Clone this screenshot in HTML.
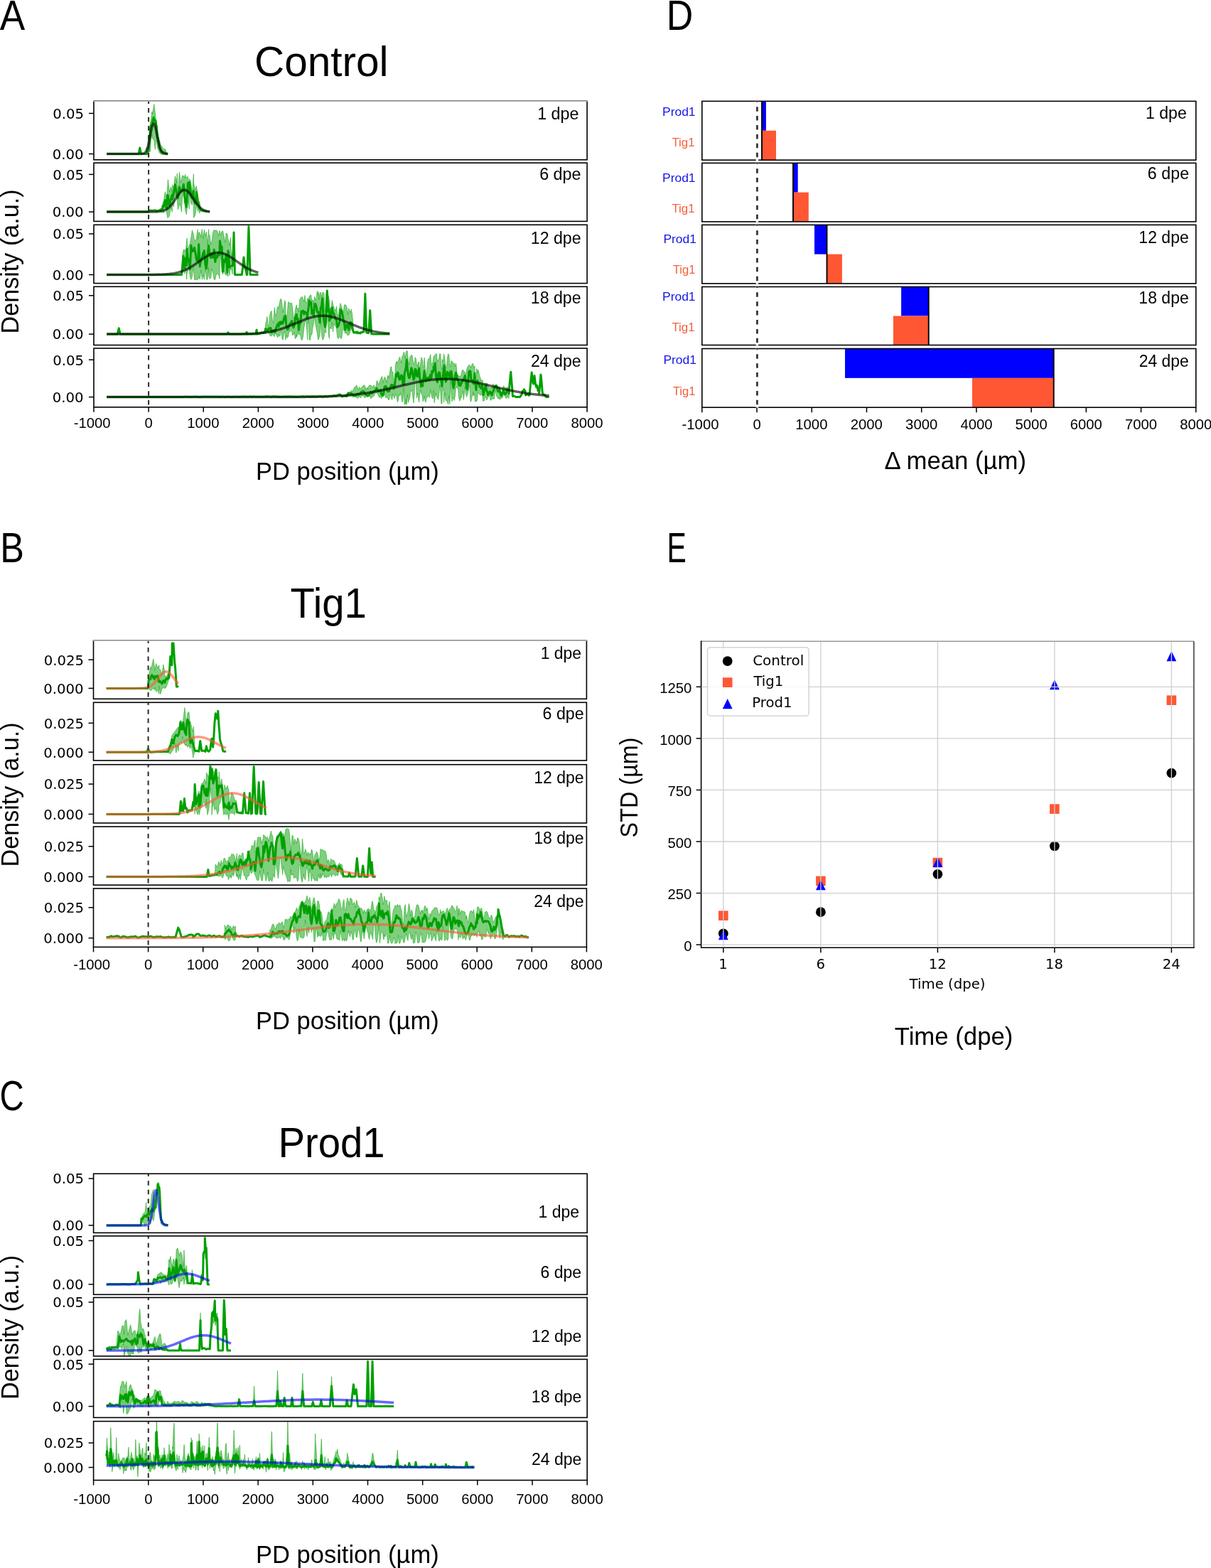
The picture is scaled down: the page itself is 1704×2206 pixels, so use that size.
<!DOCTYPE html><html><head><meta charset="utf-8"><title>Figure</title><style>html,body{margin:0;padding:0;background:#fff;}svg{display:block;}</style></head><body>
<svg width="1704" height="2206" viewBox="0 0 1704 2206">
<rect width="1704" height="2206" fill="#fff"/>
<clipPath id="clipA0"><rect x="132" y="142.2" width="694.1" height="82.6"/></clipPath>
<g clip-path="url(#clipA0)">
<path d="M204.26,216.5 L205.27,215.23 L206.27,207.15 L207.58,213.29 L208.27,199.21 L209.12,192.63 L210.28,193.48 L211.44,172.08 L212.28,170.4 L213.75,157.4 L214.29,160.27 L216.29,150.32 L216.83,146.59 L218.3,158.3 L219.15,166.01 L220.3,177.88 L221.46,176.6 L222.31,187.41 L224.32,199.01 L224.55,197.54 L226.32,205.05 L227.63,205.03 L228.33,207.61 L230.33,208.93 L232.26,211.92 L232.34,209.62 L234.34,215.09 L234.57,214.62 L236.19,216.5 L236.19,216.5 L234.57,216.78 L234.34,216.83 L232.34,216.87 L232.26,216.11 L230.33,216.04 L228.33,217.91 L227.63,214.06 L226.32,216.82 L224.55,215.22 L224.32,215.06 L222.31,209.8 L221.46,208.15 L220.3,198.03 L219.15,199.47 L218.3,210.52 L216.83,197.59 L216.29,196.94 L214.29,194.38 L213.75,189.29 L212.28,197.52 L211.44,213.02 L210.28,213.77 L209.12,211.39 L208.27,216.54 L207.58,216.95 L206.27,217.41 L205.27,216.98 L204.26,216.5Z" fill="#00a000" fill-opacity="0.5" stroke="#00a000" stroke-opacity="0.5" stroke-width="1" stroke-linejoin="round"/>
<path d="M150.12,216.5 L152.13,216.5 L154.13,216.5 L156.14,216.5 L158.14,216.5 L160.15,216.5 L162.15,216.5 L164.16,216.5 L166.17,216.5 L168.17,216.5 L170.18,216.5 L172.18,216.5 L174.19,216.5 L176.19,216.5 L178.2,216.5 L180.2,216.5 L182.21,216.5 L184.21,216.5 L186.22,216.5 L188.22,216.5 L190.23,216.5 L192.23,216.5 L194.24,216.5 L195.09,216.5 L196.24,210.75 L196.78,208.06 L198.25,215.35 L198.48,216.5 L200.25,216.5 L202.26,216.5 L204.26,216.5 L205.27,216.5 L206.27,216.5 L207.58,216.5 L208.27,213.18 L209.12,210.08 L210.28,200.04 L211.44,181.61 L212.28,176.77 L213.75,175.67 L214.29,171.81 L216.29,165.3 L216.83,170.01 L218.3,168.96 L219.15,170.38 L220.3,181.01 L221.46,192.94 L222.31,194.33 L224.32,205.08 L224.55,207.03 L226.32,211.23 L227.63,212.78 L228.33,213.61 L230.33,214.19 L232.26,215.51 L232.34,215.26 L234.34,215.96 L234.57,216.1 L236.19,216.5" fill="none" stroke="#00a000" stroke-width="3" stroke-linejoin="round"/>
<path d="M150.12,216.5 L152.13,216.5 L154.13,216.5 L156.14,216.5 L158.14,216.5 L160.15,216.5 L162.15,216.5 L164.16,216.5 L166.17,216.5 L168.17,216.5 L170.18,216.5 L172.18,216.5 L174.19,216.5 L176.19,216.5 L178.2,216.5 L180.2,216.5 L182.21,216.5 L184.21,216.5 L186.22,216.5 L188.22,216.5 L190.23,216.5 L192.23,216.5 L194.24,216.5 L195.09,216.5 L196.24,216.49 L196.78,216.49 L198.25,216.46 L198.48,216.46 L200.25,216.34 L202.26,215.9 L204.26,214.62 L205.27,213.39 L206.27,211.58 L207.58,208.12 L208.27,205.72 L209.12,202.25 L210.28,196.68 L211.44,190.5 L212.28,185.94 L213.75,178.98 L214.29,176.98 L216.29,173.64 L216.83,173.99 L218.3,177.51 L219.15,180.98 L220.3,186.76 L221.46,193.01 L222.31,197.47 L224.32,206.28 L224.55,207.1 L226.32,211.9 L227.63,214.02 L228.33,214.76 L230.33,215.95 L232.26,216.35 L232.34,216.35 L234.34,216.47 L234.57,216.47 L236.19,216.49" fill="none" stroke="#000000" stroke-opacity="0.62" stroke-width="3.5" stroke-linejoin="round"/>
</g>
<line x1="209.12" y1="142.2" x2="209.12" y2="224.8" stroke="#2e2828" stroke-width="2.0" stroke-dasharray="6.5,6.1" stroke-dashoffset="2.7"/>
<rect x="132" y="142.2" width="694.1" height="82.6" fill="none" stroke="#000" stroke-width="1.6"/>
<line x1="131.2" y1="142.2" x2="826.9" y2="142.2" stroke="#b0b0b0" stroke-width="1.6"/>
<line x1="125" y1="159.5" x2="132" y2="159.5" stroke="#000" stroke-width="1.5"/>
<text x="74.14" y="166.8" font-family='"DejaVu Sans", sans-serif' font-size="19.7">0.05</text>
<line x1="125" y1="216.5" x2="132" y2="216.5" stroke="#000" stroke-width="1.5"/>
<text x="73.75" y="223.8" font-family='"DejaVu Sans", sans-serif' font-size="19.7">0.00</text>
<clipPath id="clipA1"><rect x="132" y="229.2" width="694.1" height="82.2"/></clipPath>
<g clip-path="url(#clipA1)">
<path d="M226.86,296.56 L227.63,294.36 L228.33,292.17 L229.17,284.75 L230.33,283.17 L232.34,269.78 L234.34,279.46 L235.81,261.91 L236.35,252.76 L238.35,270.11 L240.36,262.98 L242.28,271.16 L242.36,259.86 L244.37,265.06 L246.37,247.67 L248.38,257.28 L249.23,244.21 L250.38,271.58 L252.39,242.29 L254.39,257.18 L255.4,252.45 L256.4,247.23 L258.4,247.39 L260.02,250.32 L260.41,245.59 L262.41,250.07 L264.42,248.32 L266.19,264.89 L266.42,251.56 L268.43,254.89 L270.43,272.83 L272.36,244.7 L272.44,255.89 L274.44,267.21 L276.22,261.92 L276.45,261.95 L278.46,274.53 L280.07,285.86 L280.46,283.18 L282.47,292.3 L283.16,295.05 L284.47,296.29 L284.47,296.29 L283.16,296.69 L282.47,296.4 L280.46,300.06 L280.07,292 L278.46,297.48 L276.45,283.6 L276.22,293.46 L274.44,303.59 L272.44,306.53 L272.36,277.13 L270.43,288.39 L268.43,285.76 L266.42,267.17 L266.19,293.93 L264.42,282.21 L262.41,301.87 L260.41,294.82 L260.02,282.52 L258.4,269.87 L256.4,280.25 L255.4,298.23 L254.39,291.04 L252.39,287.05 L250.38,294.81 L249.23,278.87 L248.38,277.31 L246.37,274.41 L244.37,290.92 L242.36,284.18 L242.28,298.19 L240.36,291.78 L238.35,303.87 L236.35,306.36 L235.81,306.53 L234.34,298.45 L232.34,290.35 L230.33,299.94 L229.17,291.11 L228.33,296.15 L227.63,297.59 L226.86,296.56Z" fill="#00a000" fill-opacity="0.5" stroke="#00a000" stroke-opacity="0.5" stroke-width="1" stroke-linejoin="round"/>
<path d="M150.12,298.1 L152.13,298.1 L154.13,298.1 L156.14,298.1 L158.14,298.1 L160.15,298.1 L162.15,298.1 L164.16,298.1 L166.17,298.1 L168.17,298.1 L170.18,298.1 L172.18,298.1 L174.19,298.1 L176.19,298.1 L178.2,298.1 L180.2,298.1 L182.21,298.1 L184.21,298.1 L186.22,298.1 L188.22,298.1 L190.23,298.1 L192.23,298.1 L194.24,298.1 L196.24,298.1 L198.25,298.1 L200.25,298.1 L202.26,298.1 L204.26,298.1 L206.27,298.1 L208.27,298.1 L209.12,298.1 L210.28,296.47 L210.66,296.12 L212.28,296.35 L214.29,296.23 L216.29,296.44 L218.3,295.71 L220.3,296.95 L222.31,296.43 L224.32,295.9 L226.32,294.69 L226.86,296.56 L227.63,295.91 L228.33,294.26 L229.17,289.63 L230.33,290.61 L232.34,281.49 L234.34,293.09 L235.81,274.58 L236.35,275.13 L238.35,289.61 L240.36,280.33 L242.28,274.06 L242.36,280.62 L244.37,271.92 L246.37,259.46 L248.38,271.51 L249.23,275.29 L250.38,278.76 L252.39,263.09 L254.39,269.61 L255.4,268.46 L256.4,267.64 L258.4,259.29 L260.02,278.28 L260.41,283.53 L262.41,291.2 L264.42,257.48 L266.19,269.99 L266.42,256.33 L268.43,271.54 L270.43,278.89 L272.36,268.57 L272.44,273.63 L274.44,286.14 L276.22,285.73 L276.45,270.13 L278.46,284.83 L280.07,289.65 L280.46,292.03 L282.47,295.6 L283.16,295.33 L284.47,296.29 L286.48,296.98 L288.48,296.99 L290.49,297.54 L292.49,297.61 L294.5,297.95 L295.11,298.1" fill="none" stroke="#00a000" stroke-width="3" stroke-linejoin="round"/>
<path d="M150.12,298.1 L152.13,298.1 L154.13,298.1 L156.14,298.1 L158.14,298.1 L160.15,298.1 L162.15,298.1 L164.16,298.1 L166.17,298.1 L168.17,298.1 L170.18,298.1 L172.18,298.1 L174.19,298.1 L176.19,298.1 L178.2,298.1 L180.2,298.1 L182.21,298.1 L184.21,298.1 L186.22,298.1 L188.22,298.1 L190.23,298.1 L192.23,298.1 L194.24,298.1 L196.24,298.1 L198.25,298.1 L200.25,298.1 L202.26,298.1 L204.26,298.1 L206.27,298.1 L208.27,298.1 L209.12,298.09 L210.28,298.09 L210.66,298.09 L212.28,298.08 L214.29,298.07 L216.29,298.04 L218.3,298 L220.3,297.93 L222.31,297.81 L224.32,297.63 L226.32,297.35 L226.86,297.26 L227.63,297.1 L228.33,296.94 L229.17,296.72 L230.33,296.36 L232.34,295.55 L234.34,294.47 L235.81,293.48 L236.35,293.07 L238.35,291.31 L240.36,289.18 L242.28,286.8 L242.36,286.69 L244.37,283.91 L246.37,280.91 L248.38,277.83 L249.23,276.55 L250.38,274.84 L252.39,272.13 L254.39,269.87 L255.4,268.97 L256.4,268.24 L258.4,267.36 L260.02,267.24 L260.41,267.29 L262.41,268.05 L264.42,269.58 L266.19,271.47 L266.42,271.75 L268.43,274.4 L270.43,277.36 L272.36,280.32 L272.44,280.43 L274.44,283.45 L276.22,285.97 L276.45,286.28 L278.46,288.82 L280.07,290.61 L280.46,291.01 L282.47,292.82 L283.16,293.37 L284.47,294.28 L286.48,295.41 L288.48,296.25 L290.49,296.87 L292.49,297.3 L294.5,297.59 L295.11,297.66" fill="none" stroke="#000000" stroke-opacity="0.62" stroke-width="3.5" stroke-linejoin="round"/>
</g>
<line x1="209.12" y1="229.2" x2="209.12" y2="311.4" stroke="#2e2828" stroke-width="2.0" stroke-dasharray="6.5,6.1" stroke-dashoffset="2.7"/>
<rect x="132" y="229.2" width="694.1" height="82.2" fill="none" stroke="#000" stroke-width="1.6"/>
<line x1="125" y1="245.4" x2="132" y2="245.4" stroke="#000" stroke-width="1.5"/>
<text x="74.14" y="252.7" font-family='"DejaVu Sans", sans-serif' font-size="19.7">0.05</text>
<line x1="125" y1="298.1" x2="132" y2="298.1" stroke="#000" stroke-width="1.5"/>
<text x="73.75" y="305.4" font-family='"DejaVu Sans", sans-serif' font-size="19.7">0.00</text>
<clipPath id="clipA2"><rect x="132" y="316.3" width="694.1" height="82.3"/></clipPath>
<g clip-path="url(#clipA2)">
<path d="M255.4,386.5 L256.55,359.94 L258.09,351.6 L259.64,351.11 L261.18,354.38 L262.72,338.23 L263.11,335.21 L264.26,351.03 L265.81,346.62 L267.35,342.26 L268.89,334.11 L270.43,323.82 L271.98,328.78 L273.52,337.14 L275.06,339.13 L276.6,334.46 L278.15,322.7 L278.53,336.35 L279.69,327.07 L281.23,327.51 L282.77,333.66 L284.32,322.24 L285.86,336.17 L287.4,323 L288.94,332.47 L290.49,325.95 L292.03,344.49 L293.57,322.65 L293.96,330.66 L295.11,330.9 L296.66,344.03 L298.2,338.64 L299.74,326.28 L301.28,323.22 L302.83,324.51 L304.37,323.65 L305.91,325.24 L307.45,331.66 L309,324.34 L309.38,325.45 L310.54,330.69 L312.08,325.51 L313.62,325.03 L315.17,332.51 L316.71,340.83 L318.25,328 L319.79,328.77 L320.95,337.21 L321.34,337.16 L322.88,345.21 L324.42,334.29 L325.96,367.91 L327.12,355.09 L327.5,373.66 L327.5,373.66 L327.12,385.78 L325.96,378.79 L324.42,378.12 L322.88,387.4 L321.34,361.81 L320.95,388.98 L319.79,386.35 L318.25,387.14 L316.71,386.07 L315.17,380.41 L313.62,386.02 L312.08,382.29 L310.54,362.45 L309.38,362.06 L309,392.31 L307.45,385.48 L305.91,385.75 L304.37,385.52 L302.83,393.23 L301.28,393.4 L299.74,384.32 L298.2,378.15 L296.66,391.05 L295.11,392.46 L293.96,388.5 L293.57,376.5 L292.03,393.4 L290.49,392.81 L288.94,375.8 L287.4,393.4 L285.86,386.72 L284.32,393.4 L282.77,379.89 L281.23,393.08 L279.69,389.08 L278.53,393.4 L278.15,393.06 L276.6,393.4 L275.06,393.4 L273.52,393.4 L271.98,374.58 L270.43,388.98 L268.89,393.4 L267.35,389.11 L265.81,375.76 L264.26,381.45 L263.11,384.73 L262.72,392.99 L261.18,376.43 L259.64,385.11 L258.09,377.26 L256.55,385.63 L255.4,386.5Z" fill="#00a000" fill-opacity="0.5" stroke="#00a000" stroke-opacity="0.5" stroke-width="1" stroke-linejoin="round"/>
<path d="M150.12,386.5 L151.67,386.5 L153.21,386.5 L154.75,386.5 L156.29,386.5 L157.84,386.5 L159.38,386.5 L160.92,386.5 L162.46,386.5 L164.01,386.5 L165.55,386.5 L167.09,386.5 L168.63,386.5 L170.18,386.5 L171.72,386.5 L173.26,386.5 L174.8,386.5 L176.35,386.5 L177.89,386.5 L179.43,386.5 L180.97,386.5 L182.52,386.5 L184.06,386.5 L185.6,386.5 L187.14,386.5 L188.68,386.5 L190.23,386.5 L191.77,386.5 L193.31,386.5 L194.85,386.5 L196.4,386.5 L197.94,386.5 L199.48,386.5 L201.02,386.5 L202.57,386.5 L204.11,386.5 L205.65,386.5 L207.19,386.5 L208.74,386.5 L210.28,386.5 L211.82,386.5 L213.36,386.5 L214.91,386.5 L216.45,386.5 L217.99,386.5 L219.53,386.5 L221.08,386.5 L222.62,386.5 L224.16,386.5 L225.7,386.5 L227.25,386.5 L228.79,386.5 L230.33,386.5 L231.87,386.5 L233.42,386.5 L234.96,386.5 L236.5,386.5 L238.04,386.5 L239.59,386.5 L241.13,386.5 L242.67,386.5 L244.21,386.5 L245.76,386.5 L247.3,386.5 L248.84,386.5 L250.38,386.5 L251.93,386.5 L253.47,386.5 L255.01,386.5 L255.4,386.5 L256.55,376.06 L258.09,360.38 L259.64,377.01 L261.18,363.33 L262.72,373.46 L263.11,350.57 L264.26,363.36 L265.81,366.24 L267.35,378.91 L268.89,345.14 L270.43,353.73 L271.98,353.12 L273.52,348.51 L275.06,356.22 L276.6,366.39 L278.15,367.81 L278.53,367.73 L279.69,343.77 L281.23,375.02 L282.77,365.48 L284.32,362.45 L285.86,356.42 L287.4,352.55 L288.94,372.69 L290.49,378 L292.03,358.95 L293.57,345.5 L293.96,350.54 L295.11,356.71 L296.66,362.75 L298.2,356.37 L299.74,362.36 L301.28,351.33 L302.83,368.57 L304.37,359.05 L305.91,361.83 L307.45,355.35 L309,358.86 L309.38,338.94 L310.54,346.4 L312.08,346.91 L313.62,382 L315.17,365.64 L316.71,368.46 L318.25,357.95 L319.79,383.71 L320.95,352.69 L321.34,354.19 L322.88,376.33 L324.42,374.44 L325.96,374 L327.12,374.02 L327.5,373.66 L327.66,369.39 L329.05,327.12 L329.43,344.97 L330.44,386.5 L330.59,386.5 L332.13,386.5 L333.67,386.5 L335.22,386.5 L336.76,386.5 L338.3,386.5 L339.84,386.5 L340.23,386.5 L341.39,377.85 L341.85,375.2 L342.93,362.02 L343.7,368.3 L344.47,375.53 L345.63,379.64 L346.01,378.39 L347.17,386.5 L347.56,386.5 L347.79,386.5 L349.1,345.31 L349.95,318.65 L350.64,340.46 L352.11,386.5 L352.18,386.5 L353.73,386.5 L355.27,386.5 L355.65,386.5 L356.81,386.5 L358.35,386.5 L359.9,386.5 L361.44,386.5 L362.98,386.5 L363.44,386.5" fill="none" stroke="#00a000" stroke-width="3" stroke-linejoin="round"/>
<path d="M150.12,386.5 L151.67,386.5 L153.21,386.5 L154.75,386.5 L156.29,386.5 L157.84,386.5 L159.38,386.5 L160.92,386.5 L162.46,386.5 L164.01,386.5 L165.55,386.5 L167.09,386.5 L168.63,386.5 L170.18,386.5 L171.72,386.5 L173.26,386.5 L174.8,386.5 L176.35,386.5 L177.89,386.5 L179.43,386.5 L180.97,386.5 L182.52,386.5 L184.06,386.5 L185.6,386.5 L187.14,386.5 L188.68,386.5 L190.23,386.5 L191.77,386.5 L193.31,386.5 L194.85,386.5 L196.4,386.5 L197.94,386.49 L199.48,386.49 L201.02,386.49 L202.57,386.49 L204.11,386.48 L205.65,386.48 L207.19,386.48 L208.74,386.47 L210.28,386.46 L211.82,386.45 L213.36,386.44 L214.91,386.43 L216.45,386.41 L217.99,386.39 L219.53,386.37 L221.08,386.34 L222.62,386.31 L224.16,386.27 L225.7,386.23 L227.25,386.17 L228.79,386.11 L230.33,386.04 L231.87,385.95 L233.42,385.86 L234.96,385.74 L236.5,385.61 L238.04,385.47 L239.59,385.3 L241.13,385.11 L242.67,384.89 L244.21,384.65 L245.76,384.37 L247.3,384.07 L248.84,383.73 L250.38,383.36 L251.93,382.94 L253.47,382.49 L255.01,382 L255.4,381.86 L256.55,381.46 L258.09,380.87 L259.64,380.24 L261.18,379.56 L262.72,378.83 L263.11,378.64 L264.26,378.06 L265.81,377.24 L267.35,376.38 L268.89,375.47 L270.43,374.52 L271.98,373.54 L273.52,372.52 L275.06,371.47 L276.6,370.4 L278.15,369.32 L278.53,369.04 L279.69,368.22 L281.23,367.12 L282.77,366.02 L284.32,364.93 L285.86,363.87 L287.4,362.83 L288.94,361.83 L290.49,360.88 L292.03,359.98 L293.57,359.14 L293.96,358.94 L295.11,358.37 L296.66,357.68 L298.2,357.07 L299.74,356.55 L301.28,356.13 L302.83,355.81 L304.37,355.59 L305.91,355.47 L307.45,355.46 L309,355.55 L309.38,355.59 L310.54,355.75 L312.08,356.06 L313.62,356.46 L315.17,356.96 L316.71,357.55 L318.25,358.23 L319.79,358.98 L320.95,359.59 L321.34,359.8 L322.88,360.69 L324.42,361.64 L325.96,362.63 L327.12,363.4 L327.5,363.66 L327.66,363.76 L329.05,364.72 L329.43,364.99 L330.44,365.69 L330.59,365.8 L332.13,366.9 L333.67,368 L335.22,369.1 L336.76,370.19 L338.3,371.26 L339.84,372.31 L340.23,372.57 L341.39,373.33 L341.85,373.64 L342.93,374.33 L343.7,374.81 L344.47,375.28 L345.63,375.97 L346.01,376.2 L347.17,376.86 L347.56,377.07 L347.79,377.2 L349.1,377.9 L349.95,378.34 L350.64,378.68 L352.11,379.38 L352.18,379.42 L353.73,380.11 L355.27,380.75 L355.65,380.9 L356.81,381.34 L358.35,381.89 L359.9,382.4 L361.44,382.86 L362.98,383.28 L363.44,383.4" fill="none" stroke="#000000" stroke-opacity="0.62" stroke-width="3.5" stroke-linejoin="round"/>
</g>
<line x1="209.12" y1="316.3" x2="209.12" y2="398.6" stroke="#2e2828" stroke-width="2.0" stroke-dasharray="6.5,6.1" stroke-dashoffset="2.7"/>
<rect x="132" y="316.3" width="694.1" height="82.3" fill="none" stroke="#000" stroke-width="1.6"/>
<line x1="125" y1="329" x2="132" y2="329" stroke="#000" stroke-width="1.5"/>
<text x="74.14" y="336.3" font-family='"DejaVu Sans", sans-serif' font-size="19.7">0.05</text>
<line x1="125" y1="386.5" x2="132" y2="386.5" stroke="#000" stroke-width="1.5"/>
<text x="73.75" y="393.8" font-family='"DejaVu Sans", sans-serif' font-size="19.7">0.00</text>
<clipPath id="clipA3"><rect x="132" y="403.3" width="694.1" height="82.2"/></clipPath>
<g clip-path="url(#clipA3)">
<path d="M373.47,463.85 L373.62,455.92 L374.7,452.09 L375.94,445.56 L377.17,458.06 L378.41,458.93 L379.64,443.42 L380.87,438.9 L382.11,437.29 L383.34,451.52 L384.58,454.43 L385.81,437.02 L386.5,432.63 L387.04,440.96 L388.28,444.83 L389.51,436.15 L390.75,431.29 L391.98,433.78 L393.21,427.08 L394.45,421.15 L395.68,420.35 L396.91,428.09 L398.15,439.82 L399.38,432.9 L400.62,422.58 L401.85,425.89 L401.93,440.51 L403.08,451.77 L404.32,438.92 L405.55,424.81 L406.79,425.37 L408.02,427.11 L409.25,426.49 L410.49,426.16 L411.72,433.26 L412.96,447.87 L414.19,445.83 L415.42,436.11 L416.66,430.99 L417.35,428.85 L417.89,434.49 L419.13,433.32 L420.36,438.91 L421.59,421.96 L422.83,419.14 L424.06,418.14 L425.3,417.41 L426.53,421.01 L427.76,424.56 L429,415.51 L430.23,425.89 L431.47,426.13 L432.7,419.86 L432.78,419.95 L433.93,420.82 L435.17,416.87 L436.4,415.45 L437.64,414.92 L438.87,424.18 L440.1,421.87 L441.34,426.92 L442.57,417.35 L443.81,421.97 L445.04,419.81 L446.27,409.57 L447.51,414.97 L448.2,410.38 L448.74,421.65 L449.97,413.13 L451.21,410.91 L452.44,418.16 L453.68,411.64 L454.91,410.92 L456.14,414.05 L457.38,438.1 L458.61,432.54 L459.85,413.63 L460.31,408.8 L461.08,417.51 L462.01,417.19 L462.31,416.58 L463.55,424.26 L463.63,433.79 L464.78,432.47 L466.02,433.97 L467.25,422.44 L468.48,427.74 L469.72,432.03 L470.95,435.57 L472.19,437.6 L473.42,430.88 L474.65,441.45 L475.89,445.34 L477.12,436.75 L478.36,429.37 L479.05,426.66 L479.59,428.22 L480.82,432.11 L482.06,439.33 L483.29,438.23 L484.53,428.59 L485.76,429.02 L486.99,429.46 L488.23,433.06 L489.46,442.29 L490.7,433.82 L491.93,436.93 L493.16,439.72 L494.4,434.79 L494.47,436.83 L495.63,442.27 L496.87,455.02 L497.56,463.64 L498.1,467.43 L498.1,467.43 L497.56,470.1 L496.87,467.88 L495.63,463.19 L494.47,457.63 L494.4,461.84 L493.16,464.94 L491.93,469.3 L490.7,471.19 L489.46,472.18 L488.23,470.65 L486.99,467.38 L485.76,469.24 L484.53,465.22 L483.29,463.58 L482.06,464.94 L480.82,475.99 L479.59,476.43 L479.05,475.63 L478.36,473.65 L477.12,473.27 L475.89,476.75 L474.65,474.4 L473.42,462.18 L472.19,458.79 L470.95,457.82 L469.72,455.7 L468.48,466.87 L467.25,453.41 L466.02,463.18 L464.78,460.22 L463.63,463.18 L463.55,476.45 L462.31,472.31 L462.01,463.01 L461.08,453.15 L460.31,427.63 L459.85,448.11 L458.61,468.35 L457.38,465.45 L456.14,473.36 L454.91,477.64 L453.68,477.69 L452.44,470.28 L451.21,450.73 L449.97,472.34 L448.74,475.91 L448.2,477.92 L447.51,477.95 L446.27,468.6 L445.04,462.23 L443.81,455.74 L442.57,444.09 L441.34,455.31 L440.1,460.73 L438.87,471.04 L437.64,470.53 L436.4,478.25 L435.17,478.25 L433.93,448.99 L432.78,457.02 L432.7,478.25 L431.47,459.51 L430.23,445.41 L429,455.14 L427.76,460.65 L426.53,473.47 L425.3,478.25 L424.06,478.25 L422.83,472.77 L421.59,469.77 L420.36,470.96 L419.13,466.83 L417.89,474.03 L417.35,470.68 L416.66,475.6 L415.42,476.63 L414.19,467.89 L412.96,470.4 L411.72,472.02 L410.49,466.12 L409.25,464.43 L408.02,466.69 L406.79,466.38 L405.55,473.53 L404.32,475.49 L403.08,471.55 L401.93,478.25 L401.85,478.25 L400.62,465.89 L399.38,469.64 L398.15,478.25 L396.91,476.54 L395.68,461.95 L394.45,471.87 L393.21,473.4 L391.98,470.7 L390.75,474.84 L389.51,472.92 L388.28,469.22 L387.04,469.74 L386.5,471.32 L385.81,473.72 L384.58,471.73 L383.34,469.65 L382.11,472.72 L380.87,472.97 L379.64,471.43 L378.41,468.46 L377.17,467.68 L375.94,467.55 L374.7,467.91 L373.62,470.1 L373.47,463.85Z" fill="#00a000" fill-opacity="0.5" stroke="#00a000" stroke-opacity="0.5" stroke-width="1" stroke-linejoin="round"/>
<path d="M150.12,470.1 L151.36,470.1 L152.59,470.1 L153.83,470.1 L155.06,470.1 L156.29,470.1 L157.53,470.1 L158.76,470.1 L160,470.1 L161.23,470.1 L162.46,470.1 L163.7,470.1 L164.93,470.1 L165.32,470.1 L166.17,466.42 L167.24,461.74 L167.4,462.41 L168.63,467.76 L169.17,470.1 L169.87,470.1 L171.1,470.1 L172.33,470.1 L173.57,470.1 L174.8,470.1 L176.04,470.1 L177.27,470.1 L178.5,470.1 L179.74,470.1 L180.97,470.1 L182.21,470.1 L183.44,470.1 L184.67,470.1 L185.91,470.1 L187.14,470.1 L188.38,470.1 L189.61,470.1 L190.84,470.1 L192.08,470.1 L193.31,470.1 L194.55,470.1 L195.78,470.1 L197.01,470.1 L198.25,470.1 L199.48,470.1 L200.72,470.1 L201.95,470.1 L203.18,470.1 L204.42,470.1 L205.65,470.1 L206.89,470.1 L208.12,470.1 L209.35,470.1 L210.59,470.1 L211.82,470.1 L213.06,470.1 L214.29,470.1 L215.52,470.1 L216.76,470.1 L217.99,470.1 L219.23,470.1 L220.46,470.1 L221.69,470.1 L222.93,470.1 L224.16,470.1 L225.4,470.1 L226.63,470.1 L227.86,470.1 L229.1,470.1 L230.33,470.1 L231.56,470.1 L232.8,470.1 L234.03,470.1 L235.27,470.1 L236.5,470.1 L237.73,470.1 L238.97,470.1 L240.2,470.1 L241.44,470.1 L242.67,470.1 L243.9,470.1 L245.14,470.1 L246.37,470.1 L247.61,470.1 L248.84,470.1 L250.07,470.1 L251.31,470.1 L252.54,470.1 L253.78,470.1 L255.01,470.1 L256.24,470.1 L257.48,470.1 L258.71,470.1 L259.95,470.1 L261.18,470.1 L262.41,470.1 L263.65,470.1 L264.88,470.1 L266.12,470.1 L267.35,470.1 L268.58,470.1 L269.82,470.1 L271.05,470.1 L272.29,470.1 L273.52,470.1 L274.75,470.1 L275.99,470.1 L277.22,470.1 L278.46,470.1 L279.69,470.1 L280.92,470.1 L282.16,470.1 L283.39,470.1 L284.62,470.1 L285.86,470.1 L287.09,470.1 L288.33,470.1 L289.56,470.1 L290.79,470.1 L292.03,470.1 L293.26,470.1 L294.5,470.1 L295.73,470.1 L296.96,470.1 L298.2,470.1 L299.43,470.1 L300.67,470.1 L301.9,470.1 L303.13,470.1 L304.37,470.1 L305.6,470.1 L306.84,470.1 L308.07,470.1 L309.3,470.1 L310.54,470.1 L311.77,470.1 L313.01,470.1 L314.24,470.1 L315.47,470.1 L316.71,470.1 L317.94,470.1 L319.18,470.1 L319.79,470.1 L320.41,468.94 L320.95,467.93 L321.64,469.23 L322.11,470.1 L322.88,470.1 L324.11,470.1 L325.35,470.1 L326.58,470.1 L327.81,470.1 L329.05,470.1 L330.28,470.1 L331.52,470.1 L332.75,470.1 L333.98,470.1 L335.22,470.1 L336.45,470.1 L337.68,470.1 L338.92,470.1 L340.15,470.1 L341.39,470.1 L342.62,470.1 L343.85,470.1 L345.09,470.1 L346.32,470.1 L346.4,470.1 L346.94,467.23 L347.56,468.42 L347.94,470.1 L348.79,470.1 L350.02,470.1 L351.26,470.1 L352.49,470.1 L353.73,470.1 L354.96,470.1 L356.19,470.1 L357.43,470.1 L358.66,470.1 L359.9,470.1 L360.28,470.1 L360.9,464.45 L361.13,464.16 L361.82,470.1 L362.36,469.87 L363.6,469.49 L364.83,469.4 L366.07,468.84 L367.3,468.72 L368.53,467.81 L369.77,468.32 L371,468.44 L372.24,466.76 L373.47,463.85 L373.62,462.43 L374.7,463.2 L375.94,465.54 L377.17,464.86 L378.41,461.9 L379.64,462.54 L380.87,461.25 L382.11,467.77 L383.34,465.11 L384.58,466.49 L385.81,464.55 L386.5,467.05 L387.04,467.45 L388.28,462 L389.51,459.11 L390.75,455.74 L391.98,459.63 L393.21,453.15 L394.45,456.07 L395.68,452.65 L396.91,455.55 L398.15,454.49 L399.38,448.88 L400.62,444.9 L401.85,444.21 L401.93,448.31 L403.08,459.37 L404.32,463.71 L405.55,462.81 L406.79,458.33 L408.02,455.04 L409.25,454.56 L410.49,451.48 L411.72,456.72 L412.96,461.05 L414.19,457.82 L415.42,446.82 L416.66,443.72 L417.35,442.44 L417.89,449.97 L419.13,448.14 L420.36,464.3 L421.59,455.99 L422.83,454.42 L424.06,438.03 L425.3,438.3 L426.53,437.17 L427.76,441.93 L429,438.57 L430.23,439.62 L431.47,441.05 L432.7,447.57 L432.78,441.51 L433.93,434.56 L435.17,422.63 L436.4,427.86 L437.64,425.32 L438.87,441.47 L440.1,436.77 L441.34,443.9 L442.57,427.98 L443.81,427.6 L445.04,431.08 L446.27,438.54 L447.51,440.07 L448.2,439.04 L448.74,445 L449.97,453.8 L451.21,433.42 L452.44,430.81 L453.68,419.77 L454.91,444.4 L456.14,452.49 L457.38,459.86 L458.61,453.43 L459.85,413.91 L460.31,409 L461.08,422.04 L462.01,438.45 L462.31,437.94 L463.55,435.87 L463.63,451.26 L464.78,443.98 L466.02,447.81 L467.25,432.64 L468.48,439.39 L469.72,441.21 L470.95,445.66 L472.19,448.81 L473.42,450.27 L474.65,460.36 L475.89,458.34 L477.12,455.4 L478.36,448.61 L479.05,435.52 L479.59,435.98 L480.82,437.01 L482.06,442.91 L483.29,450.58 L484.53,455.75 L485.76,464.22 L486.99,457.3 L488.23,460.62 L489.46,456.9 L490.7,464.29 L491.93,459.76 L493.16,453.39 L494.4,453.94 L494.47,455.24 L495.63,461.86 L496.87,465.79 L497.56,467.5 L498.1,467.43 L499.33,467.9 L500.57,467.11 L501.8,468.47 L503.04,466.97 L504.27,468.79 L505.5,468.15 L506.74,468.95 L507.97,467.47 L509.2,467.84 L509.9,467.41 L510.44,466.81 L511.67,466.67 L511.98,466.63 L512.91,440.33 L513.83,413.31 L514.14,422.12 L515.37,459.34 L515.68,467.77 L516.61,468.19 L517.84,468.58 L518.77,468.52 L519.08,463.43 L520.31,442.69 L520.7,436.87 L521.54,451.4 L522.62,469.75 L522.78,469.62 L524.01,469.76 L525.25,470.1 L526.48,470.1 L527.71,470.1 L528.95,470.1 L530.18,470.1 L531.42,470.1 L532.65,470.1 L533.88,470.1 L535.12,470.1 L536.35,470.1 L537.59,470.1 L538.82,470.1 L540.05,470.1 L541.29,470.1 L542.52,470.1 L543.76,470.1 L544.99,470.1 L546.22,470.1 L547.46,470.1 L548.31,470.1" fill="none" stroke="#00a000" stroke-width="3" stroke-linejoin="round"/>
<path d="M150.12,470.1 L151.36,470.1 L152.59,470.1 L153.83,470.1 L155.06,470.1 L156.29,470.1 L157.53,470.1 L158.76,470.1 L160,470.1 L161.23,470.1 L162.46,470.1 L163.7,470.1 L164.93,470.1 L165.32,470.1 L166.17,470.1 L167.24,470.1 L167.4,470.1 L168.63,470.1 L169.17,470.1 L169.87,470.1 L171.1,470.1 L172.33,470.1 L173.57,470.1 L174.8,470.1 L176.04,470.1 L177.27,470.1 L178.5,470.1 L179.74,470.1 L180.97,470.1 L182.21,470.1 L183.44,470.1 L184.67,470.1 L185.91,470.1 L187.14,470.1 L188.38,470.1 L189.61,470.1 L190.84,470.1 L192.08,470.1 L193.31,470.1 L194.55,470.1 L195.78,470.1 L197.01,470.1 L198.25,470.1 L199.48,470.1 L200.72,470.1 L201.95,470.1 L203.18,470.1 L204.42,470.1 L205.65,470.1 L206.89,470.1 L208.12,470.1 L209.35,470.1 L210.59,470.1 L211.82,470.1 L213.06,470.1 L214.29,470.1 L215.52,470.1 L216.76,470.1 L217.99,470.1 L219.23,470.1 L220.46,470.1 L221.69,470.1 L222.93,470.1 L224.16,470.1 L225.4,470.1 L226.63,470.1 L227.86,470.1 L229.1,470.1 L230.33,470.1 L231.56,470.1 L232.8,470.1 L234.03,470.1 L235.27,470.1 L236.5,470.1 L237.73,470.1 L238.97,470.1 L240.2,470.1 L241.44,470.1 L242.67,470.1 L243.9,470.1 L245.14,470.1 L246.37,470.1 L247.61,470.1 L248.84,470.1 L250.07,470.1 L251.31,470.1 L252.54,470.1 L253.78,470.1 L255.01,470.1 L256.24,470.1 L257.48,470.1 L258.71,470.1 L259.95,470.1 L261.18,470.1 L262.41,470.1 L263.65,470.1 L264.88,470.1 L266.12,470.1 L267.35,470.1 L268.58,470.1 L269.82,470.1 L271.05,470.1 L272.29,470.1 L273.52,470.1 L274.75,470.1 L275.99,470.1 L277.22,470.1 L278.46,470.1 L279.69,470.1 L280.92,470.1 L282.16,470.1 L283.39,470.1 L284.62,470.1 L285.86,470.1 L287.09,470.1 L288.33,470.1 L289.56,470.1 L290.79,470.1 L292.03,470.1 L293.26,470.1 L294.5,470.1 L295.73,470.1 L296.96,470.1 L298.2,470.1 L299.43,470.1 L300.67,470.1 L301.9,470.09 L303.13,470.09 L304.37,470.09 L305.6,470.09 L306.84,470.09 L308.07,470.09 L309.3,470.09 L310.54,470.09 L311.77,470.08 L313.01,470.08 L314.24,470.08 L315.47,470.08 L316.71,470.07 L317.94,470.07 L319.18,470.07 L319.79,470.07 L320.41,470.06 L320.95,470.06 L321.64,470.06 L322.11,470.06 L322.88,470.05 L324.11,470.05 L325.35,470.04 L326.58,470.03 L327.81,470.03 L329.05,470.02 L330.28,470.01 L331.52,470 L332.75,469.98 L333.98,469.97 L335.22,469.96 L336.45,469.94 L337.68,469.92 L338.92,469.9 L340.15,469.88 L341.39,469.86 L342.62,469.83 L343.85,469.8 L345.09,469.77 L346.32,469.74 L346.4,469.73 L346.94,469.72 L347.56,469.7 L347.94,469.69 L348.79,469.66 L350.02,469.62 L351.26,469.57 L352.49,469.52 L353.73,469.46 L354.96,469.4 L356.19,469.33 L357.43,469.26 L358.66,469.19 L359.9,469.1 L360.28,469.08 L360.9,469.03 L361.13,469.02 L361.82,468.96 L362.36,468.92 L363.6,468.82 L364.83,468.71 L366.07,468.6 L367.3,468.47 L368.53,468.34 L369.77,468.2 L371,468.05 L372.24,467.89 L373.47,467.72 L373.62,467.7 L374.7,467.54 L375.94,467.35 L377.17,467.15 L378.41,466.94 L379.64,466.72 L380.87,466.48 L382.11,466.24 L383.34,465.98 L384.58,465.71 L385.81,465.43 L386.5,465.26 L387.04,465.13 L388.28,464.82 L389.51,464.5 L390.75,464.17 L391.98,463.82 L393.21,463.46 L394.45,463.09 L395.68,462.7 L396.91,462.3 L398.15,461.89 L399.38,461.47 L400.62,461.04 L401.85,460.59 L401.93,460.56 L403.08,460.14 L404.32,459.67 L405.55,459.2 L406.79,458.71 L408.02,458.22 L409.25,457.72 L410.49,457.21 L411.72,456.7 L412.96,456.19 L414.19,455.67 L415.42,455.14 L416.66,454.62 L417.35,454.32 L417.89,454.1 L419.13,453.57 L420.36,453.05 L421.59,452.53 L422.83,452.02 L424.06,451.51 L425.3,451.01 L426.53,450.51 L427.76,450.03 L429,449.56 L430.23,449.1 L431.47,448.65 L432.7,448.22 L432.78,448.2 L433.93,447.81 L435.17,447.41 L436.4,447.03 L437.64,446.67 L438.87,446.34 L440.1,446.02 L441.34,445.73 L442.57,445.46 L443.81,445.22 L445.04,445 L446.27,444.81 L447.51,444.65 L448.2,444.57 L448.74,444.51 L449.97,444.41 L451.21,444.33 L452.44,444.28 L453.68,444.25 L454.91,444.26 L456.14,444.3 L457.38,444.36 L458.61,444.46 L459.85,444.58 L460.31,444.63 L461.08,444.73 L462.01,444.86 L462.31,444.9 L463.55,445.11 L463.63,445.12 L464.78,445.34 L466.02,445.59 L467.25,445.87 L468.48,446.18 L469.72,446.5 L470.95,446.85 L472.19,447.22 L473.42,447.61 L474.65,448.01 L475.89,448.44 L477.12,448.87 L478.36,449.33 L479.05,449.59 L479.59,449.79 L480.82,450.27 L482.06,450.76 L483.29,451.26 L484.53,451.76 L485.76,452.27 L486.99,452.79 L488.23,453.31 L489.46,453.83 L490.7,454.36 L491.93,454.88 L493.16,455.41 L494.4,455.93 L494.47,455.96 L495.63,456.45 L496.87,456.96 L497.56,457.25 L498.1,457.47 L499.33,457.97 L500.57,458.47 L501.8,458.96 L503.04,459.43 L504.27,459.9 L505.5,460.37 L506.74,460.82 L507.97,461.25 L509.2,461.68 L509.9,461.92 L510.44,462.1 L511.67,462.5 L511.98,462.6 L512.91,462.89 L513.83,463.18 L514.14,463.27 L515.37,463.64 L515.68,463.73 L516.61,463.99 L517.84,464.33 L518.77,464.58 L519.08,464.66 L520.31,464.98 L520.7,465.07 L521.54,465.28 L522.62,465.53 L522.78,465.57 L524.01,465.85 L525.25,466.11 L526.48,466.36 L527.71,466.6 L528.95,466.83 L530.18,467.05 L531.42,467.25 L532.65,467.45 L533.88,467.63 L535.12,467.81 L536.35,467.97 L537.59,468.12 L538.82,468.27 L540.05,468.41 L541.29,468.53 L542.52,468.65 L543.76,468.77 L544.99,468.87 L546.22,468.97 L547.46,469.06 L548.31,469.12" fill="none" stroke="#000000" stroke-opacity="0.62" stroke-width="3.5" stroke-linejoin="round"/>
</g>
<line x1="209.12" y1="403.3" x2="209.12" y2="485.5" stroke="#2e2828" stroke-width="2.0" stroke-dasharray="6.5,6.1" stroke-dashoffset="2.7"/>
<rect x="132" y="403.3" width="694.1" height="82.2" fill="none" stroke="#000" stroke-width="1.6"/>
<line x1="125" y1="415.8" x2="132" y2="415.8" stroke="#000" stroke-width="1.5"/>
<text x="74.14" y="423.1" font-family='"DejaVu Sans", sans-serif' font-size="19.7">0.05</text>
<line x1="125" y1="470.1" x2="132" y2="470.1" stroke="#000" stroke-width="1.5"/>
<text x="73.75" y="477.4" font-family='"DejaVu Sans", sans-serif' font-size="19.7">0.00</text>
<clipPath id="clipA4"><rect x="132" y="490" width="694.1" height="82.8"/></clipPath>
<g clip-path="url(#clipA4)">
<path d="M488.07,557.62 L488.23,553.36 L489.15,552.6 L490.23,551.7 L491.31,552.4 L492.39,551.36 L493.47,550.61 L494.55,549.47 L495.63,549.57 L496.71,550.25 L497.79,546.59 L498.87,544.57 L499.95,544.66 L501.03,542.87 L502.11,541.9 L503.19,546.25 L504.27,548.78 L505.35,544.36 L506.43,545.56 L507.51,546.69 L508.59,545.5 L509.67,543.93 L510.75,543.29 L511.83,541.83 L512.91,541.83 L513.99,544.58 L515.07,549.08 L516.15,545.61 L517.23,545.5 L517.61,547.54 L518.31,544.42 L519.38,542.11 L520.46,541.99 L521.54,541.83 L522.62,543.07 L523.7,544.7 L523.86,544.18 L524.78,544.27 L525.86,541.64 L526.94,543.41 L528.02,547.35 L529.1,542.89 L530.18,535.5 L531.26,536.75 L532.34,539.71 L533.42,540.57 L534.5,535.78 L535.58,533.58 L536.66,530.81 L537.74,529.57 L538.82,538.93 L539.9,534.51 L540.98,530.47 L542.06,530.87 L543.14,534.58 L544.22,538.2 L545.3,528.32 L546.38,528.8 L547.46,531.78 L548.46,523.24 L548.54,522.93 L549.62,516.53 L550.7,515.83 L551.78,524.2 L552.86,523.12 L553.94,535.24 L555.02,540.3 L556.1,521.73 L556.17,515.44 L557.17,509.98 L558.25,508.21 L559.33,511.81 L560.41,507.33 L561.49,505.04 L562.57,502.05 L563.65,506.49 L564.73,510.93 L565.81,501.3 L566.89,500.34 L567.97,496.02 L568.74,495.16 L569.05,497.92 L570.13,504.27 L571.06,497.87 L571.21,495.25 L571.6,495 L572.29,493.37 L573.37,494.23 L574.45,508.02 L575.53,512.97 L576.61,502.46 L577.69,501.66 L578.77,499.72 L579.85,499.52 L580.93,505.95 L582.01,511.98 L583.09,511.88 L584.17,502.72 L585.25,504.23 L586.33,512.61 L587.41,515.53 L588.49,509.31 L589.57,509.5 L590.65,521.94 L591.73,510.91 L592.81,502.72 L593.88,504.42 L594.73,507.92 L594.96,516.32 L596.04,517.02 L597.12,503.06 L598.2,515.73 L599.28,529.39 L600.36,521.4 L601.44,510.52 L602.52,504.7 L603.6,505.9 L604.68,502.42 L605.76,498.72 L606.84,511.77 L607.92,512.2 L609,509.11 L610.08,502.09 L610.16,501.22 L611.16,501.03 L612.24,498.96 L613.32,497.82 L614.4,497.82 L615.48,509.3 L616.56,506.48 L617.64,504.97 L618.72,497.82 L619.8,497.82 L620.88,516.58 L621.96,519.35 L622.34,505.48 L623.04,509.85 L624.12,505.02 L624.5,497.95 L625.2,500.64 L626.28,507.98 L626.66,514.42 L627.36,516.35 L628.44,515.18 L629.52,503.06 L630.6,497.82 L631.67,499.13 L632.75,510.11 L633.29,515.65 L633.83,516.31 L634.91,508.1 L635.99,507.58 L637.07,511.96 L638.15,510.41 L639.23,511.25 L640.31,515.93 L641.39,511.07 L642.47,517.2 L643.55,530.7 L644.63,527.35 L645.71,530.17 L646.79,528.82 L647.87,529.62 L648.72,527.91 L648.95,527.11 L650.03,521.44 L651.11,520.14 L652.19,521.26 L653.27,522.81 L654.35,524.21 L655.43,527.05 L656.51,520.46 L657.59,516.75 L658.67,515.04 L659.75,513.74 L660.83,513.34 L661.91,515.21 L662.99,517.41 L664.07,512.14 L665.15,511.74 L665.76,511.51 L666.23,515.16 L667.31,517.27 L667.92,514.84 L668.39,525.78 L669.46,532.89 L670.08,526.71 L670.54,518.62 L671.62,522.36 L671.86,525.02 L672.7,520.16 L673.78,523.52 L674.86,529.13 L675.94,531.04 L677.02,536.32 L678.1,534.54 L679.18,535.55 L679.57,539.17 L680.26,547.83 L681.34,541.05 L682.42,538.95 L683.5,539.56 L684.58,539.27 L685.66,539.45 L686.74,542.98 L687.82,544.87 L688.9,546.6 L689.98,546.06 L691.06,544.97 L692.14,546.39 L693.22,540.54 L694.3,540.7 L695.38,541.75 L696.46,542.49 L697.54,541.74 L698.62,541.33 L699.7,542.52 L700.78,544.89 L701.86,544.69 L702.7,544.73 L702.94,544.22 L704.02,549.2 L705.1,551.92 L706.17,551.28 L707.25,545.81 L708.33,542.76 L709.41,543.87 L710.49,545.92 L711.57,545.81 L712.65,545.61 L713.73,544.52 L714.81,545.16 L715.89,546.24 L716.12,549.48 L716.28,548.72 L716.97,541.34 L716.97,541.34 L716.28,557.68 L716.12,558.14 L715.89,560.73 L714.81,559.02 L713.73,556.64 L712.65,560.79 L711.57,559.83 L710.49,557.48 L709.41,553.23 L708.33,555.31 L707.25,559.62 L706.17,559.64 L705.1,560.1 L704.02,561.65 L702.94,561.96 L702.7,559.41 L701.86,560.49 L700.78,561.08 L699.7,558.68 L698.62,557.36 L697.54,549.07 L696.46,553 L695.38,561.51 L694.3,560.91 L693.22,561.16 L692.14,561.19 L691.06,563.08 L689.98,563.18 L688.9,555.85 L687.82,556.09 L686.74,559.85 L685.66,561.33 L684.58,563.1 L683.5,558.01 L682.42,558.77 L681.34,563.99 L680.26,564.09 L679.57,564.16 L679.18,559.17 L678.1,553.75 L677.02,555.69 L675.94,555.95 L674.86,554.99 L673.78,553.62 L672.7,552.25 L671.86,557.63 L671.62,562 L670.54,564.88 L670.08,563.53 L669.46,564.89 L668.39,564.89 L667.92,557.38 L667.31,553.89 L666.23,556.69 L665.76,551.53 L665.15,555.49 L664.07,558.57 L662.99,564.55 L661.91,564.89 L660.83,542.82 L659.75,543.99 L658.67,552.61 L657.59,555.2 L656.51,558.45 L655.43,554.2 L654.35,544.04 L653.27,555.87 L652.19,562.35 L651.11,550.19 L650.03,554.68 L648.95,559.76 L648.72,557.59 L647.87,561.87 L646.79,564.31 L645.71,560.2 L644.63,548 L643.55,546.2 L642.47,543.96 L641.39,546.43 L640.31,557.94 L639.23,563.55 L638.15,560.99 L637.07,559.18 L635.99,564.98 L634.91,552.59 L633.83,533.72 L633.29,564.06 L632.75,568.36 L631.67,556.84 L630.6,568.83 L629.52,565.71 L628.44,562.88 L627.36,563.64 L626.66,561.15 L626.28,552.5 L625.2,557.37 L624.5,566.29 L624.12,548.66 L623.04,546.75 L622.34,551.63 L621.96,567.91 L620.88,568.05 L619.8,550.63 L618.72,541.57 L617.64,556.57 L616.56,562.21 L615.48,559.38 L614.4,558.14 L613.32,552.92 L612.24,559.66 L611.16,566.87 L610.16,551.01 L610.08,549.27 L609,561.11 L607.92,559.81 L606.84,554.26 L605.76,548.38 L604.68,559.49 L603.6,557.12 L602.52,557.08 L601.44,558.96 L600.36,558.43 L599.28,565.44 L598.2,565.31 L597.12,557.08 L596.04,562.41 L594.96,564.92 L594.73,560.64 L593.88,555.44 L592.81,553.71 L591.73,548.57 L590.65,555.08 L589.57,565.8 L588.49,559.42 L587.41,552.91 L586.33,559.94 L585.25,537.23 L584.17,528.68 L583.09,556.06 L582.01,567.14 L580.93,559.85 L579.85,548.67 L578.77,550.51 L577.69,550.44 L576.61,560.65 L575.53,562.57 L574.45,566.41 L573.37,555.19 L572.29,568.86 L571.6,568.98 L571.21,561.26 L571.06,566.7 L570.13,568.82 L569.05,568.52 L568.74,559.82 L567.97,545.62 L566.89,562.71 L565.81,565.92 L564.73,556.9 L563.65,552.84 L562.57,556.71 L561.49,555.34 L560.41,562.93 L559.33,565.82 L558.25,559.45 L557.17,554.35 L556.17,554.09 L556.1,556.92 L555.02,560.77 L553.94,557.11 L552.86,553.98 L551.78,562.41 L550.7,560.76 L549.62,555.09 L548.54,555.55 L548.46,558.06 L547.46,562.62 L546.38,562.44 L545.3,559.38 L544.22,557.79 L543.14,560.3 L542.06,555.51 L540.98,555.49 L539.9,557.19 L538.82,557.01 L537.74,559.31 L536.66,560.78 L535.58,558.09 L534.5,558.85 L533.42,559.2 L532.34,555.22 L531.26,554.62 L530.18,553.22 L529.1,552.11 L528.02,553.44 L526.94,555.73 L525.86,557.47 L524.78,557.65 L523.86,557.22 L523.7,559.14 L522.62,560.1 L521.54,560.45 L520.46,557.21 L519.38,556.44 L518.31,557.6 L517.61,559.03 L517.23,558.59 L516.15,557.78 L515.07,558.47 L513.99,559.35 L512.91,559.92 L511.83,556.32 L510.75,557.15 L509.67,557.22 L508.59,556.83 L507.51,559.69 L506.43,559.23 L505.35,557.64 L504.27,559.33 L503.19,560.7 L502.11,559.14 L501.03,559.07 L499.95,558.76 L498.87,557.97 L497.79,558.78 L496.71,558.74 L495.63,557.52 L494.55,556.97 L493.47,557.95 L492.39,557.28 L491.31,556.83 L490.23,557.76 L489.15,557.22 L488.23,557.64 L488.07,557.62Z" fill="#00a000" fill-opacity="0.5" stroke="#00a000" stroke-opacity="0.5" stroke-width="1" stroke-linejoin="round"/>
<path d="M150.12,558.6 L151.2,558.6 L152.28,558.6 L153.36,558.6 L154.44,558.59 L155.52,558.59 L156.6,558.58 L157.68,558.58 L158.76,558.59 L159.84,558.58 L160.92,558.58 L162,558.58 L163.08,558.58 L164.16,558.59 L165.24,558.58 L166.32,558.58 L167.4,558.58 L168.48,558.57 L169.56,558.57 L170.64,558.56 L171.72,558.56 L172.8,558.55 L173.88,558.56 L174.96,558.56 L176.04,558.58 L177.12,558.56 L178.2,558.57 L179.28,558.56 L180.36,558.56 L181.44,558.55 L182.52,558.56 L183.59,558.56 L184.67,558.57 L185.75,558.57 L186.83,558.56 L187.91,558.56 L188.99,558.53 L190.07,558.52 L191.15,558.53 L192.23,558.54 L193.31,558.57 L194.39,558.53 L195.47,558.53 L196.55,558.55 L197.63,558.55 L198.71,558.56 L199.79,558.5 L200.87,558.52 L201.95,558.5 L203.03,558.53 L204.11,558.52 L205.19,558.55 L206.27,558.49 L207.35,558.47 L208.43,558.41 L209.51,558.41 L210.59,558.4 L211.67,558.43 L212.75,558.46 L213.83,558.48 L214.91,558.47 L215.99,558.46 L217.07,558.45 L218.15,558.48 L219.23,558.45 L220.3,558.47 L221.38,558.47 L222.46,558.48 L223.54,558.46 L224.62,558.48 L225.7,558.46 L226.78,558.5 L227.86,558.5 L228.94,558.57 L230.02,558.5 L231.1,558.47 L232.18,558.46 L233.26,558.52 L234.34,558.5 L235.42,558.5 L236.5,558.5 L237.58,558.5 L238.66,558.5 L239.74,558.47 L240.82,558.49 L241.9,558.46 L242.98,558.45 L244.06,558.4 L245.14,558.4 L246.22,558.44 L247.3,558.55 L248.38,558.54 L249.46,558.51 L250.54,558.43 L251.62,558.44 L252.7,558.44 L253.78,558.47 L254.86,558.48 L255.94,558.45 L257.02,558.43 L258.09,558.41 L259.17,558.34 L260.25,558.3 L261.33,558.36 L262.41,558.37 L263.49,558.37 L264.57,558.34 L265.65,558.38 L266.73,558.39 L267.81,558.37 L268.89,558.44 L269.97,558.48 L271.05,558.45 L272.13,558.37 L273.21,558.34 L274.29,558.32 L275.37,558.28 L276.45,558.32 L277.53,558.32 L278.61,558.43 L279.69,558.42 L280.77,558.48 L281.85,558.46 L282.93,558.39 L284.01,558.36 L285.09,558.36 L286.17,558.34 L287.25,558.3 L288.33,558.25 L289.41,558.26 L290.49,558.25 L291.57,558.2 L292.65,558.19 L293.73,558.2 L294.81,558.26 L295.88,558.34 L296.96,558.36 L298.04,558.36 L299.12,558.27 L300.2,558.16 L301.28,558.2 L302.36,558.32 L303.44,558.29 L304.52,558.23 L305.6,558.2 L306.68,558.23 L307.76,558.29 L308.84,558.33 L309.92,558.44 L311,558.47 L312.08,558.27 L313.16,558.29 L314.24,558.27 L315.32,558.38 L316.4,558.35 L317.48,558.39 L318.56,558.36 L319.64,558.27 L320.72,558.17 L321.8,558.24 L322.88,558.38 L323.96,558.41 L325.04,558.39 L326.12,558.36 L327.2,558.47 L328.28,558.3 L329.36,558.19 L330.44,558.15 L331.52,558.21 L332.59,558.18 L333.67,558.27 L334.75,558.37 L335.83,558.49 L336.91,558.28 L337.99,558.25 L339.07,558.23 L340.15,558.28 L341.23,558.14 L342.31,557.98 L343.39,558 L344.47,558.19 L345.55,558.15 L346.63,558.18 L347.71,558.16 L348.79,558.35 L349.87,558.24 L350.95,558.12 L352.03,558.09 L353.11,558.19 L354.19,558.23 L355.27,558.23 L356.35,558.02 L357.43,558.06 L358.51,558.18 L359.59,558.4 L360.67,558.29 L361.75,558.22 L362.83,558.31 L363.91,558.46 L364.99,558.42 L366.07,558.16 L367.15,558.19 L368.23,558.13 L369.31,558.16 L370.38,558.14 L371.46,558.2 L372.54,558.12 L373.62,557.92 L374.7,557.87 L375.78,557.95 L376.86,557.99 L377.94,558.07 L379.02,558.11 L380.1,558.27 L381.18,558.26 L382.26,558.26 L383.34,557.94 L384.42,557.96 L385.5,557.84 L386.58,557.96 L387.66,557.96 L388.74,557.96 L389.82,558.27 L390.9,558.24 L391.98,558.27 L393.06,558.29 L394.14,558.4 L395.22,558.38 L396.3,558.18 L397.38,558.18 L398.46,558.31 L399.54,558.33 L400.62,558.16 L401.7,558.08 L402.78,558.06 L403.86,558.18 L404.94,558.23 L406.02,558.08 L407.09,557.98 L408.17,557.91 L409.25,558.05 L410.33,558.2 L411.41,558.33 L412.49,558.25 L413.57,558.12 L414.65,558.13 L415.73,558.35 L416.81,558.35 L417.89,558.29 L418.97,558.17 L420.05,558.21 L421.13,558.15 L422.21,558.08 L423.29,557.95 L424.37,557.88 L425.45,557.77 L426.53,557.78 L427.61,557.91 L428.69,558.05 L429.77,558.08 L430.85,558.07 L431.93,558.01 L433.01,557.94 L434.09,557.99 L435.17,558.23 L436.25,558.22 L437.33,558.14 L437.4,557.87 L438.41,558.13 L439.49,557.92 L440.57,557.9 L441.65,557.74 L442.73,557.97 L443.81,558.03 L444.88,558.02 L445.96,557.99 L447.04,558.15 L448.12,557.94 L449.2,557.89 L450.28,557.7 L451.36,557.85 L452.44,558.19 L453.52,558.11 L454.6,558.16 L455.68,557.82 L456.76,557.88 L457.84,557.98 L458.92,557.77 L459,557.9 L460,557.82 L461.08,558.1 L462.16,557.87 L463.24,557.42 L464.32,557.26 L465.4,557.63 L466.48,557.47 L467.56,557.55 L468.64,556.62 L469.72,556.89 L470.8,556.67 L471.88,557.27 L472.96,557 L474.04,556.28 L475.12,556 L476.2,555.68 L477.28,555.01 L478.36,554.88 L479.44,555.79 L480.52,557.3 L481.6,557.88 L482.67,557.58 L483.75,557.36 L484.83,557.29 L485.91,556.55 L486.99,557.65 L488.07,557.62 L488.23,556.67 L489.15,554.27 L490.23,552.94 L491.31,553.86 L492.39,553.25 L493.47,553.12 L494.55,553.27 L495.63,555.39 L496.71,555.78 L497.79,556.35 L498.87,555.89 L499.95,556.35 L501.03,555.74 L502.11,555.38 L503.19,553.97 L504.27,554.99 L505.35,554.79 L506.43,553.83 L507.51,552.5 L508.59,551.13 L509.67,551.68 L510.75,550.34 L511.83,550.66 L512.91,553.03 L513.99,554.53 L515.07,555.61 L516.15,555.74 L517.23,555.91 L517.61,556.81 L518.31,556.79 L519.38,555.68 L520.46,553.61 L521.54,551.55 L522.62,552.92 L523.7,553.38 L523.86,552.76 L524.78,551.7 L525.86,550.73 L526.94,550.77 L528.02,549.19 L529.1,548.02 L530.18,546.41 L531.26,548.42 L532.34,550.63 L533.42,550.44 L534.5,549.47 L535.58,548.28 L536.66,554.13 L537.74,556.29 L538.82,556.28 L539.9,552.64 L540.98,544.21 L542.06,543.35 L543.14,543.51 L544.22,546.3 L545.3,550.74 L546.38,549.32 L547.46,550.58 L548.46,546.46 L548.54,547.8 L549.62,544.17 L550.7,541.35 L551.78,541.57 L552.86,542.09 L553.94,546.95 L555.02,545.56 L556.1,535.92 L556.17,533.72 L557.17,526.49 L558.25,529.53 L559.33,524.03 L560.41,525.1 L561.49,533.05 L562.57,534.26 L563.65,529.99 L564.73,527.89 L565.81,529.46 L566.89,540.6 L567.97,535.01 L568.74,540.16 L569.05,525.8 L570.13,521.69 L571.06,517.54 L571.21,517.54 L571.6,512.59 L572.29,506.01 L573.37,520.33 L574.45,527.68 L575.53,531.8 L576.61,530.8 L577.69,523.9 L578.77,517.67 L579.85,520.52 L580.93,528.1 L582.01,534.24 L583.09,529.44 L584.17,519.21 L585.25,520.09 L586.33,528.68 L587.41,529.77 L588.49,524.12 L589.57,517.91 L590.65,531.64 L591.73,537.53 L592.81,544 L593.88,535.97 L594.73,542.95 L594.96,533.47 L596.04,532.91 L597.12,521.55 L598.2,534.56 L599.28,536.25 L600.36,531.35 L601.44,533.35 L602.52,531.49 L603.6,534.86 L604.68,530.03 L605.76,527.18 L606.84,532.71 L607.92,522.12 L609,523.59 L610.08,520.45 L610.16,516.15 L611.16,514.77 L612.24,511.04 L613.32,526.8 L614.4,534.94 L615.48,537.63 L616.56,526.74 L617.64,523.88 L618.72,524.44 L619.8,534.82 L620.88,533.63 L621.96,543.6 L622.34,536.56 L623.04,533.46 L624.12,520.59 L624.5,518.32 L625.2,513.75 L626.28,526.29 L626.66,533.34 L627.36,537.13 L628.44,534.46 L629.52,523.28 L630.6,527.59 L631.67,525.43 L632.75,532.31 L633.29,525.35 L633.83,522.83 L634.91,522.32 L635.99,529.38 L637.07,539.67 L638.15,546.14 L639.23,540.69 L640.31,530.16 L641.39,524.17 L642.47,528.13 L643.55,534.31 L644.63,535.21 L645.71,542.01 L646.79,538.11 L647.87,542.74 L648.72,539.91 L648.95,539.65 L650.03,538.01 L651.11,534.36 L652.19,534.35 L653.27,531.44 L654.35,528.58 L655.43,536.75 L656.51,545.03 L657.59,548.03 L658.67,537.81 L659.75,522.53 L660.83,521.93 L661.91,522.4 L662.99,534.66 L664.07,534.68 L665.15,535.34 L665.76,536.07 L666.23,539.69 L667.31,535.15 L667.92,524.97 L668.39,537.01 L669.46,544.1 L670.08,548.84 L670.54,537.11 L671.62,536.28 L671.86,535.33 L672.7,539.73 L673.78,540.27 L674.86,543.94 L675.94,544.69 L677.02,546.32 L678.1,542.28 L679.18,544.98 L679.57,550.16 L680.26,555.74 L681.34,549.64 L682.42,546.36 L683.5,542.74 L684.58,549.52 L685.66,551.27 L686.74,555.88 L687.82,553.78 L688.9,551.23 L689.98,551.25 L691.06,553.96 L692.14,556.13 L693.22,552.2 L694.3,549.75 L695.38,546.25 L696.46,543.83 L697.54,542.58 L698.62,542.52 L699.7,547.43 L700.78,550.54 L701.86,551.06 L702.7,548.73 L702.94,547.8 L704.02,553.18 L705.1,556.76 L706.17,555.68 L707.25,552.14 L708.33,549.91 L709.41,551.8 L710.49,554.95 L711.57,554.09 L712.65,552.2 L713.73,547.8 L714.81,548.5 L715.89,550.34 L716.12,553.88 L716.28,550.73 L716.97,541.34 L718.05,530 L718.82,523.21 L719.13,528.28 L720.21,540.62 L721.29,554.81 L721.52,557.66 L722.37,557.21 L723.45,557.17 L724.53,557.79 L725.61,558.47 L726.54,558.6 L726.69,558.6 L727.77,558.6 L728.85,558.6 L729.93,558.6 L731.01,558.6 L731.63,558.6 L732.09,557.91 L733.17,556.27 L734.25,554.24 L735.33,550.14 L736.41,550.02 L737.49,547.8 L738.57,551.05 L738.95,549.84 L739.65,555.99 L740.73,554.68 L741.81,555.23 L742.89,554.21 L743.96,555.78 L744.35,556.34 L745.04,555.35 L745.12,555.71 L746.12,544.47 L747.2,532.83 L748.21,523.88 L748.28,524.33 L749.36,534.42 L750.13,539.03 L750.44,539.96 L751.29,536.01 L751.52,535.72 L752.06,528.56 L752.6,533.2 L753.68,541.99 L753.99,541.09 L754.76,544.6 L755.84,542.27 L756.92,549.52 L758,550.14 L758.62,553.27 L759.08,548.39 L760.16,535.81 L760.93,527.12 L761.24,528.79 L762.32,540.2 L763.25,552.66 L763.4,552.89 L764.48,555.19 L765.56,555.18 L766.64,556.01 L767.72,557.63 L768.26,558.6 L768.8,558.6 L769.88,558.6 L770.96,558.6 L772.04,558.6 L772.58,558.6" fill="none" stroke="#00a000" stroke-width="3" stroke-linejoin="round"/>
<path d="M150.12,558.6 L151.2,558.6 L152.28,558.6 L153.36,558.6 L154.44,558.6 L155.52,558.6 L156.6,558.6 L157.68,558.6 L158.76,558.6 L159.84,558.6 L160.92,558.6 L162,558.6 L163.08,558.6 L164.16,558.6 L165.24,558.6 L166.32,558.6 L167.4,558.6 L168.48,558.6 L169.56,558.6 L170.64,558.6 L171.72,558.6 L172.8,558.6 L173.88,558.6 L174.96,558.6 L176.04,558.6 L177.12,558.6 L178.2,558.6 L179.28,558.6 L180.36,558.6 L181.44,558.6 L182.52,558.6 L183.59,558.6 L184.67,558.6 L185.75,558.6 L186.83,558.6 L187.91,558.6 L188.99,558.6 L190.07,558.6 L191.15,558.6 L192.23,558.6 L193.31,558.6 L194.39,558.6 L195.47,558.6 L196.55,558.6 L197.63,558.6 L198.71,558.6 L199.79,558.6 L200.87,558.6 L201.95,558.6 L203.03,558.6 L204.11,558.6 L205.19,558.6 L206.27,558.6 L207.35,558.6 L208.43,558.6 L209.51,558.6 L210.59,558.6 L211.67,558.6 L212.75,558.6 L213.83,558.6 L214.91,558.6 L215.99,558.6 L217.07,558.6 L218.15,558.6 L219.23,558.6 L220.3,558.6 L221.38,558.6 L222.46,558.6 L223.54,558.6 L224.62,558.6 L225.7,558.6 L226.78,558.6 L227.86,558.6 L228.94,558.6 L230.02,558.6 L231.1,558.6 L232.18,558.6 L233.26,558.6 L234.34,558.6 L235.42,558.6 L236.5,558.6 L237.58,558.6 L238.66,558.6 L239.74,558.6 L240.82,558.6 L241.9,558.6 L242.98,558.6 L244.06,558.6 L245.14,558.6 L246.22,558.6 L247.3,558.6 L248.38,558.6 L249.46,558.6 L250.54,558.6 L251.62,558.6 L252.7,558.6 L253.78,558.6 L254.86,558.6 L255.94,558.6 L257.02,558.6 L258.09,558.6 L259.17,558.6 L260.25,558.6 L261.33,558.6 L262.41,558.6 L263.49,558.6 L264.57,558.6 L265.65,558.6 L266.73,558.6 L267.81,558.6 L268.89,558.6 L269.97,558.6 L271.05,558.6 L272.13,558.6 L273.21,558.6 L274.29,558.6 L275.37,558.6 L276.45,558.6 L277.53,558.6 L278.61,558.6 L279.69,558.6 L280.77,558.6 L281.85,558.6 L282.93,558.6 L284.01,558.6 L285.09,558.6 L286.17,558.6 L287.25,558.6 L288.33,558.6 L289.41,558.6 L290.49,558.6 L291.57,558.6 L292.65,558.6 L293.73,558.6 L294.81,558.6 L295.88,558.6 L296.96,558.6 L298.04,558.6 L299.12,558.6 L300.2,558.6 L301.28,558.6 L302.36,558.6 L303.44,558.6 L304.52,558.6 L305.6,558.6 L306.68,558.6 L307.76,558.6 L308.84,558.6 L309.92,558.6 L311,558.6 L312.08,558.6 L313.16,558.6 L314.24,558.6 L315.32,558.6 L316.4,558.6 L317.48,558.6 L318.56,558.6 L319.64,558.6 L320.72,558.6 L321.8,558.6 L322.88,558.6 L323.96,558.6 L325.04,558.6 L326.12,558.6 L327.2,558.6 L328.28,558.6 L329.36,558.6 L330.44,558.6 L331.52,558.6 L332.59,558.6 L333.67,558.6 L334.75,558.6 L335.83,558.6 L336.91,558.6 L337.99,558.6 L339.07,558.6 L340.15,558.6 L341.23,558.6 L342.31,558.6 L343.39,558.6 L344.47,558.6 L345.55,558.6 L346.63,558.6 L347.71,558.6 L348.79,558.6 L349.87,558.6 L350.95,558.6 L352.03,558.6 L353.11,558.6 L354.19,558.6 L355.27,558.6 L356.35,558.6 L357.43,558.6 L358.51,558.6 L359.59,558.6 L360.67,558.6 L361.75,558.6 L362.83,558.59 L363.91,558.59 L364.99,558.59 L366.07,558.59 L367.15,558.59 L368.23,558.59 L369.31,558.59 L370.38,558.59 L371.46,558.59 L372.54,558.59 L373.62,558.59 L374.7,558.59 L375.78,558.59 L376.86,558.59 L377.94,558.59 L379.02,558.59 L380.1,558.58 L381.18,558.58 L382.26,558.58 L383.34,558.58 L384.42,558.58 L385.5,558.58 L386.58,558.58 L387.66,558.58 L388.74,558.57 L389.82,558.57 L390.9,558.57 L391.98,558.57 L393.06,558.57 L394.14,558.57 L395.22,558.56 L396.3,558.56 L397.38,558.56 L398.46,558.56 L399.54,558.55 L400.62,558.55 L401.7,558.55 L402.78,558.54 L403.86,558.54 L404.94,558.54 L406.02,558.53 L407.09,558.53 L408.17,558.52 L409.25,558.52 L410.33,558.52 L411.41,558.51 L412.49,558.51 L413.57,558.5 L414.65,558.49 L415.73,558.49 L416.81,558.48 L417.89,558.48 L418.97,558.47 L420.05,558.46 L421.13,558.45 L422.21,558.45 L423.29,558.44 L424.37,558.43 L425.45,558.42 L426.53,558.41 L427.61,558.4 L428.69,558.39 L429.77,558.38 L430.85,558.36 L431.93,558.35 L433.01,558.34 L434.09,558.33 L435.17,558.31 L436.25,558.3 L437.33,558.28 L437.4,558.28 L438.41,558.26 L439.49,558.25 L440.57,558.23 L441.65,558.21 L442.73,558.19 L443.81,558.17 L444.88,558.15 L445.96,558.13 L447.04,558.11 L448.12,558.08 L449.2,558.06 L450.28,558.03 L451.36,558 L452.44,557.98 L453.52,557.95 L454.6,557.92 L455.68,557.88 L456.76,557.85 L457.84,557.82 L458.92,557.78 L459,557.78 L460,557.75 L461.08,557.71 L462.16,557.67 L463.24,557.63 L464.32,557.58 L465.4,557.54 L466.48,557.49 L467.56,557.45 L468.64,557.4 L469.72,557.35 L470.8,557.29 L471.88,557.24 L472.96,557.18 L474.04,557.13 L475.12,557.07 L476.2,557 L477.28,556.94 L478.36,556.87 L479.44,556.8 L480.52,556.73 L481.6,556.66 L482.67,556.58 L483.75,556.51 L484.83,556.43 L485.91,556.35 L486.99,556.26 L488.07,556.17 L488.23,556.16 L489.15,556.08 L490.23,555.99 L491.31,555.9 L492.39,555.8 L493.47,555.7 L494.55,555.59 L495.63,555.49 L496.71,555.38 L497.79,555.27 L498.87,555.15 L499.95,555.04 L501.03,554.92 L502.11,554.79 L503.19,554.67 L504.27,554.54 L505.35,554.4 L506.43,554.27 L507.51,554.13 L508.59,553.99 L509.67,553.84 L510.75,553.69 L511.83,553.54 L512.91,553.39 L513.99,553.23 L515.07,553.07 L516.15,552.91 L517.23,552.74 L517.61,552.68 L518.31,552.57 L519.38,552.39 L520.46,552.22 L521.54,552.04 L522.62,551.85 L523.7,551.67 L523.86,551.64 L524.78,551.48 L525.86,551.28 L526.94,551.09 L528.02,550.89 L529.1,550.69 L530.18,550.48 L531.26,550.27 L532.34,550.06 L533.42,549.85 L534.5,549.63 L535.58,549.41 L536.66,549.19 L537.74,548.96 L538.82,548.74 L539.9,548.51 L540.98,548.28 L542.06,548.04 L543.14,547.8 L544.22,547.56 L545.3,547.32 L546.38,547.08 L547.46,546.84 L548.46,546.61 L548.54,546.59 L549.62,546.34 L550.7,546.09 L551.78,545.84 L552.86,545.58 L553.94,545.33 L555.02,545.07 L556.1,544.82 L556.17,544.8 L557.17,544.56 L558.25,544.3 L559.33,544.04 L560.41,543.78 L561.49,543.53 L562.57,543.27 L563.65,543.01 L564.73,542.75 L565.81,542.49 L566.89,542.23 L567.97,541.97 L568.74,541.78 L569.05,541.71 L570.13,541.45 L571.06,541.23 L571.21,541.2 L571.6,541.11 L572.29,540.94 L573.37,540.69 L574.45,540.44 L575.53,540.19 L576.61,539.94 L577.69,539.69 L578.77,539.45 L579.85,539.2 L580.93,538.96 L582.01,538.73 L583.09,538.49 L584.17,538.26 L585.25,538.03 L586.33,537.81 L587.41,537.59 L588.49,537.37 L589.57,537.16 L590.65,536.95 L591.73,536.74 L592.81,536.54 L593.88,536.35 L594.73,536.19 L594.96,536.15 L596.04,535.97 L597.12,535.78 L598.2,535.61 L599.28,535.43 L600.36,535.27 L601.44,535.11 L602.52,534.95 L603.6,534.8 L604.68,534.65 L605.76,534.52 L606.84,534.38 L607.92,534.26 L609,534.14 L610.08,534.02 L610.16,534.02 L611.16,533.92 L612.24,533.82 L613.32,533.72 L614.4,533.64 L615.48,533.56 L616.56,533.48 L617.64,533.41 L618.72,533.36 L619.8,533.3 L620.88,533.26 L621.96,533.22 L622.34,533.21 L623.04,533.19 L624.12,533.16 L624.5,533.16 L625.2,533.15 L626.28,533.14 L626.66,533.13 L627.36,533.13 L628.44,533.14 L629.52,533.15 L630.6,533.17 L631.67,533.2 L632.75,533.23 L633.29,533.25 L633.83,533.27 L634.91,533.32 L635.99,533.37 L637.07,533.43 L638.15,533.5 L639.23,533.58 L640.31,533.66 L641.39,533.75 L642.47,533.84 L643.55,533.95 L644.63,534.06 L645.71,534.17 L646.79,534.29 L647.87,534.42 L648.72,534.53 L648.95,534.56 L650.03,534.7 L651.11,534.84 L652.19,534.99 L653.27,535.15 L654.35,535.31 L655.43,535.48 L656.51,535.66 L657.59,535.83 L658.67,536.02 L659.75,536.21 L660.83,536.4 L661.91,536.6 L662.99,536.8 L664.07,537.01 L665.15,537.22 L665.76,537.34 L666.23,537.43 L667.31,537.65 L667.92,537.78 L668.39,537.87 L669.46,538.1 L670.08,538.23 L670.54,538.33 L671.62,538.56 L671.86,538.61 L672.7,538.8 L673.78,539.03 L674.86,539.27 L675.94,539.52 L677.02,539.76 L678.1,540.01 L679.18,540.26 L679.57,540.35 L680.26,540.51 L681.34,540.76 L682.42,541.01 L683.5,541.27 L684.58,541.53 L685.66,541.78 L686.74,542.04 L687.82,542.3 L688.9,542.56 L689.98,542.82 L691.06,543.08 L692.14,543.34 L693.22,543.6 L694.3,543.86 L695.38,544.12 L696.46,544.38 L697.54,544.63 L698.62,544.89 L699.7,545.15 L700.78,545.4 L701.86,545.66 L702.7,545.86 L702.94,545.91 L704.02,546.16 L705.1,546.41 L706.17,546.66 L707.25,546.91 L708.33,547.15 L709.41,547.39 L710.49,547.63 L711.57,547.87 L712.65,548.11 L713.73,548.34 L714.81,548.57 L715.89,548.8 L716.12,548.85 L716.28,548.88 L716.97,549.03 L718.05,549.25 L718.82,549.41 L719.13,549.47 L720.21,549.69 L721.29,549.91 L721.52,549.96 L722.37,550.12 L723.45,550.33 L724.53,550.54 L725.61,550.74 L726.54,550.92 L726.69,550.94 L727.77,551.14 L728.85,551.34 L729.93,551.53 L731.01,551.72 L731.63,551.83 L732.09,551.9 L733.17,552.09 L734.25,552.27 L735.33,552.44 L736.41,552.62 L737.49,552.79 L738.57,552.95 L738.95,553.01 L739.65,553.12 L740.73,553.28 L741.81,553.43 L742.89,553.59 L743.96,553.74 L744.35,553.79 L745.04,553.88 L745.12,553.89 L746.12,554.03 L747.2,554.17 L748.21,554.3 L748.28,554.31 L749.36,554.44 L750.13,554.54 L750.44,554.57 L751.29,554.67 L751.52,554.7 L752.06,554.77 L752.6,554.83 L753.68,554.95 L753.99,554.98 L754.76,555.07 L755.84,555.19 L756.92,555.3 L758,555.41 L758.62,555.47 L759.08,555.52 L760.16,555.62 L760.93,555.7 L761.24,555.73 L762.32,555.83 L763.25,555.91 L763.4,555.92 L764.48,556.02 L765.56,556.11 L766.64,556.2 L767.72,556.28 L768.26,556.33 L768.8,556.37 L769.88,556.45 L770.96,556.53 L772.04,556.61 L772.58,556.64" fill="none" stroke="#000000" stroke-opacity="0.62" stroke-width="3.5" stroke-linejoin="round"/>
</g>
<line x1="209.12" y1="490" x2="209.12" y2="572.8" stroke="#2e2828" stroke-width="2.0" stroke-dasharray="6.5,6.1" stroke-dashoffset="2.7"/>
<rect x="132" y="490" width="694.1" height="82.8" fill="none" stroke="#000" stroke-width="1.6"/>
<line x1="125" y1="506.2" x2="132" y2="506.2" stroke="#000" stroke-width="1.5"/>
<text x="74.14" y="513.5" font-family='"DejaVu Sans", sans-serif' font-size="19.7">0.05</text>
<line x1="125" y1="558.6" x2="132" y2="558.6" stroke="#000" stroke-width="1.5"/>
<text x="73.75" y="565.9" font-family='"DejaVu Sans", sans-serif' font-size="19.7">0.00</text>
<line x1="132" y1="572.8" x2="132" y2="579.8" stroke="#000" stroke-width="1.5"/>
<text x="103.77" y="602" font-family='"Liberation Sans", Arial, sans-serif' font-size="20.3">-1000</text>
<line x1="209.12" y1="572.8" x2="209.12" y2="579.8" stroke="#000" stroke-width="1.5"/>
<text x="203.49" y="602" font-family='"Liberation Sans", Arial, sans-serif' font-size="20.3">0</text>
<line x1="286.24" y1="572.8" x2="286.24" y2="579.8" stroke="#000" stroke-width="1.5"/>
<text x="263.31" y="602" font-family='"Liberation Sans", Arial, sans-serif' font-size="20.3">1000</text>
<line x1="363.37" y1="572.8" x2="363.37" y2="579.8" stroke="#000" stroke-width="1.5"/>
<text x="340.68" y="602" font-family='"Liberation Sans", Arial, sans-serif' font-size="20.3">2000</text>
<line x1="440.49" y1="572.8" x2="440.49" y2="579.8" stroke="#000" stroke-width="1.5"/>
<text x="417.91" y="602" font-family='"Liberation Sans", Arial, sans-serif' font-size="20.3">3000</text>
<line x1="517.61" y1="572.8" x2="517.61" y2="579.8" stroke="#000" stroke-width="1.5"/>
<text x="495.18" y="602" font-family='"Liberation Sans", Arial, sans-serif' font-size="20.3">4000</text>
<line x1="594.73" y1="572.8" x2="594.73" y2="579.8" stroke="#000" stroke-width="1.5"/>
<text x="572.15" y="602" font-family='"Liberation Sans", Arial, sans-serif' font-size="20.3">5000</text>
<line x1="671.86" y1="572.8" x2="671.86" y2="579.8" stroke="#000" stroke-width="1.5"/>
<text x="649.17" y="602" font-family='"Liberation Sans", Arial, sans-serif' font-size="20.3">6000</text>
<line x1="748.98" y1="572.8" x2="748.98" y2="579.8" stroke="#000" stroke-width="1.5"/>
<text x="726.29" y="602" font-family='"Liberation Sans", Arial, sans-serif' font-size="20.3">7000</text>
<line x1="826.1" y1="572.8" x2="826.1" y2="579.8" stroke="#000" stroke-width="1.5"/>
<text x="803.47" y="602" font-family='"Liberation Sans", Arial, sans-serif' font-size="20.3">8000</text>
<clipPath id="clipB0"><rect x="131.5" y="901.1" width="693.9" height="82.2"/></clipPath>
<g clip-path="url(#clipB0)">
<path d="M207.91,968.4 L208.83,954.22 L208.99,952.58 L209.76,948.36 L211.76,938.29 L212.22,941.74 L213.77,935.89 L215.77,927.19 L217.39,937.72 L217.77,943.62 L219.78,933.49 L221.78,940.05 L223.79,935.84 L224.02,941.59 L225.79,942.15 L227.8,949.61 L229.8,935 L231.73,944.28 L231.81,952.54 L233.81,950.77 L235.82,951.47 L236.36,953.57 L236.74,952.55 L237.13,948.48 L237.13,948.48 L236.74,959.14 L236.36,959.94 L235.82,961.68 L233.81,967.1 L231.81,968.44 L231.73,968.77 L229.8,967.07 L227.8,969.67 L225.79,976.66 L224.02,965.58 L223.79,976.13 L221.78,970.56 L219.78,973.44 L217.77,966.93 L217.39,970.7 L215.77,968.18 L213.77,970.25 L212.22,971.8 L211.76,971.62 L209.76,969.42 L208.99,967.21 L208.83,965.59 L207.91,968.4Z" fill="#00a000" fill-opacity="0.5" stroke="#00a000" stroke-opacity="0.5" stroke-width="1" stroke-linejoin="round"/>
<path d="M149.62,968.4 L151.62,968.4 L153.63,968.4 L155.63,968.4 L157.64,968.4 L159.64,968.4 L161.65,968.4 L163.65,968.4 L165.66,968.4 L167.66,968.4 L169.66,968.4 L171.67,968.4 L173.67,968.4 L175.68,968.4 L177.68,968.4 L179.69,968.4 L181.69,968.4 L183.7,968.4 L185.7,968.4 L187.71,968.4 L189.71,968.4 L191.72,968.4 L193.72,968.4 L195.72,968.4 L197.73,968.4 L199.73,968.4 L201.74,968.4 L203.74,968.4 L205.75,968.4 L207.75,968.4 L207.91,968.4 L208.83,961.67 L208.99,957.82 L209.76,955.67 L211.76,955.65 L212.22,951.96 L213.77,949.55 L215.77,953.63 L217.39,955.59 L217.77,951.13 L219.78,952.56 L221.78,950.62 L223.79,959.59 L224.02,957.66 L225.79,958.82 L227.8,962.01 L229.8,957.62 L231.73,957.48 L231.81,960.51 L233.81,954.44 L235.82,955.06 L236.36,955.38 L236.74,953.36 L237.13,948.48 L237.82,953.81 L239.44,927.59 L239.83,923.44 L241.83,935.88 L242.29,904.88 L243.83,909.61 L243.99,904.88 L245.84,933.63 L246.38,936.39 L247.84,957.37 L248.31,965.89 L249.85,965.82 L250.85,966.83" fill="none" stroke="#00a000" stroke-width="3" stroke-linejoin="round"/>
<path d="M149.62,968.4 L151.62,968.4 L153.63,968.4 L155.63,968.4 L157.64,968.4 L159.64,968.4 L161.65,968.4 L163.65,968.4 L165.66,968.4 L167.66,968.4 L169.66,968.4 L171.67,968.4 L173.67,968.4 L175.68,968.4 L177.68,968.4 L179.69,968.4 L181.69,968.4 L183.7,968.4 L185.7,968.4 L187.71,968.4 L189.71,968.39 L191.72,968.39 L193.72,968.37 L195.72,968.35 L197.73,968.3 L199.73,968.22 L201.74,968.08 L203.74,967.86 L205.75,967.52 L207.75,967.02 L207.91,966.97 L208.83,966.66 L208.99,966.6 L209.76,966.29 L211.76,965.29 L212.22,965.02 L213.77,963.97 L215.77,962.29 L217.39,960.69 L217.77,960.27 L219.78,957.94 L221.78,955.38 L223.79,952.75 L224.02,952.44 L225.79,950.2 L227.8,947.96 L229.8,946.2 L231.73,945.13 L231.81,945.1 L233.81,944.76 L235.82,945.22 L236.36,945.48 L236.74,945.69 L237.13,945.94 L237.82,946.43 L239.44,947.88 L239.83,948.28 L241.83,950.58 L242.29,951.16 L243.83,953.15 L243.99,953.35 L245.84,955.78 L246.38,956.48 L247.84,958.31 L248.31,958.87 L249.85,960.6 L250.85,961.63" fill="none" stroke="#ff5733" stroke-opacity="0.6" stroke-width="3.5" stroke-linejoin="round"/>
</g>
<line x1="208.6" y1="901.1" x2="208.6" y2="983.3" stroke="#2e2828" stroke-width="2.0" stroke-dasharray="6.5,6.1" stroke-dashoffset="2.7"/>
<rect x="131.5" y="901.1" width="693.9" height="82.2" fill="none" stroke="#000" stroke-width="1.6"/>
<line x1="130.7" y1="901.1" x2="826.2" y2="901.1" stroke="#b0b0b0" stroke-width="1.6"/>
<line x1="124.5" y1="928.2" x2="131.5" y2="928.2" stroke="#000" stroke-width="1.5"/>
<text x="61.63" y="935.5" font-family='"DejaVu Sans", sans-serif' font-size="19.7">0.025</text>
<line x1="124.5" y1="968.4" x2="131.5" y2="968.4" stroke="#000" stroke-width="1.5"/>
<text x="61.24" y="975.7" font-family='"DejaVu Sans", sans-serif' font-size="19.7">0.000</text>
<clipPath id="clipB1"><rect x="131.5" y="988.3" width="693.9" height="81.6"/></clipPath>
<g clip-path="url(#clipB1)">
<path d="M203.74,1058.2 L205.52,1057.71 L205.75,1057.05 L207.75,1051.65 L208.37,1052.03 L209.76,1052.89 L211.68,1056.94 L211.76,1058.2 L211.76,1058.2 L211.68,1059.37 L209.76,1057.82 L208.37,1060.3 L207.75,1060.76 L205.75,1058.86 L205.52,1059.49 L203.74,1058.2Z" fill="#00a000" fill-opacity="0.5" stroke="#00a000" stroke-opacity="0.5" stroke-width="1" stroke-linejoin="round"/>
<path d="M235.82,1057.86 L236.28,1055.49 L237.82,1049.55 L239.83,1046.5 L241.37,1037.38 L241.83,1035.02 L243.83,1031.99 L245.84,1029.63 L247.84,1026.72 L249.85,1023.78 L250.85,1023.35 L251.85,1025.13 L253.86,1013.18 L255.86,1015.21 L256.86,1021.88 L257.87,1011.85 L259.87,995.59 L261.88,1016.18 L262.11,1019.5 L263.88,1003.28 L265.89,1001.45 L267.2,1016.09 L267.89,1014.87 L269.89,1023.57 L271.9,1029.48 L272.36,1022.21 L273.9,1048.3 L274.06,1051.93 L275.91,1056.45 L275.91,1056.45 L274.06,1057.46 L273.9,1058.72 L272.36,1062.76 L271.9,1066.23 L269.89,1053.38 L267.89,1048.58 L267.2,1053.18 L265.89,1047.88 L263.88,1051.42 L262.11,1046.36 L261.88,1049.32 L259.87,1047.61 L257.87,1042.25 L256.86,1036.16 L255.86,1045.5 L253.86,1043.86 L251.85,1047.76 L250.85,1056.86 L249.85,1049.18 L247.84,1059.18 L245.84,1045.14 L243.83,1054.81 L241.83,1057.55 L241.37,1057.77 L239.83,1060.7 L237.82,1059.43 L236.28,1058.78 L235.82,1057.86Z" fill="#00a000" fill-opacity="0.5" stroke="#00a000" stroke-opacity="0.5" stroke-width="1" stroke-linejoin="round"/>
<path d="M149.62,1058.2 L151.62,1058.2 L153.63,1058.2 L155.63,1058.2 L157.64,1058.2 L159.64,1058.2 L161.65,1058.2 L163.65,1058.2 L165.66,1058.2 L167.66,1058.2 L169.66,1058.2 L171.67,1058.2 L173.67,1058.2 L175.68,1058.2 L177.68,1058.2 L179.69,1058.2 L181.69,1058.2 L183.7,1058.2 L185.7,1058.2 L187.71,1058.2 L189.71,1058.2 L191.72,1058.2 L193.72,1058.2 L195.72,1058.2 L197.73,1058.2 L199.73,1058.2 L201.74,1058.2 L203.74,1058.2 L205.52,1058.2 L205.75,1057.87 L207.75,1056.12 L208.37,1055.46 L209.76,1057.07 L211.68,1058.2 L211.76,1058.2 L213.77,1058.13 L215.77,1058.09 L217.77,1057.99 L219.78,1057.78 L221.78,1057.82 L223.79,1057.87 L225.79,1057.6 L227.8,1057.68 L229.8,1057.49 L231.81,1057.41 L233.81,1057.55 L235.82,1057.86 L236.28,1057.47 L237.82,1052.74 L239.83,1049.6 L241.37,1042.83 L241.83,1040.37 L243.83,1045.95 L245.84,1036.96 L247.84,1033.86 L249.85,1035.38 L250.85,1034.35 L251.85,1031.38 L253.86,1016.38 L255.86,1026.3 L256.86,1025.46 L257.87,1016.61 L259.87,1028.93 L261.88,1034.04 L262.11,1024.51 L263.88,1012.34 L265.89,1016.99 L267.2,1040.56 L267.89,1045.38 L269.89,1040.03 L271.9,1048.13 L272.36,1049.82 L273.9,1055.48 L274.06,1055.96 L275.91,1056.45 L277.91,1056.26 L279.84,1057.1 L279.92,1056.59 L281.77,1042.54 L281.92,1043.44 L283.7,1056.21 L283.93,1056.27 L285.93,1056.18 L287.94,1056.17 L288.86,1057.42 L289.94,1052.34 L290.4,1049.8 L291.95,1056.27 L293.95,1057.31 L294.72,1055.99 L295.72,1054.85 L295.95,1052.96 L297.65,1039.58 L297.96,1039.16 L299.58,1051.13 L299.89,1041.23 L299.96,1044.75 L300.19,1047.97 L301.97,1016.64 L303.28,1003.8 L303.97,1007.33 L304.44,1010.39 L305.98,1011.16 L306.36,1008.25 L306.75,1000.22 L307.98,1020.12 L309.06,1032.77 L309.29,1038.71 L309.99,1042.77 L311.99,1048.46 L313.69,1056.08 L314,1057.06 L316,1057 L317.93,1057.77" fill="none" stroke="#00a000" stroke-width="3" stroke-linejoin="round"/>
<path d="M149.62,1058.2 L151.62,1058.2 L153.63,1058.2 L155.63,1058.2 L157.64,1058.2 L159.64,1058.2 L161.65,1058.2 L163.65,1058.2 L165.66,1058.2 L167.66,1058.2 L169.66,1058.2 L171.67,1058.2 L173.67,1058.2 L175.68,1058.2 L177.68,1058.2 L179.69,1058.2 L181.69,1058.2 L183.7,1058.19 L185.7,1058.19 L187.71,1058.19 L189.71,1058.18 L191.72,1058.18 L193.72,1058.17 L195.72,1058.15 L197.73,1058.14 L199.73,1058.12 L201.74,1058.09 L203.74,1058.06 L205.52,1058.02 L205.75,1058.02 L207.75,1057.96 L208.37,1057.95 L209.76,1057.9 L211.68,1057.82 L211.76,1057.81 L213.77,1057.71 L215.77,1057.59 L217.77,1057.44 L219.78,1057.25 L221.78,1057.04 L223.79,1056.78 L225.79,1056.48 L227.8,1056.13 L229.8,1055.72 L231.81,1055.26 L233.81,1054.74 L235.82,1054.15 L236.28,1054 L237.82,1053.49 L239.83,1052.77 L241.37,1052.17 L241.83,1051.98 L243.83,1051.12 L245.84,1050.21 L247.84,1049.24 L249.85,1048.22 L250.85,1047.7 L251.85,1047.16 L253.86,1046.08 L255.86,1044.99 L256.86,1044.44 L257.87,1043.9 L259.87,1042.83 L261.88,1041.8 L262.11,1041.68 L263.88,1040.82 L265.89,1039.91 L267.2,1039.36 L267.89,1039.09 L269.89,1038.38 L271.9,1037.78 L272.36,1037.66 L273.9,1037.31 L274.06,1037.28 L275.91,1036.98 L277.91,1036.8 L279.84,1036.77 L279.92,1036.78 L281.77,1036.88 L281.92,1036.9 L283.7,1037.13 L283.93,1037.17 L285.93,1037.58 L287.94,1038.13 L288.86,1038.43 L289.94,1038.8 L290.4,1038.97 L291.95,1039.58 L293.95,1040.46 L294.72,1040.82 L295.72,1041.3 L295.95,1041.41 L297.65,1042.27 L297.96,1042.43 L299.58,1043.28 L299.89,1043.45 L299.96,1043.49 L300.19,1043.61 L301.97,1044.57 L303.28,1045.29 L303.97,1045.66 L304.44,1045.92 L305.98,1046.75 L306.36,1046.96 L306.75,1047.16 L307.98,1047.82 L309.06,1048.38 L309.29,1048.5 L309.99,1048.85 L311.99,1049.84 L313.69,1050.64 L314,1050.78 L316,1051.66 L317.93,1052.44" fill="none" stroke="#ff5733" stroke-opacity="0.6" stroke-width="3.5" stroke-linejoin="round"/>
</g>
<line x1="208.6" y1="988.3" x2="208.6" y2="1069.9" stroke="#2e2828" stroke-width="2.0" stroke-dasharray="6.5,6.1" stroke-dashoffset="2.7"/>
<rect x="131.5" y="988.3" width="693.9" height="81.6" fill="none" stroke="#000" stroke-width="1.6"/>
<line x1="124.5" y1="1017.3" x2="131.5" y2="1017.3" stroke="#000" stroke-width="1.5"/>
<text x="61.63" y="1024.6" font-family='"DejaVu Sans", sans-serif' font-size="19.7">0.025</text>
<line x1="124.5" y1="1058.2" x2="131.5" y2="1058.2" stroke="#000" stroke-width="1.5"/>
<text x="61.24" y="1065.5" font-family='"DejaVu Sans", sans-serif' font-size="19.7">0.000</text>
<clipPath id="clipB2"><rect x="131.5" y="1075.7" width="693.9" height="82.2"/></clipPath>
<g clip-path="url(#clipB2)">
<path d="M273.9,1113.92 L274.13,1102.6 L274.21,1103.51 L275.75,1124.15 L275.91,1127.75 L277.91,1118.99 L279.92,1112.85 L280.07,1118.2 L281.92,1114.4 L283.93,1101.88 L285.93,1101.61 L287.94,1095.9 L289.94,1102.57 L290.33,1087.22 L291.95,1089.15 L293.95,1095.27 L295.95,1076.95 L297.88,1085.61 L297.96,1080.57 L299.96,1084.13 L301.97,1086.71 L303.97,1081.78 L305.98,1094.07 L307.98,1092.39 L308.06,1085.79 L309.99,1104.33 L311.99,1095.84 L314,1115.32 L315,1112.41 L316,1104.17 L318,1110.24 L320.01,1105.37 L322.01,1112.22 L322.71,1134.48 L324.02,1125.01 L326.02,1114.78 L328.03,1118.41 L330.03,1124.56 L331.96,1129.12 L332.04,1125.68 L333.58,1138.86 L334.04,1143.05 L334.04,1143.05 L333.58,1143.34 L332.04,1144.3 L331.96,1133.08 L330.03,1146.64 L328.03,1143.54 L326.02,1144.79 L324.02,1142.44 L322.71,1146.98 L322.01,1153.15 L320.01,1143.46 L318,1146.66 L316,1143.29 L315,1146.77 L314,1140.88 L311.99,1115.92 L309.99,1129.5 L308.06,1131.85 L307.98,1140.91 L305.98,1145.69 L303.97,1136.59 L301.97,1139.92 L299.96,1127.85 L297.96,1146.42 L297.88,1123.72 L295.95,1108.56 L293.95,1138.74 L291.95,1146.42 L290.33,1124.38 L289.94,1137.22 L287.94,1128.85 L285.93,1129.3 L283.93,1134.51 L281.92,1138.18 L280.07,1146.42 L279.92,1140.99 L277.91,1145.88 L275.91,1139.88 L275.75,1138.95 L274.21,1117.62 L274.13,1145.4 L273.9,1113.92Z" fill="#00a000" fill-opacity="0.5" stroke="#00a000" stroke-opacity="0.5" stroke-width="1" stroke-linejoin="round"/>
<path d="M149.62,1145.4 L151.62,1145.4 L153.63,1145.4 L155.63,1145.4 L157.64,1145.4 L159.64,1145.4 L161.65,1145.4 L163.65,1145.4 L165.66,1145.4 L167.66,1145.4 L169.66,1145.4 L171.67,1145.4 L173.67,1145.4 L175.68,1145.4 L177.68,1145.4 L179.69,1145.4 L181.69,1145.4 L183.7,1145.4 L185.7,1145.4 L187.71,1145.4 L189.71,1145.4 L191.72,1145.4 L193.72,1145.4 L195.72,1145.4 L197.73,1145.4 L199.73,1145.4 L201.74,1145.4 L203.74,1145.4 L205.75,1145.4 L207.75,1145.4 L209.76,1145.4 L211.76,1145.4 L213.77,1145.4 L215.77,1145.4 L217.77,1145.4 L219.78,1145.4 L221.78,1145.4 L223.79,1145.4 L225.79,1145.4 L227.8,1145.4 L229.8,1145.4 L231.81,1145.4 L233.81,1145.4 L235.82,1145.4 L237.82,1145.4 L239.83,1145.4 L241.83,1145.4 L243.83,1145.4 L245.84,1145.4 L247.84,1145.4 L249.85,1145.4 L251.85,1145.4 L252.08,1145.4 L252.86,1143.71 L253.86,1132.51 L254.4,1127.19 L254.86,1128.35 L255.86,1140 L255.94,1140.62 L257.87,1140.68 L257.94,1138.59 L259.49,1123.53 L259.87,1127.73 L261.03,1137.57 L261.88,1136.48 L262.57,1137.47 L263.88,1143 L265.89,1140.05 L267.89,1140.02 L269.89,1140.06 L270.28,1137.97 L271.9,1128.26 L272.67,1134.2 L273.9,1113.92 L274.13,1103.48 L274.21,1104.86 L275.75,1127.42 L275.91,1131.42 L277.91,1124.55 L279.92,1118.14 L280.07,1135.01 L281.92,1131.53 L283.93,1106.28 L285.93,1105.06 L287.94,1115.83 L289.94,1119.34 L290.33,1109.45 L291.95,1119.68 L293.95,1107.21 L295.95,1078.11 L297.88,1096.15 L297.96,1081.5 L299.96,1102.16 L301.97,1095.04 L303.97,1082.63 L305.98,1119.43 L307.98,1107.48 L308.06,1105.09 L309.99,1107.22 L311.99,1104.61 L314,1120.75 L315,1136.18 L316,1130.9 L318,1135.27 L320.01,1136.77 L322.01,1129.36 L322.71,1139.06 L324.02,1134.69 L326.02,1136.71 L328.03,1130.14 L330.03,1130.81 L331.96,1130.64 L332.04,1132.02 L333.58,1140.86 L334.04,1143.05 L336.05,1143.29 L338.05,1143.98 L339.67,1143.03 L340.06,1143.87 L341.44,1144.29 L342.06,1136.8 L343.76,1115.85 L344.06,1120.51 L346.07,1143.67 L348.07,1143.94 L349.54,1144.19 L350.08,1136.41 L351.47,1115.63 L352.08,1124.87 L353.39,1145.05 L354.09,1143.76 L354.47,1144.16 L356.09,1104.88 L357.17,1078.62 L358.1,1101.43 L359.87,1144.49 L360.1,1144.74 L361.87,1144.7 L362.11,1140.65 L364.11,1102.32 L364.19,1100.61 L366.12,1137.7 L366.5,1144.92 L367.81,1145.08 L368.12,1139.77 L370.12,1105.97 L370.51,1099.52 L372.13,1127.04 L373.21,1145.34 L374.13,1145.39 L374.37,1145.4 L374.9,1145.4" fill="none" stroke="#00a000" stroke-width="3" stroke-linejoin="round"/>
<path d="M149.62,1145.4 L151.62,1145.4 L153.63,1145.4 L155.63,1145.4 L157.64,1145.4 L159.64,1145.4 L161.65,1145.4 L163.65,1145.4 L165.66,1145.4 L167.66,1145.4 L169.66,1145.4 L171.67,1145.4 L173.67,1145.4 L175.68,1145.4 L177.68,1145.4 L179.69,1145.4 L181.69,1145.4 L183.7,1145.4 L185.7,1145.4 L187.71,1145.4 L189.71,1145.4 L191.72,1145.4 L193.72,1145.4 L195.72,1145.4 L197.73,1145.4 L199.73,1145.39 L201.74,1145.39 L203.74,1145.39 L205.75,1145.39 L207.75,1145.39 L209.76,1145.38 L211.76,1145.38 L213.77,1145.37 L215.77,1145.36 L217.77,1145.35 L219.78,1145.34 L221.78,1145.32 L223.79,1145.3 L225.79,1145.28 L227.8,1145.25 L229.8,1145.21 L231.81,1145.17 L233.81,1145.12 L235.82,1145.06 L237.82,1144.98 L239.83,1144.9 L241.83,1144.79 L243.83,1144.67 L245.84,1144.53 L247.84,1144.37 L249.85,1144.19 L251.85,1143.97 L252.08,1143.94 L252.86,1143.85 L253.86,1143.73 L254.4,1143.65 L254.86,1143.59 L255.86,1143.45 L255.94,1143.43 L257.87,1143.13 L257.94,1143.12 L259.49,1142.85 L259.87,1142.77 L261.03,1142.55 L261.88,1142.37 L262.57,1142.23 L263.88,1141.93 L265.89,1141.44 L267.89,1140.89 L269.89,1140.29 L270.28,1140.17 L271.9,1139.64 L272.67,1139.38 L273.9,1138.93 L274.13,1138.85 L274.21,1138.82 L275.75,1138.23 L275.91,1138.17 L277.91,1137.35 L279.92,1136.48 L280.07,1136.41 L281.92,1135.55 L283.93,1134.57 L285.93,1133.55 L287.94,1132.49 L289.94,1131.39 L290.33,1131.17 L291.95,1130.26 L293.95,1129.11 L295.95,1127.95 L297.88,1126.83 L297.96,1126.78 L299.96,1125.62 L301.97,1124.48 L303.97,1123.37 L305.98,1122.29 L307.98,1121.27 L308.06,1121.23 L309.99,1120.31 L311.99,1119.42 L314,1118.61 L315,1118.24 L316,1117.9 L318,1117.29 L320.01,1116.79 L322.01,1116.4 L322.71,1116.29 L324.02,1116.13 L326.02,1115.99 L328.03,1115.97 L330.03,1116.07 L331.96,1116.29 L332.04,1116.3 L333.58,1116.56 L334.04,1116.65 L336.05,1117.12 L338.05,1117.7 L339.67,1118.24 L340.06,1118.38 L341.44,1118.91 L342.06,1119.16 L343.76,1119.89 L344.06,1120.03 L346.07,1120.97 L348.07,1121.97 L349.54,1122.74 L350.08,1123.03 L351.47,1123.79 L352.08,1124.13 L353.39,1124.87 L354.09,1125.27 L354.47,1125.49 L356.09,1126.42 L357.17,1127.05 L358.1,1127.59 L359.87,1128.62 L360.1,1128.75 L361.87,1129.78 L362.11,1129.91 L364.11,1131.04 L364.19,1131.09 L366.12,1132.15 L366.5,1132.36 L367.81,1133.07 L368.12,1133.23 L370.12,1134.26 L370.51,1134.46 L372.13,1135.26 L373.21,1135.77 L374.13,1136.2 L374.37,1136.3 L374.9,1136.55" fill="none" stroke="#ff5733" stroke-opacity="0.6" stroke-width="3.5" stroke-linejoin="round"/>
</g>
<line x1="208.6" y1="1075.7" x2="208.6" y2="1157.9" stroke="#2e2828" stroke-width="2.0" stroke-dasharray="6.5,6.1" stroke-dashoffset="2.7"/>
<rect x="131.5" y="1075.7" width="693.9" height="82.2" fill="none" stroke="#000" stroke-width="1.6"/>
<line x1="124.5" y1="1103.1" x2="131.5" y2="1103.1" stroke="#000" stroke-width="1.5"/>
<text x="61.63" y="1110.4" font-family='"DejaVu Sans", sans-serif' font-size="19.7">0.025</text>
<line x1="124.5" y1="1145.4" x2="131.5" y2="1145.4" stroke="#000" stroke-width="1.5"/>
<text x="61.24" y="1152.7" font-family='"DejaVu Sans", sans-serif' font-size="19.7">0.000</text>
<clipPath id="clipB3"><rect x="131.5" y="1163" width="693.9" height="82.2"/></clipPath>
<g clip-path="url(#clipB3)">
<path d="M302.58,1230.16 L302.97,1216.42 L303.82,1216.16 L305.05,1219.78 L306.29,1217.96 L307.52,1212.6 L308.75,1213.31 L309.99,1218.29 L311.22,1210.66 L312.45,1214.42 L313.69,1215.16 L314.92,1207.74 L316.15,1207.35 L317.39,1210.35 L318.62,1212.06 L319.86,1212.73 L320.86,1210.21 L321.09,1212.38 L322.32,1205.13 L323.56,1206.55 L324.79,1205.27 L326.02,1201.21 L327.26,1202.41 L328.49,1201.52 L329.72,1203.49 L330.96,1209.38 L332.19,1209.41 L333.42,1200.88 L333.58,1205.98 L334.66,1212.72 L335.89,1204.82 L337.13,1202.55 L338.36,1204.17 L339.59,1204.84 L340.83,1200.07 L342.06,1199.93 L343.29,1214.11 L344.53,1209.49 L345.76,1208.19 L346.99,1207.35 L348.23,1205.52 L349.46,1197.04 L350.7,1197.8 L351.93,1196.23 L353.16,1196.24 L354.4,1189.11 L355.63,1191.1 L356.86,1190.31 L358.1,1183.72 L359.1,1182.26 L359.33,1199.7 L360.56,1195.96 L361.8,1182.45 L363.03,1177.56 L364.26,1178.14 L365.5,1178.2 L366.73,1177.76 L367.97,1186.44 L369.2,1183.02 L370.43,1178.97 L370.51,1174.25 L371.67,1175.68 L372.9,1176.01 L374.13,1178.18 L375.37,1178.3 L376.6,1177.62 L377.83,1184.3 L379.07,1178.93 L380.3,1173.42 L381.54,1169.04 L382.07,1173.84 L382.77,1174 L384,1177.64 L385.24,1208.96 L386.47,1197.36 L387.7,1184.59 L388.4,1180.21 L388.94,1176.84 L390.17,1175.73 L391.4,1175.31 L392.64,1172.87 L393.87,1170.3 L395.1,1168.81 L396.34,1171.3 L397.5,1177.49 L397.57,1172.74 L398.81,1172.75 L400.04,1180.13 L401.27,1170.6 L402.51,1166.06 L403.74,1165.71 L404.97,1165.83 L406.21,1166.52 L407.44,1172.66 L408.67,1189.6 L409.06,1198.6 L409.91,1188.53 L411.14,1174.81 L412.38,1176.45 L413.61,1187.72 L414.84,1180.34 L416.08,1183.42 L417.31,1186.69 L418.54,1178.57 L419.78,1179.61 L421.01,1184.11 L422.24,1194.22 L423.48,1204.63 L424.71,1197.05 L425.41,1180.07 L425.94,1183.98 L427.18,1200.25 L428.41,1200.37 L429.65,1194.48 L430.88,1197.72 L432.11,1203.94 L433.35,1199.11 L434.58,1201.67 L435.81,1200.84 L437.05,1203.03 L438.28,1194.75 L439.51,1197.22 L440.67,1204.95 L440.75,1213.58 L441.98,1208.97 L443.22,1201.86 L444.45,1200.72 L445.68,1198.04 L446.92,1201.21 L448.15,1207.57 L449.38,1209.6 L450.62,1200.48 L450.85,1194.22 L451.85,1195.41 L453.08,1195.3 L454.32,1195.9 L455.55,1196.5 L456.78,1197.14 L458.02,1197.7 L459.25,1203.07 L460.49,1213.83 L461.72,1209.45 L462.95,1210.43 L463.49,1217.97 L464.19,1217.47 L465.42,1208.07 L466.65,1209.71 L467.89,1210.71 L469.12,1209.73 L470.35,1211.57 L471.59,1213.96 L472.82,1217.32 L474.06,1218.18 L475.29,1217.39 L476.29,1216.22 L476.52,1215.84 L477.76,1214.31 L478.99,1217.08 L480.22,1215.65 L481.46,1217.06 L482.69,1230.48 L482.69,1230.48 L481.46,1230.74 L480.22,1230.93 L478.99,1228.21 L477.76,1224.49 L476.52,1226.85 L476.29,1228.24 L475.29,1232.25 L474.06,1230.69 L472.82,1231.61 L471.59,1232.56 L470.35,1230.14 L469.12,1229.73 L467.89,1230.02 L466.65,1233.84 L465.42,1229.94 L464.19,1230.3 L463.49,1232.3 L462.95,1233.47 L461.72,1233.2 L460.49,1233.63 L459.25,1235.01 L458.02,1232.02 L456.78,1234.9 L455.55,1232.12 L454.32,1228.63 L453.08,1232.94 L451.85,1235.1 L450.85,1228.9 L450.62,1235.96 L449.38,1235.31 L448.15,1230.34 L446.92,1239.48 L445.68,1239.55 L444.45,1236.57 L443.22,1239.68 L441.98,1235.97 L440.75,1236.72 L440.67,1230.37 L439.51,1231.84 L438.28,1239.79 L437.05,1229.07 L435.81,1222.55 L434.58,1240.14 L433.35,1229.62 L432.11,1218.85 L430.88,1223.31 L429.65,1237.86 L428.41,1235.94 L427.18,1230 L425.94,1237.38 L425.41,1240.62 L424.71,1240.66 L423.48,1235.01 L422.24,1217.01 L421.01,1216.61 L419.78,1237.9 L418.54,1240.27 L417.31,1234.33 L416.08,1234.3 L414.84,1234.43 L413.61,1235.9 L412.38,1229.42 L411.14,1231.14 L409.91,1231 L409.06,1223.2 L408.67,1238.55 L407.44,1240.67 L406.21,1238.81 L404.97,1240.67 L403.74,1235.85 L402.51,1232.01 L401.27,1229.51 L400.04,1224.09 L398.81,1218.6 L397.57,1230.58 L397.5,1226.17 L396.34,1220.73 L395.1,1206.29 L393.87,1206.97 L392.64,1225.12 L391.4,1235.9 L390.17,1227.14 L388.94,1220.45 L388.4,1196.34 L387.7,1212.48 L386.47,1234.79 L385.24,1230.61 L384,1234.44 L382.77,1240.39 L382.07,1238.55 L381.54,1238.91 L380.3,1235.62 L379.07,1240.07 L377.83,1238.76 L376.6,1226.95 L375.37,1235.73 L374.13,1239.63 L372.9,1232.22 L371.67,1228.3 L370.51,1222.83 L370.43,1230.74 L369.2,1239.19 L367.97,1239.08 L366.73,1233.52 L365.5,1225.02 L364.26,1237.5 L363.03,1238.64 L361.8,1238.54 L360.56,1235.61 L359.33,1231.33 L359.1,1231.58 L358.1,1228.85 L356.86,1225.01 L355.63,1225.51 L354.4,1228.24 L353.16,1228.57 L351.93,1221.82 L350.7,1231.34 L349.46,1232.91 L348.23,1232.14 L346.99,1238.28 L345.76,1236.36 L344.53,1231.24 L343.29,1231.97 L342.06,1222.99 L340.83,1222.92 L339.59,1230.07 L338.36,1237.59 L337.13,1230.46 L335.89,1237.53 L334.66,1234.61 L333.58,1229.75 L333.42,1233.91 L332.19,1231.25 L330.96,1219.79 L329.72,1227.66 L328.49,1232.78 L327.26,1228 L326.02,1233.77 L324.79,1235.54 L323.56,1231.64 L322.32,1235.61 L321.09,1237.41 L320.86,1234.25 L319.86,1231.9 L318.62,1232.57 L317.39,1229.95 L316.15,1223.83 L314.92,1230.51 L313.69,1234.61 L312.45,1234.53 L311.22,1231.62 L309.99,1231.68 L308.75,1233.25 L307.52,1232.52 L306.29,1232.45 L305.05,1232.12 L303.82,1231.5 L302.97,1232.41 L302.58,1230.16Z" fill="#00a000" fill-opacity="0.5" stroke="#00a000" stroke-opacity="0.5" stroke-width="1" stroke-linejoin="round"/>
<path d="M149.62,1233.5 L150.85,1233.5 L152.09,1233.5 L153.32,1233.5 L154.55,1233.5 L155.79,1233.5 L157.02,1233.5 L158.25,1233.5 L159.49,1233.5 L160.72,1233.5 L161.95,1233.5 L163.19,1233.5 L164.42,1233.5 L165.66,1233.5 L166.89,1233.5 L168.12,1233.5 L169.36,1233.5 L170.59,1233.5 L171.82,1233.5 L173.06,1233.5 L174.29,1233.5 L175.52,1233.5 L176.76,1233.5 L177.99,1233.5 L179.22,1233.5 L180.46,1233.5 L181.69,1233.5 L182.93,1233.5 L184.16,1233.5 L185.39,1233.5 L186.63,1233.5 L187.86,1233.5 L189.09,1233.5 L190.33,1233.5 L191.56,1233.5 L192.79,1233.5 L194.03,1233.5 L195.26,1233.5 L196.5,1233.5 L197.73,1233.5 L198.96,1233.5 L200.2,1233.5 L201.43,1233.5 L202.66,1233.5 L203.9,1233.5 L205.13,1233.5 L206.36,1233.5 L207.6,1233.5 L208.83,1233.5 L210.06,1233.5 L211.3,1233.5 L212.53,1233.5 L213.77,1233.5 L215,1233.5 L216.23,1233.5 L217.47,1233.5 L218.7,1233.5 L219.93,1233.5 L221.17,1233.5 L222.4,1233.5 L223.63,1233.5 L224.87,1233.5 L226.1,1233.5 L227.34,1233.5 L228.57,1233.5 L229.8,1233.5 L231.04,1233.5 L232.27,1233.5 L233.5,1233.5 L234.74,1233.5 L235.97,1233.5 L237.2,1233.5 L238.44,1233.5 L239.67,1233.5 L240.9,1233.5 L242.14,1233.5 L243.37,1233.5 L244.61,1233.5 L245.84,1233.5 L247.07,1233.5 L248.31,1233.5 L249.54,1233.5 L250.77,1233.5 L252.01,1233.5 L253.24,1233.5 L254.47,1233.5 L255.71,1233.5 L256.94,1233.5 L258.18,1233.5 L259.41,1233.5 L260.64,1233.5 L261.88,1233.5 L263.11,1233.5 L264.34,1233.5 L265.58,1233.5 L266.81,1233.5 L268.04,1233.5 L269.28,1233.5 L270.51,1233.5 L271.74,1233.5 L272.98,1233.5 L274.21,1233.5 L275.45,1233.5 L276.68,1233.5 L277.91,1233.5 L279.15,1233.5 L280.38,1233.5 L281.61,1233.5 L282.85,1233.5 L284.08,1233.5 L285.31,1233.5 L286.55,1233.5 L287.78,1233.5 L289.02,1233.5 L290.25,1233.5 L291.25,1233.26 L291.48,1231.77 L292.72,1224.04 L292.79,1223.51 L293.95,1229.92 L294.34,1232.33 L295.18,1232.14 L296.42,1232.22 L297.65,1231.56 L298.88,1231.26 L300.12,1231.14 L301.35,1231.17 L302.58,1230.16 L302.97,1230.05 L303.82,1230.27 L305.05,1230.52 L306.29,1228.99 L307.52,1227.48 L308.75,1226.32 L309.99,1228.79 L311.22,1227.43 L312.45,1226.86 L313.69,1221.78 L314.92,1220.25 L316.15,1217.84 L317.39,1220.35 L318.62,1218.64 L319.86,1223.87 L320.86,1222.36 L321.09,1221.16 L322.32,1214.46 L323.56,1217.78 L324.79,1219.13 L326.02,1222.54 L327.26,1219.63 L328.49,1220.63 L329.72,1219.09 L330.96,1213.18 L332.19,1217.6 L333.42,1219.09 L333.58,1223.26 L334.66,1224.13 L335.89,1219.3 L337.13,1213.36 L338.36,1209.19 L339.59,1211.03 L340.83,1216.88 L342.06,1213.6 L343.29,1216.64 L344.53,1212.53 L345.76,1217.04 L346.99,1209.48 L348.23,1210.69 L349.46,1198.24 L350.7,1207.59 L351.93,1208.81 L353.16,1222.8 L354.4,1216.59 L355.63,1214.12 L356.86,1212.26 L358.1,1217.31 L359.1,1225.14 L359.33,1221.35 L360.56,1208.52 L361.8,1193.63 L363.03,1192.78 L364.26,1202.55 L365.5,1209.5 L366.73,1217.13 L367.97,1220.06 L369.2,1211.01 L370.43,1202.6 L370.51,1190.78 L371.67,1199.6 L372.9,1190.46 L374.13,1184.47 L375.37,1188.18 L376.6,1198.63 L377.83,1211.15 L379.07,1199.89 L380.3,1191.65 L381.54,1190.31 L382.07,1185.42 L382.77,1189.23 L384,1190.27 L385.24,1215.92 L386.47,1215.63 L387.7,1201.7 L388.4,1188.11 L388.94,1184.5 L390.17,1179 L391.4,1176.67 L392.64,1174.97 L393.87,1173.6 L395.1,1171.86 L396.34,1183.8 L397.5,1193.65 L397.57,1193.48 L398.81,1177.79 L400.04,1185 L401.27,1198.94 L402.51,1210.57 L403.74,1207.37 L404.97,1202.58 L406.21,1202.58 L407.44,1204 L408.67,1198.04 L409.06,1204.8 L409.91,1209.58 L411.14,1215.28 L412.38,1214.17 L413.61,1206.2 L414.84,1204.16 L416.08,1202.66 L417.31,1202.15 L418.54,1202.98 L419.78,1199.56 L421.01,1202.89 L422.24,1205.85 L423.48,1210.51 L424.71,1213.79 L425.41,1217.35 L425.94,1218.27 L427.18,1215.84 L428.41,1211.75 L429.65,1214.34 L430.88,1210.29 L432.11,1215.07 L433.35,1211.18 L434.58,1216.53 L435.81,1210.97 L437.05,1215.66 L438.28,1218.1 L439.51,1222.23 L440.67,1218.11 L440.75,1217.26 L441.98,1215.48 L443.22,1216.54 L444.45,1212.37 L445.68,1211.31 L446.92,1210.01 L448.15,1216.95 L449.38,1216.57 L450.62,1221.89 L450.85,1216.83 L451.85,1218.65 L453.08,1218.2 L454.32,1223.77 L455.55,1224.65 L456.78,1222.7 L458.02,1221.83 L459.25,1222.77 L460.49,1224.06 L461.72,1224.4 L462.95,1224.55 L463.49,1223.7 L464.19,1220.39 L465.42,1218.78 L466.65,1220.16 L467.89,1219.45 L469.12,1218.32 L470.35,1217.6 L471.59,1218.58 L472.82,1221.68 L474.06,1222.52 L475.29,1225.74 L476.29,1221.55 L476.52,1219.9 L477.76,1218.42 L478.99,1221.69 L480.22,1223.03 L481.46,1223.13 L482.69,1230.48 L483.08,1232.95 L483.92,1233.03 L485.16,1232.98 L486.39,1233.06 L487.62,1233.11 L488.86,1233.14 L490.09,1233.08 L491.33,1228.83 L491.63,1227.84 L492.56,1231 L493.18,1233.23 L493.79,1233.22 L495.03,1233.22 L496.26,1233.16 L497.49,1233.17 L498.73,1233.22 L499.19,1233.03 L499.96,1233.12 L500.04,1233.14 L501.19,1220.41 L502.35,1207.4 L502.43,1208.21 L503.66,1221.96 L504.66,1233.23 L504.9,1233.2 L506.13,1233.21 L507.36,1233.14 L508.6,1233.2 L508.75,1233.29 L509.83,1224.74 L510.68,1218.02 L511.06,1221 L512.3,1230.87 L512.61,1233.31 L513.53,1233.35 L514.76,1233.38 L516,1233.4 L517.23,1233.39 L517.31,1233.37 L518.46,1213.39 L519.62,1193.44 L519.7,1194.77 L520.93,1216.1 L521.63,1228.1 L521.93,1229.33 L522.17,1226.25 L523.17,1212.95 L523.4,1216.03 L524.63,1232.45 L524.71,1233.46 L525.87,1233.46 L527.1,1233.47 L528.33,1233.5 L528.57,1233.5" fill="none" stroke="#00a000" stroke-width="3" stroke-linejoin="round"/>
<path d="M149.62,1233.5 L150.85,1233.5 L152.09,1233.5 L153.32,1233.5 L154.55,1233.5 L155.79,1233.5 L157.02,1233.5 L158.25,1233.5 L159.49,1233.5 L160.72,1233.5 L161.95,1233.5 L163.19,1233.5 L164.42,1233.5 L165.66,1233.5 L166.89,1233.5 L168.12,1233.5 L169.36,1233.5 L170.59,1233.5 L171.82,1233.5 L173.06,1233.5 L174.29,1233.5 L175.52,1233.5 L176.76,1233.5 L177.99,1233.5 L179.22,1233.5 L180.46,1233.5 L181.69,1233.5 L182.93,1233.5 L184.16,1233.5 L185.39,1233.5 L186.63,1233.5 L187.86,1233.5 L189.09,1233.5 L190.33,1233.49 L191.56,1233.49 L192.79,1233.49 L194.03,1233.49 L195.26,1233.49 L196.5,1233.49 L197.73,1233.49 L198.96,1233.49 L200.2,1233.49 L201.43,1233.49 L202.66,1233.49 L203.9,1233.48 L205.13,1233.48 L206.36,1233.48 L207.6,1233.48 L208.83,1233.48 L210.06,1233.48 L211.3,1233.47 L212.53,1233.47 L213.77,1233.47 L215,1233.47 L216.23,1233.46 L217.47,1233.46 L218.7,1233.45 L219.93,1233.45 L221.17,1233.45 L222.4,1233.44 L223.63,1233.44 L224.87,1233.43 L226.1,1233.42 L227.34,1233.42 L228.57,1233.41 L229.8,1233.4 L231.04,1233.4 L232.27,1233.39 L233.5,1233.38 L234.74,1233.37 L235.97,1233.36 L237.2,1233.34 L238.44,1233.33 L239.67,1233.32 L240.9,1233.3 L242.14,1233.29 L243.37,1233.27 L244.61,1233.25 L245.84,1233.24 L247.07,1233.22 L248.31,1233.19 L249.54,1233.17 L250.77,1233.15 L252.01,1233.12 L253.24,1233.09 L254.47,1233.06 L255.71,1233.03 L256.94,1233 L258.18,1232.96 L259.41,1232.93 L260.64,1232.89 L261.88,1232.85 L263.11,1232.8 L264.34,1232.75 L265.58,1232.7 L266.81,1232.65 L268.04,1232.6 L269.28,1232.54 L270.51,1232.48 L271.74,1232.41 L272.98,1232.34 L274.21,1232.27 L275.45,1232.19 L276.68,1232.11 L277.91,1232.03 L279.15,1231.94 L280.38,1231.85 L281.61,1231.75 L282.85,1231.65 L284.08,1231.55 L285.31,1231.44 L286.55,1231.32 L287.78,1231.2 L289.02,1231.07 L290.25,1230.94 L291.25,1230.83 L291.48,1230.81 L292.72,1230.66 L292.79,1230.65 L293.95,1230.51 L294.34,1230.47 L295.18,1230.36 L296.42,1230.2 L297.65,1230.03 L298.88,1229.86 L300.12,1229.68 L301.35,1229.49 L302.58,1229.3 L302.97,1229.24 L303.82,1229.1 L305.05,1228.89 L306.29,1228.68 L307.52,1228.46 L308.75,1228.23 L309.99,1228 L311.22,1227.76 L312.45,1227.51 L313.69,1227.25 L314.92,1226.99 L316.15,1226.72 L317.39,1226.45 L318.62,1226.16 L319.86,1225.87 L320.86,1225.63 L321.09,1225.58 L322.32,1225.27 L323.56,1224.96 L324.79,1224.64 L326.02,1224.32 L327.26,1223.99 L328.49,1223.65 L329.72,1223.31 L330.96,1222.96 L332.19,1222.61 L333.42,1222.25 L333.58,1222.21 L334.66,1221.89 L335.89,1221.52 L337.13,1221.15 L338.36,1220.77 L339.59,1220.39 L340.83,1220.01 L342.06,1219.62 L343.29,1219.23 L344.53,1218.84 L345.76,1218.44 L346.99,1218.05 L348.23,1217.65 L349.46,1217.25 L350.7,1216.85 L351.93,1216.46 L353.16,1216.06 L354.4,1215.66 L355.63,1215.27 L356.86,1214.88 L358.1,1214.49 L359.1,1214.17 L359.33,1214.1 L360.56,1213.72 L361.8,1213.34 L363.03,1212.97 L364.26,1212.6 L365.5,1212.23 L366.73,1211.88 L367.97,1211.53 L369.2,1211.19 L370.43,1210.85 L370.51,1210.83 L371.67,1210.53 L372.9,1210.21 L374.13,1209.9 L375.37,1209.61 L376.6,1209.32 L377.83,1209.04 L379.07,1208.78 L380.3,1208.53 L381.54,1208.28 L382.07,1208.18 L382.77,1208.06 L384,1207.84 L385.24,1207.64 L386.47,1207.45 L387.7,1207.28 L388.4,1207.18 L388.94,1207.11 L390.17,1206.97 L391.4,1206.84 L392.64,1206.72 L393.87,1206.62 L395.1,1206.54 L396.34,1206.47 L397.5,1206.41 L397.57,1206.41 L398.81,1206.37 L400.04,1206.35 L401.27,1206.34 L402.51,1206.35 L403.74,1206.38 L404.97,1206.42 L406.21,1206.47 L407.44,1206.55 L408.67,1206.63 L409.06,1206.66 L409.91,1206.74 L411.14,1206.85 L412.38,1206.99 L413.61,1207.13 L414.84,1207.3 L416.08,1207.47 L417.31,1207.66 L418.54,1207.87 L419.78,1208.08 L421.01,1208.31 L422.24,1208.56 L423.48,1208.81 L424.71,1209.08 L425.41,1209.23 L425.94,1209.35 L427.18,1209.64 L428.41,1209.94 L429.65,1210.25 L430.88,1210.57 L432.11,1210.89 L433.35,1211.23 L434.58,1211.57 L435.81,1211.92 L437.05,1212.28 L438.28,1212.64 L439.51,1213.01 L440.67,1213.36 L440.75,1213.39 L441.98,1213.77 L443.22,1214.15 L444.45,1214.54 L445.68,1214.93 L446.92,1215.32 L448.15,1215.71 L449.38,1216.11 L450.62,1216.51 L450.85,1216.58 L451.85,1216.9 L453.08,1217.3 L454.32,1217.7 L455.55,1218.1 L456.78,1218.49 L458.02,1218.89 L459.25,1219.28 L460.49,1219.67 L461.72,1220.06 L462.95,1220.44 L463.49,1220.61 L464.19,1220.82 L465.42,1221.2 L466.65,1221.57 L467.89,1221.94 L469.12,1222.3 L470.35,1222.66 L471.59,1223.01 L472.82,1223.35 L474.06,1223.7 L475.29,1224.03 L476.29,1224.3 L476.52,1224.36 L477.76,1224.68 L478.99,1225 L480.22,1225.31 L481.46,1225.61 L482.69,1225.91 L483.08,1226 L483.92,1226.2 L485.16,1226.48 L486.39,1226.76 L487.62,1227.03 L488.86,1227.29 L490.09,1227.54 L491.33,1227.79 L491.63,1227.85 L492.56,1228.03 L493.18,1228.15 L493.79,1228.26 L495.03,1228.49 L496.26,1228.71 L497.49,1228.92 L498.73,1229.12 L499.19,1229.2 L499.96,1229.32 L500.04,1229.34 L501.19,1229.52 L502.35,1229.69 L502.43,1229.7 L503.66,1229.88 L504.66,1230.02 L504.9,1230.05 L506.13,1230.22 L507.36,1230.38 L508.6,1230.53 L508.75,1230.55 L509.83,1230.68 L510.68,1230.78 L511.06,1230.82 L512.3,1230.96 L512.61,1230.99 L513.53,1231.09 L514.76,1231.22 L516,1231.34 L517.23,1231.45 L517.31,1231.46 L518.46,1231.56 L519.62,1231.66 L519.7,1231.67 L520.93,1231.77 L521.63,1231.82 L521.93,1231.85 L522.17,1231.86 L523.17,1231.94 L523.4,1231.95 L524.63,1232.04 L524.71,1232.05 L525.87,1232.12 L527.1,1232.2 L528.33,1232.28 L528.57,1232.29" fill="none" stroke="#ff5733" stroke-opacity="0.6" stroke-width="3.5" stroke-linejoin="round"/>
</g>
<line x1="208.6" y1="1163" x2="208.6" y2="1245.2" stroke="#2e2828" stroke-width="2.0" stroke-dasharray="6.5,6.1" stroke-dashoffset="2.7"/>
<rect x="131.5" y="1163" width="693.9" height="82.2" fill="none" stroke="#000" stroke-width="1.6"/>
<line x1="124.5" y1="1190.8" x2="131.5" y2="1190.8" stroke="#000" stroke-width="1.5"/>
<text x="61.63" y="1198.1" font-family='"DejaVu Sans", sans-serif' font-size="19.7">0.025</text>
<line x1="124.5" y1="1233.5" x2="131.5" y2="1233.5" stroke="#000" stroke-width="1.5"/>
<text x="61.24" y="1240.8" font-family='"DejaVu Sans", sans-serif' font-size="19.7">0.000</text>
<clipPath id="clipB4"><rect x="131.5" y="1250" width="693.9" height="82.4"/></clipPath>
<g clip-path="url(#clipB4)">
<path d="M316.15,1315.85 L316.39,1301.25 L317.39,1306.98 L318.62,1303.66 L319.86,1301.82 L321.09,1300.94 L322.32,1302.49 L323.56,1303.35 L324.79,1303.52 L326.02,1307.57 L327.26,1304.91 L328.49,1302.43 L329.72,1305.22 L330.96,1303.4 L331.27,1303.04 L331.96,1317.17 L331.96,1317.17 L331.27,1320.08 L330.96,1322.55 L329.72,1323.07 L328.49,1322.56 L327.26,1319.12 L326.02,1315.9 L324.79,1316.69 L323.56,1322.22 L322.32,1324.16 L321.09,1323.28 L319.86,1318.7 L318.62,1319.69 L317.39,1320.91 L316.39,1321.8 L316.15,1315.85Z" fill="#00a000" fill-opacity="0.5" stroke="#00a000" stroke-opacity="0.5" stroke-width="1" stroke-linejoin="round"/>
<path d="M379.07,1317.9 L379.84,1308.41 L380.3,1309.1 L381.54,1306.26 L382.77,1302.03 L383.54,1300.51 L384,1299.66 L385.24,1301.21 L386.47,1305.26 L387.7,1307.28 L388.94,1302.64 L390.17,1300.22 L391.4,1301.01 L392.64,1297.79 L393.87,1300.6 L395.1,1299.67 L396.34,1297.15 L397.57,1297.31 L398.81,1305.56 L400.04,1301.65 L401.27,1292.99 L402.51,1294.79 L403.74,1292.66 L404.97,1296.7 L405.98,1295.79 L406.21,1292.44 L407.44,1294.41 L408.67,1289.03 L409.91,1290.71 L411.14,1290.09 L412.38,1287.54 L413.61,1284.32 L414.84,1282.74 L416.08,1282.03 L417.31,1277.1 L418.54,1279.53 L419.78,1280.93 L421.01,1275.35 L422.24,1272.94 L423.48,1270.46 L424.71,1267.9 L425.94,1267.38 L427.18,1270.33 L428.33,1274.14 L428.41,1269.08 L429.65,1269.34 L430.88,1264.66 L432.11,1260.05 L433.35,1266.01 L434.58,1267.5 L435.81,1262.39 L437.05,1270.94 L438.28,1282.68 L439.51,1272.5 L440.75,1265.31 L441.98,1262.66 L443.22,1268.23 L444.45,1277 L445.68,1278.28 L446.92,1267.3 L447.61,1269.15 L448.15,1267.81 L449.38,1272.76 L450.62,1285.2 L451.85,1282.5 L453.08,1287.78 L454.32,1298.36 L454.55,1302.99 L455.55,1302.5 L456.78,1297.95 L458.02,1295.37 L459.25,1295.06 L460.49,1289.5 L461.72,1283.5 L462.95,1282.88 L464.19,1284.54 L465.42,1292.2 L466.65,1278.78 L466.88,1278.21 L467.89,1281.72 L469.12,1276.27 L470.35,1270.91 L471.59,1276.87 L472.82,1272.41 L474.06,1270.61 L475.29,1269.69 L476.52,1264.82 L477.76,1265.35 L478.99,1271.52 L480.22,1279.48 L481.46,1278.5 L482.69,1269.92 L483.92,1265.58 L484.62,1272.8 L485.16,1279.39 L486.39,1280.94 L487.62,1270.14 L488.86,1263.18 L490.09,1267.55 L491.33,1273.15 L492.56,1263.75 L493.79,1263.94 L495.03,1264.94 L496.26,1272.69 L497.49,1270.78 L498.73,1269.03 L499.96,1277.61 L501.19,1270.21 L501.58,1266.23 L502.43,1268.5 L503.66,1274.52 L504.9,1275.11 L506.13,1277.91 L507.36,1277.55 L508.6,1277.81 L509.83,1279.86 L511.06,1285.68 L512.3,1280.06 L513.53,1281.81 L514.76,1285.27 L516,1280.8 L517.23,1278.85 L517.93,1280.91 L518.46,1278.19 L519.7,1279.71 L520.93,1281.2 L522.17,1278.11 L523.4,1268.05 L524.63,1269.08 L525.87,1279.88 L527.1,1281.05 L528.33,1285.79 L529.57,1276.28 L530.8,1273.65 L532.03,1272.72 L532.96,1269.28 L533.27,1261.72 L534.5,1265.83 L535.74,1256.4 L536.97,1256.94 L538.2,1264.44 L539.44,1272.61 L540.13,1269.09 L540.67,1260.78 L541.9,1265.6 L543.14,1267.85 L544.37,1266.33 L545.6,1275.82 L546.84,1275.08 L548.07,1268.25 L549.3,1285.93 L550.54,1305.27 L551.77,1295.27 L553.01,1281.95 L554.24,1278.05 L555.47,1277.76 L555.55,1273.99 L556.71,1274.01 L557.94,1275.67 L559.17,1272.32 L560.41,1274.83 L561.64,1274.54 L562.87,1272.99 L564.11,1277.96 L565.34,1281.44 L566.58,1297.24 L567.81,1301.03 L569.04,1277.16 L570.28,1272.51 L571.51,1289.89 L572.74,1286.58 L573.98,1282.37 L575.21,1271.38 L576.44,1275.09 L577.68,1289.5 L578.91,1280.21 L580.14,1282.11 L581.38,1292.45 L582.61,1290.06 L583.85,1289.23 L585.08,1278.82 L586.31,1272.99 L587.55,1273.17 L588.78,1273.36 L590.01,1279.26 L591.25,1286.36 L592.48,1280.74 L593.71,1283.24 L594.1,1279.73 L594.95,1284.4 L596.18,1280.83 L597.42,1274.67 L598.65,1274.86 L599.88,1281.46 L601.12,1277.22 L602.35,1285.79 L603.58,1294.05 L604.82,1284.94 L606.05,1289.21 L607.28,1282.52 L608.52,1280.51 L609.75,1280.15 L610.98,1277.6 L612.22,1276.76 L613.45,1276.93 L614.69,1277.1 L615.92,1280.93 L617.15,1286.26 L617.23,1286.66 L618.39,1287.72 L619.62,1279.66 L620.85,1284.62 L622.09,1282.37 L623.32,1281.58 L624.55,1281.98 L625.79,1284.48 L627.02,1285.62 L628.26,1279.4 L629.49,1277.56 L630.72,1284.29 L631.96,1279.93 L633.19,1278.72 L634.42,1277.81 L635.66,1273.89 L636.89,1274.38 L638.12,1276.67 L639.36,1278.41 L640.59,1282.62 L641.82,1281.42 L643.06,1273.96 L644.29,1280.43 L644.83,1288.63 L645.53,1277.76 L646.76,1280.29 L647.99,1286.3 L649.23,1280.98 L650.46,1281.36 L651.69,1282.5 L652.93,1282.53 L654.16,1283.1 L655.39,1288.49 L655.78,1292.52 L656.63,1288.24 L657.86,1295.53 L659.1,1298.08 L660.33,1286.61 L661.56,1282.34 L662.8,1281.11 L664.03,1282 L665.26,1284.3 L666.5,1279.67 L667.73,1288.5 L668.96,1300.31 L670.2,1287.6 L671.2,1280.57 L671.43,1276.45 L672.66,1276.03 L673.9,1276.78 L675.13,1281.64 L676.37,1278.18 L677.6,1277.44 L678.83,1283.46 L680.07,1292.3 L681.3,1290.14 L682.53,1282.9 L683.77,1282.74 L685,1282.34 L686.23,1284.3 L687.47,1289.64 L688.7,1291.99 L689.94,1291.85 L690.48,1289.55 L691.17,1287.18 L692.4,1288.89 L693.64,1297.14 L694.87,1296.87 L696.1,1293.66 L697.34,1289.9 L698.57,1289.23 L699.8,1286.12 L700.88,1286.12 L701.04,1278.62 L702.27,1284.82 L703.5,1289.07 L704.74,1295.16 L705.97,1302.35 L707.21,1307.59 L708.36,1313.38 L708.44,1315.81 L708.44,1315.81 L708.36,1321.3 L707.21,1321.44 L705.97,1314.79 L704.74,1309.63 L703.5,1320.37 L702.27,1315.35 L701.04,1303.26 L700.88,1297.4 L699.8,1303.27 L698.57,1315.78 L697.34,1320.31 L696.1,1320.96 L694.87,1313.32 L693.64,1313.38 L692.4,1316.74 L691.17,1318.21 L690.48,1320.95 L689.94,1319.65 L688.7,1311.53 L687.47,1313.51 L686.23,1310.27 L685,1307.32 L683.77,1316.66 L682.53,1318.7 L681.3,1316.23 L680.07,1316.73 L678.83,1321.85 L677.6,1321.8 L676.37,1314.84 L675.13,1317.25 L673.9,1309.41 L672.66,1311.9 L671.43,1312.27 L671.2,1318.38 L670.2,1315.66 L668.96,1313.79 L667.73,1316.72 L666.5,1315.95 L665.26,1313.85 L664.03,1316.84 L662.8,1316.26 L661.56,1322.48 L660.33,1322.5 L659.1,1314.37 L657.86,1315.35 L656.63,1317.28 L655.78,1320.69 L655.39,1322.62 L654.16,1320.02 L652.93,1317.41 L651.69,1321.17 L650.46,1318.28 L649.23,1311.71 L647.99,1319.57 L646.76,1317.85 L645.53,1317.42 L644.83,1322.45 L644.29,1314.27 L643.06,1307.49 L641.82,1307.32 L640.59,1307.2 L639.36,1306.23 L638.12,1312.58 L636.89,1321 L635.66,1320.48 L634.42,1318.47 L633.19,1300.26 L631.96,1290.64 L630.72,1320.96 L629.49,1323.36 L628.26,1320.26 L627.02,1321.5 L625.79,1323.63 L624.55,1312.47 L623.32,1303.45 L622.09,1322.21 L620.85,1322.78 L619.62,1319.46 L618.39,1324.18 L617.23,1322.71 L617.15,1319.9 L615.92,1313.48 L614.69,1307.77 L613.45,1323.96 L612.22,1320.79 L610.98,1313.96 L609.75,1318.79 L608.52,1320.96 L607.28,1324.24 L606.05,1312.01 L604.82,1314.58 L603.58,1321.29 L602.35,1312.34 L601.12,1312.49 L599.88,1319.73 L598.65,1324.71 L597.42,1325.71 L596.18,1325.8 L594.95,1325.83 L594.1,1325.95 L593.71,1321.35 L592.48,1312.53 L591.25,1315.76 L590.01,1325.97 L588.78,1326.34 L587.55,1326.43 L586.31,1314.43 L585.08,1311.34 L583.85,1325.97 L582.61,1326.79 L581.38,1326.88 L580.14,1315.11 L578.91,1321.71 L577.68,1317.93 L576.44,1311.61 L575.21,1312.81 L573.98,1323.27 L572.74,1319.81 L571.51,1312.76 L570.28,1318.82 L569.04,1325.69 L567.81,1326.4 L566.58,1321.33 L565.34,1317.44 L564.11,1322.33 L562.87,1327.08 L561.64,1327.08 L560.41,1315.72 L559.17,1325.76 L557.94,1327.08 L556.71,1327.08 L555.55,1327.08 L555.47,1322.21 L554.24,1318.98 L553.01,1324.69 L551.77,1327.08 L550.54,1327.08 L549.3,1323.86 L548.07,1315.54 L546.84,1327.08 L545.6,1327.08 L544.37,1314.71 L543.14,1314.1 L541.9,1318.27 L540.67,1314.78 L540.13,1322.08 L539.44,1320.65 L538.2,1310.79 L536.97,1311.14 L535.74,1315.11 L534.5,1326.76 L533.27,1302.77 L532.96,1301.64 L532.03,1314.24 L530.8,1323.71 L529.57,1326.48 L528.33,1318.59 L527.1,1296.35 L525.87,1300.66 L524.63,1321.63 L523.4,1317.28 L522.17,1313.7 L520.93,1312.87 L519.7,1321.6 L518.46,1317.94 L517.93,1312.67 L517.23,1311.3 L516,1306.09 L514.76,1302.55 L513.53,1311.56 L512.3,1320.95 L511.06,1313.38 L509.83,1306.42 L508.6,1323.76 L507.36,1325.22 L506.13,1314.13 L504.9,1307.56 L503.66,1308.01 L502.43,1318.47 L501.58,1319.23 L501.19,1318.06 L499.96,1309.82 L498.73,1308.06 L497.49,1321.46 L496.26,1322.55 L495.03,1313.69 L493.79,1310.18 L492.56,1318.2 L491.33,1314.19 L490.09,1308.85 L488.86,1318.68 L487.62,1324.09 L486.39,1320.27 L485.16,1323.95 L484.62,1323.92 L483.92,1320.84 L482.69,1322.71 L481.46,1323.74 L480.22,1315.03 L478.99,1309.29 L477.76,1323.53 L476.52,1320.69 L475.29,1321.65 L474.06,1321.33 L472.82,1314.82 L471.59,1312.43 L470.35,1315.37 L469.12,1321.36 L467.89,1312.88 L466.88,1316.1 L466.65,1322.56 L465.42,1320.39 L464.19,1323.11 L462.95,1318.89 L461.72,1310.98 L460.49,1310.87 L459.25,1315.5 L458.02,1323.45 L456.78,1322.57 L455.55,1321.44 L454.55,1324.02 L454.32,1318.32 L453.08,1311.98 L451.85,1317.12 L450.62,1317.41 L449.38,1315.31 L448.15,1317.3 L447.61,1311.18 L446.92,1318.58 L445.68,1307.45 L444.45,1308.33 L443.22,1324.64 L441.98,1324.71 L440.75,1305.94 L439.51,1306.82 L438.28,1311.71 L437.05,1303.06 L435.81,1305.02 L434.58,1312.82 L433.35,1304.13 L432.11,1317.49 L430.88,1312.31 L429.65,1294.03 L428.41,1309.72 L428.33,1316.78 L427.18,1319.52 L425.94,1319.64 L424.71,1319.83 L423.48,1319.03 L422.24,1318.3 L421.01,1307.22 L419.78,1321.32 L418.54,1323.91 L417.31,1320.23 L416.08,1307.46 L414.84,1304.47 L413.61,1313.09 L412.38,1304.53 L411.14,1300.69 L409.91,1304.17 L408.67,1312.4 L407.44,1321.33 L406.21,1322.04 L405.98,1319.95 L404.97,1319.51 L403.74,1319.51 L402.51,1318.17 L401.27,1320.32 L400.04,1322.92 L398.81,1321.74 L397.57,1316.8 L396.34,1316.71 L395.1,1319.78 L393.87,1320.14 L392.64,1317.54 L391.4,1319.79 L390.17,1319.79 L388.94,1319.89 L387.7,1318.85 L386.47,1316.48 L385.24,1317.89 L384,1318.24 L383.54,1317.96 L382.77,1319.87 L381.54,1319.97 L380.3,1319.77 L379.84,1319.5 L379.07,1317.9Z" fill="#00a000" fill-opacity="0.5" stroke="#00a000" stroke-opacity="0.5" stroke-width="1" stroke-linejoin="round"/>
<path d="M149.62,1318.78 L150.85,1318.48 L152.09,1318.45 L153.32,1318.12 L154.55,1318.31 L155.71,1316.99 L155.79,1317.08 L157.02,1317.08 L158.25,1317.7 L159.49,1317.87 L160.72,1317.6 L161.95,1317.23 L163.19,1317.13 L164.42,1316.72 L165.66,1316.97 L166.89,1317.21 L168.12,1318.22 L169.36,1318.91 L170.59,1318.8 L171.82,1318.11 L173.06,1317.18 L174.29,1317.45 L175.52,1317.64 L176.76,1318.34 L177.99,1318.29 L179.22,1319.01 L180.46,1318.55 L181.69,1318.64 L182.93,1317.98 L184.16,1318.08 L185.39,1317.77 L186.63,1318.14 L187.86,1317.83 L189.09,1317.72 L190.33,1317.19 L191.56,1317.84 L192.79,1318.53 L194.03,1319.13 L195.26,1319.03 L196.5,1318.52 L197.73,1318.26 L198.96,1317.69 L200.2,1317.66 L201.43,1317.19 L202.66,1317.46 L203.9,1317.85 L205.13,1317.86 L206.36,1317.99 L207.6,1318.06 L208.83,1318.14 L210.06,1317.97 L211.3,1317.37 L212.53,1317.29 L213.77,1317.97 L215,1318.31 L216.23,1318.74 L217.47,1318.36 L218.7,1318.27 L219.93,1317.83 L221.17,1317.66 L222.4,1317.91 L223.63,1317.98 L224.87,1317.76 L226.1,1317.48 L227.34,1318.11 L228.57,1318.69 L229.8,1318.82 L231.04,1318.86 L232.27,1318.73 L233.5,1319.01 L234.74,1318.41 L235.97,1318.21 L237.2,1317.92 L238.44,1318.44 L239.67,1318.54 L240.9,1318.68 L242.14,1318.55 L243.37,1318.36 L244.61,1318.39 L245.84,1318.56 L247.07,1318.65 L247.15,1318.04 L248.31,1313.48 L249.54,1309.28 L250.77,1305.08 L251.08,1306.15 L252.01,1307.17 L253.24,1311.36 L254.47,1315.54 L254.86,1317.34 L255.71,1318.28 L256.94,1318.41 L258.18,1318.27 L259.41,1318.13 L260.64,1317.54 L261.88,1317.47 L263.11,1316.78 L264.34,1316.28 L265.58,1315.39 L266.81,1315.16 L268.04,1314.94 L269.28,1314.99 L270.51,1315.17 L271.59,1316.01 L271.74,1318.35 L272.98,1317.82 L274.21,1316.79 L275.45,1315.09 L276.68,1314.09 L277.91,1314 L279.15,1314 L280.38,1314.84 L281.61,1316.28 L282.85,1316.7 L284.08,1316.37 L285.31,1315.89 L286.47,1316.14 L286.55,1316.67 L287.78,1316.29 L289.02,1317.16 L290.25,1317.18 L291.48,1317.58 L292.72,1316.35 L293.95,1315.9 L295.18,1316.14 L296.42,1316.86 L297.65,1317.83 L298.88,1317.23 L300.12,1316.76 L301.35,1316.23 L302.58,1317.14 L303.82,1317.94 L305.05,1317.6 L306.29,1317.38 L307.52,1316.84 L308.75,1316.7 L309.99,1317.35 L311.22,1317.86 L312.45,1318.4 L313.69,1317.76 L314.92,1317.92 L315.77,1318.1 L316.15,1315.85 L316.39,1313.68 L317.39,1313.07 L318.62,1312.02 L319.86,1309.72 L321.09,1309.43 L322.32,1307.73 L323.56,1310.35 L324.79,1310.61 L326.02,1314.44 L327.26,1315.56 L328.49,1317.13 L329.72,1315.16 L330.96,1312.73 L331.27,1313.05 L331.96,1317.17 L332.19,1316.83 L333.42,1316.18 L334.66,1316.88 L335.89,1317.32 L337.13,1317.78 L338.36,1316.63 L339.59,1316.83 L340.83,1316.38 L342.06,1317.57 L343.29,1317.66 L344.53,1317.98 L345.76,1317.69 L346.99,1317.94 L348.23,1318 L349.46,1318.51 L350.7,1317.6 L351.93,1317.58 L353.16,1317.67 L354.4,1317.88 L355.63,1317.94 L356.86,1317.64 L358.1,1317.39 L359.33,1316.7 L360.56,1316.54 L361.8,1316.26 L363.03,1316.63 L364.26,1316.92 L365.5,1318.38 L366.73,1318.18 L367.97,1317.63 L369.2,1317.14 L370.43,1316.32 L371.67,1316.15 L372.9,1315.43 L374.13,1316.81 L375.37,1317.14 L376.6,1317.39 L377.83,1317.76 L379.07,1317.9 L379.84,1318.18 L380.3,1317.79 L381.54,1316.77 L382.77,1314.01 L383.54,1310.84 L384,1312.05 L385.24,1314.15 L386.47,1313.55 L387.7,1313.31 L388.94,1312.39 L390.17,1313.44 L391.4,1312 L392.64,1310.12 L393.87,1311.85 L395.1,1310.3 L396.34,1311.94 L397.57,1309.7 L398.81,1313.55 L400.04,1313.32 L401.27,1313.65 L402.51,1315.49 L403.74,1316.57 L404.97,1316.49 L405.98,1316.12 L406.21,1314.71 L407.44,1313.21 L408.67,1306.55 L409.91,1300.75 L411.14,1296.65 L412.38,1294.95 L413.61,1289.24 L414.84,1285.45 L416.08,1292.58 L417.31,1297.94 L418.54,1292.41 L419.78,1289.24 L421.01,1289.38 L422.24,1290.29 L423.48,1276.86 L424.71,1269.85 L425.94,1270.89 L427.18,1276.99 L428.33,1284.52 L428.41,1280.45 L429.65,1274.18 L430.88,1274.3 L432.11,1285.5 L433.35,1283.97 L434.58,1275.55 L435.81,1276.68 L437.05,1294.37 L438.28,1299.86 L439.51,1291.26 L440.75,1276.8 L441.98,1273.25 L443.22,1286.65 L444.45,1291.95 L445.68,1298.71 L446.92,1294.53 L447.61,1280.78 L448.15,1281.03 L449.38,1281.96 L450.62,1298.72 L451.85,1300.59 L453.08,1302.88 L454.32,1307.87 L454.55,1309.88 L455.55,1310.83 L456.78,1310.64 L458.02,1309.51 L459.25,1305.78 L460.49,1300.7 L461.72,1298.81 L462.95,1305.45 L464.19,1302.8 L465.42,1299.49 L466.65,1280.92 L466.88,1285.38 L467.89,1293.48 L469.12,1309.97 L470.35,1310.07 L471.59,1304.87 L472.82,1294.54 L474.06,1299.29 L475.29,1301.85 L476.52,1298.52 L477.76,1291.17 L478.99,1290.47 L480.22,1297.02 L481.46,1304.59 L482.69,1309.45 L483.92,1310.26 L484.62,1298.22 L485.16,1287.22 L486.39,1285.71 L487.62,1288.37 L488.86,1291.57 L490.09,1286.03 L491.33,1291.75 L492.56,1292.48 L493.79,1293.42 L495.03,1295.83 L496.26,1297.3 L497.49,1300.28 L498.73,1293.28 L499.96,1290.86 L501.19,1289.5 L501.58,1287.07 L502.43,1283.36 L503.66,1284.14 L504.9,1279.53 L506.13,1286.72 L507.36,1289.02 L508.6,1296.83 L509.83,1298.05 L511.06,1303.43 L512.3,1310.37 L513.53,1302.04 L514.76,1298.48 L516,1298.52 L517.23,1295.34 L517.93,1290.87 L518.46,1283.62 L519.7,1295.17 L520.93,1294.71 L522.17,1297.26 L523.4,1290.32 L524.63,1290.89 L525.87,1288.42 L527.1,1287.6 L528.33,1291.72 L529.57,1292.04 L530.8,1297.45 L532.03,1288.63 L532.96,1280.66 L533.27,1270.79 L534.5,1286.97 L535.74,1282.24 L536.97,1289.6 L538.2,1281.08 L539.44,1292.05 L540.13,1291.99 L540.67,1285.4 L541.9,1285.35 L543.14,1284.47 L544.37,1286.76 L545.6,1282.23 L546.84,1288.99 L548.07,1299.1 L549.3,1311.52 L550.54,1311.75 L551.77,1311.01 L553.01,1303.59 L554.24,1297.16 L555.47,1297.76 L555.55,1297.04 L556.71,1292.66 L557.94,1287.77 L559.17,1291.69 L560.41,1290.59 L561.64,1292.84 L562.87,1292.8 L564.11,1297.45 L565.34,1302.75 L566.58,1305.93 L567.81,1306.41 L569.04,1310.66 L570.28,1304.46 L571.51,1308.31 L572.74,1303.69 L573.98,1300.98 L575.21,1296.86 L576.44,1298.53 L577.68,1300.58 L578.91,1298.55 L580.14,1292.25 L581.38,1296.02 L582.61,1294.45 L583.85,1298.51 L585.08,1297.5 L586.31,1297.33 L587.55,1294.49 L588.78,1290.11 L590.01,1293.82 L591.25,1302.43 L592.48,1303.19 L593.71,1301.66 L594.1,1295.67 L594.95,1291.37 L596.18,1293.01 L597.42,1286.73 L598.65,1288.63 L599.88,1291.53 L601.12,1300.4 L602.35,1305.65 L603.58,1303.55 L604.82,1298.41 L606.05,1299.46 L607.28,1302.94 L608.52,1298.1 L609.75,1296.05 L610.98,1291.66 L612.22,1293.08 L613.45,1292.91 L614.69,1301.6 L615.92,1305.83 L617.15,1308.29 L617.23,1297.47 L618.39,1304.69 L619.62,1301.76 L620.85,1302.15 L622.09,1290.81 L623.32,1287.67 L624.55,1286.76 L625.79,1291.41 L627.02,1294.64 L628.26,1301.45 L629.49,1297.61 L630.72,1291.4 L631.96,1284.9 L633.19,1291.55 L634.42,1302.75 L635.66,1307 L636.89,1297.09 L638.12,1290.46 L639.36,1291.97 L640.59,1299.62 L641.82,1296.66 L643.06,1295.07 L644.29,1295.31 L644.83,1301.03 L645.53,1302.9 L646.76,1295.42 L647.99,1298.69 L649.23,1297.51 L650.46,1302.22 L651.69,1303.11 L652.93,1307.09 L654.16,1311.57 L655.39,1313.41 L655.78,1313.83 L656.63,1313.17 L657.86,1312.33 L659.1,1310.48 L660.33,1304.7 L661.56,1302.8 L662.8,1299.12 L664.03,1302.39 L665.26,1302.43 L666.5,1307.37 L667.73,1304.58 L668.96,1304.76 L670.2,1297.27 L671.2,1298.95 L671.43,1286.26 L672.66,1293.1 L673.9,1287.76 L675.13,1289.62 L676.37,1282.93 L677.6,1289.96 L678.83,1294.51 L680.07,1297.59 L681.3,1296.71 L682.53,1295.31 L683.77,1296.63 L685,1295.9 L686.23,1295.91 L687.47,1296.61 L688.7,1299.1 L689.94,1302.31 L690.48,1303.7 L691.17,1309.05 L692.4,1310.66 L693.64,1308.93 L694.87,1304.07 L696.1,1308.52 L697.34,1305.36 L698.57,1302.42 L699.8,1290.18 L700.88,1288.97 L701.04,1279.38 L702.27,1285.54 L703.5,1289.94 L704.74,1296.53 L705.97,1304.38 L707.21,1309.6 L708.36,1314.95 L708.44,1315.81 L709.67,1317.14 L710.91,1317.79 L712.14,1315.86 L713.37,1315.53 L714.61,1316.38 L715.84,1318.19 L717.07,1317.89 L718.31,1317.17 L719.54,1316.76 L720.78,1316.83 L722.01,1317.18 L723.24,1316.4 L724.48,1317.25 L725.71,1317.35 L726.94,1317.42 L728.18,1317.15 L729.41,1317.37 L730.64,1318 L731.88,1317.07 L733.11,1316.7 L734.34,1316.14 L735.58,1317.25 L736.81,1317.49 L738.05,1317.8 L739.28,1317.47 L740.51,1317.64 L741.75,1318.63 L742.98,1318.58 L743.98,1318.23" fill="none" stroke="#00a000" stroke-width="3" stroke-linejoin="round"/>
<path d="M149.62,1319.69 L150.85,1319.69 L152.09,1319.69 L153.32,1319.69 L154.55,1319.69 L155.71,1319.69 L155.79,1319.69 L157.02,1319.69 L158.25,1319.69 L159.49,1319.69 L160.72,1319.69 L161.95,1319.69 L163.19,1319.69 L164.42,1319.69 L165.66,1319.69 L166.89,1319.69 L168.12,1319.69 L169.36,1319.69 L170.59,1319.69 L171.82,1319.68 L173.06,1319.68 L174.29,1319.68 L175.52,1319.68 L176.76,1319.68 L177.99,1319.68 L179.22,1319.68 L180.46,1319.68 L181.69,1319.68 L182.93,1319.68 L184.16,1319.67 L185.39,1319.67 L186.63,1319.67 L187.86,1319.67 L189.09,1319.67 L190.33,1319.67 L191.56,1319.67 L192.79,1319.66 L194.03,1319.66 L195.26,1319.66 L196.5,1319.66 L197.73,1319.66 L198.96,1319.65 L200.2,1319.65 L201.43,1319.65 L202.66,1319.65 L203.9,1319.64 L205.13,1319.64 L206.36,1319.64 L207.6,1319.64 L208.83,1319.63 L210.06,1319.63 L211.3,1319.63 L212.53,1319.62 L213.77,1319.62 L215,1319.62 L216.23,1319.61 L217.47,1319.61 L218.7,1319.61 L219.93,1319.6 L221.17,1319.6 L222.4,1319.59 L223.63,1319.59 L224.87,1319.58 L226.1,1319.58 L227.34,1319.57 L228.57,1319.57 L229.8,1319.56 L231.04,1319.55 L232.27,1319.55 L233.5,1319.54 L234.74,1319.53 L235.97,1319.53 L237.2,1319.52 L238.44,1319.51 L239.67,1319.51 L240.9,1319.5 L242.14,1319.49 L243.37,1319.48 L244.61,1319.47 L245.84,1319.46 L247.07,1319.45 L247.15,1319.45 L248.31,1319.44 L249.54,1319.43 L250.77,1319.42 L251.08,1319.42 L252.01,1319.41 L253.24,1319.4 L254.47,1319.39 L254.86,1319.38 L255.71,1319.37 L256.94,1319.36 L258.18,1319.35 L259.41,1319.33 L260.64,1319.32 L261.88,1319.31 L263.11,1319.29 L264.34,1319.28 L265.58,1319.26 L266.81,1319.24 L268.04,1319.23 L269.28,1319.21 L270.51,1319.19 L271.59,1319.17 L271.74,1319.17 L272.98,1319.15 L274.21,1319.13 L275.45,1319.11 L276.68,1319.09 L277.91,1319.07 L279.15,1319.05 L280.38,1319.02 L281.61,1319 L282.85,1318.97 L284.08,1318.95 L285.31,1318.92 L286.47,1318.9 L286.55,1318.9 L287.78,1318.87 L289.02,1318.84 L290.25,1318.81 L291.48,1318.78 L292.72,1318.75 L293.95,1318.72 L295.18,1318.68 L296.42,1318.65 L297.65,1318.62 L298.88,1318.58 L300.12,1318.54 L301.35,1318.51 L302.58,1318.47 L303.82,1318.43 L305.05,1318.39 L306.29,1318.35 L307.52,1318.3 L308.75,1318.26 L309.99,1318.22 L311.22,1318.17 L312.45,1318.12 L313.69,1318.08 L314.92,1318.03 L315.77,1317.99 L316.15,1317.98 L316.39,1317.97 L317.39,1317.92 L318.62,1317.87 L319.86,1317.82 L321.09,1317.76 L322.32,1317.71 L323.56,1317.65 L324.79,1317.59 L326.02,1317.53 L327.26,1317.47 L328.49,1317.4 L329.72,1317.34 L330.96,1317.27 L331.27,1317.26 L331.96,1317.22 L332.19,1317.21 L333.42,1317.14 L334.66,1317.07 L335.89,1317 L337.13,1316.92 L338.36,1316.85 L339.59,1316.77 L340.83,1316.7 L342.06,1316.62 L343.29,1316.54 L344.53,1316.45 L345.76,1316.37 L346.99,1316.29 L348.23,1316.2 L349.46,1316.11 L350.7,1316.02 L351.93,1315.93 L353.16,1315.84 L354.4,1315.75 L355.63,1315.65 L356.86,1315.55 L358.1,1315.45 L359.33,1315.35 L360.56,1315.25 L361.8,1315.15 L363.03,1315.04 L364.26,1314.94 L365.5,1314.83 L366.73,1314.72 L367.97,1314.61 L369.2,1314.5 L370.43,1314.38 L371.67,1314.27 L372.9,1314.15 L374.13,1314.03 L375.37,1313.91 L376.6,1313.79 L377.83,1313.66 L379.07,1313.54 L379.84,1313.46 L380.3,1313.41 L381.54,1313.29 L382.77,1313.16 L383.54,1313.07 L384,1313.03 L385.24,1312.89 L386.47,1312.76 L387.7,1312.63 L388.94,1312.49 L390.17,1312.35 L391.4,1312.22 L392.64,1312.08 L393.87,1311.94 L395.1,1311.79 L396.34,1311.65 L397.57,1311.51 L398.81,1311.36 L400.04,1311.22 L401.27,1311.07 L402.51,1310.92 L403.74,1310.77 L404.97,1310.62 L405.98,1310.5 L406.21,1310.47 L407.44,1310.32 L408.67,1310.17 L409.91,1310.01 L411.14,1309.86 L412.38,1309.7 L413.61,1309.55 L414.84,1309.39 L416.08,1309.24 L417.31,1309.08 L418.54,1308.92 L419.78,1308.77 L421.01,1308.61 L422.24,1308.45 L423.48,1308.29 L424.71,1308.14 L425.94,1307.98 L427.18,1307.82 L428.33,1307.67 L428.41,1307.66 L429.65,1307.5 L430.88,1307.35 L432.11,1307.19 L433.35,1307.03 L434.58,1306.87 L435.81,1306.72 L437.05,1306.56 L438.28,1306.41 L439.51,1306.25 L440.75,1306.1 L441.98,1305.94 L443.22,1305.79 L444.45,1305.64 L445.68,1305.49 L446.92,1305.34 L447.61,1305.25 L448.15,1305.19 L449.38,1305.04 L450.62,1304.89 L451.85,1304.75 L453.08,1304.6 L454.32,1304.46 L454.55,1304.43 L455.55,1304.32 L456.78,1304.18 L458.02,1304.04 L459.25,1303.9 L460.49,1303.77 L461.72,1303.64 L462.95,1303.5 L464.19,1303.37 L465.42,1303.25 L466.65,1303.12 L466.88,1303.1 L467.89,1303 L469.12,1302.87 L470.35,1302.76 L471.59,1302.64 L472.82,1302.52 L474.06,1302.41 L475.29,1302.3 L476.52,1302.19 L477.76,1302.09 L478.99,1301.99 L480.22,1301.89 L481.46,1301.79 L482.69,1301.69 L483.92,1301.6 L484.62,1301.55 L485.16,1301.51 L486.39,1301.43 L487.62,1301.34 L488.86,1301.26 L490.09,1301.19 L491.33,1301.11 L492.56,1301.04 L493.79,1300.97 L495.03,1300.91 L496.26,1300.85 L497.49,1300.79 L498.73,1300.73 L499.96,1300.68 L501.19,1300.63 L501.58,1300.62 L502.43,1300.59 L503.66,1300.54 L504.9,1300.51 L506.13,1300.47 L507.36,1300.44 L508.6,1300.41 L509.83,1300.39 L511.06,1300.36 L512.3,1300.35 L513.53,1300.33 L514.76,1300.32 L516,1300.31 L517.23,1300.31 L517.93,1300.31 L518.46,1300.31 L519.7,1300.31 L520.93,1300.32 L522.17,1300.33 L523.4,1300.34 L524.63,1300.36 L525.87,1300.38 L527.1,1300.4 L528.33,1300.43 L529.57,1300.46 L530.8,1300.5 L532.03,1300.53 L532.96,1300.57 L533.27,1300.58 L534.5,1300.62 L535.74,1300.67 L536.97,1300.72 L538.2,1300.77 L539.44,1300.83 L540.13,1300.87 L540.67,1300.89 L541.9,1300.96 L543.14,1301.02 L544.37,1301.09 L545.6,1301.17 L546.84,1301.24 L548.07,1301.32 L549.3,1301.41 L550.54,1301.49 L551.77,1301.58 L553.01,1301.67 L554.24,1301.76 L555.47,1301.86 L555.55,1301.87 L556.71,1301.96 L557.94,1302.06 L559.17,1302.17 L560.41,1302.27 L561.64,1302.38 L562.87,1302.49 L564.11,1302.61 L565.34,1302.73 L566.58,1302.84 L567.81,1302.97 L569.04,1303.09 L570.28,1303.21 L571.51,1303.34 L572.74,1303.47 L573.98,1303.6 L575.21,1303.73 L576.44,1303.87 L577.68,1304.01 L578.91,1304.14 L580.14,1304.28 L581.38,1304.42 L582.61,1304.57 L583.85,1304.71 L585.08,1304.86 L586.31,1305 L587.55,1305.15 L588.78,1305.3 L590.01,1305.45 L591.25,1305.6 L592.48,1305.75 L593.71,1305.9 L594.1,1305.95 L594.95,1306.06 L596.18,1306.21 L597.42,1306.37 L598.65,1306.52 L599.88,1306.68 L601.12,1306.84 L602.35,1306.99 L603.58,1307.15 L604.82,1307.31 L606.05,1307.46 L607.28,1307.62 L608.52,1307.78 L609.75,1307.94 L610.98,1308.1 L612.22,1308.26 L613.45,1308.41 L614.69,1308.57 L615.92,1308.73 L617.15,1308.89 L617.23,1308.9 L618.39,1309.04 L619.62,1309.2 L620.85,1309.36 L622.09,1309.51 L623.32,1309.67 L624.55,1309.82 L625.79,1309.97 L627.02,1310.13 L628.26,1310.28 L629.49,1310.43 L630.72,1310.58 L631.96,1310.73 L633.19,1310.88 L634.42,1311.03 L635.66,1311.18 L636.89,1311.32 L638.12,1311.47 L639.36,1311.61 L640.59,1311.76 L641.82,1311.9 L643.06,1312.04 L644.29,1312.18 L644.83,1312.24 L645.53,1312.32 L646.76,1312.46 L647.99,1312.59 L649.23,1312.73 L650.46,1312.86 L651.69,1312.99 L652.93,1313.12 L654.16,1313.25 L655.39,1313.38 L655.78,1313.42 L656.63,1313.51 L657.86,1313.63 L659.1,1313.76 L660.33,1313.88 L661.56,1314 L662.8,1314.12 L664.03,1314.24 L665.26,1314.35 L666.5,1314.47 L667.73,1314.58 L668.96,1314.69 L670.2,1314.8 L671.2,1314.89 L671.43,1314.91 L672.66,1315.02 L673.9,1315.12 L675.13,1315.23 L676.37,1315.33 L677.6,1315.43 L678.83,1315.53 L680.07,1315.63 L681.3,1315.72 L682.53,1315.82 L683.77,1315.91 L685,1316 L686.23,1316.09 L687.47,1316.18 L688.7,1316.26 L689.94,1316.35 L690.48,1316.39 L691.17,1316.43 L692.4,1316.52 L693.64,1316.6 L694.87,1316.68 L696.1,1316.75 L697.34,1316.83 L698.57,1316.9 L699.8,1316.98 L700.88,1317.04 L701.04,1317.05 L702.27,1317.12 L703.5,1317.19 L704.74,1317.26 L705.97,1317.32 L707.21,1317.39 L708.36,1317.45 L708.44,1317.45 L709.67,1317.51 L710.91,1317.57 L712.14,1317.63 L713.37,1317.69 L714.61,1317.75 L715.84,1317.8 L717.07,1317.86 L718.31,1317.91 L719.54,1317.96 L720.78,1318.01 L722.01,1318.06 L723.24,1318.11 L724.48,1318.16 L725.71,1318.2 L726.94,1318.25 L728.18,1318.29 L729.41,1318.34 L730.64,1318.38 L731.88,1318.42 L733.11,1318.46 L734.34,1318.5 L735.58,1318.53 L736.81,1318.57 L738.05,1318.61 L739.28,1318.64 L740.51,1318.68 L741.75,1318.71 L742.98,1318.74 L743.98,1318.77" fill="none" stroke="#ff5733" stroke-opacity="0.6" stroke-width="3.5" stroke-linejoin="round"/>
</g>
<line x1="208.6" y1="1250" x2="208.6" y2="1332.4" stroke="#2e2828" stroke-width="2.0" stroke-dasharray="6.5,6.1" stroke-dashoffset="2.7"/>
<rect x="131.5" y="1250" width="693.9" height="82.4" fill="none" stroke="#000" stroke-width="1.6"/>
<line x1="124.5" y1="1276.8" x2="131.5" y2="1276.8" stroke="#000" stroke-width="1.5"/>
<text x="61.63" y="1284.1" font-family='"DejaVu Sans", sans-serif' font-size="19.7">0.025</text>
<line x1="124.5" y1="1319.7" x2="131.5" y2="1319.7" stroke="#000" stroke-width="1.5"/>
<text x="61.24" y="1327" font-family='"DejaVu Sans", sans-serif' font-size="19.7">0.000</text>
<line x1="131.5" y1="1332.4" x2="131.5" y2="1339.4" stroke="#000" stroke-width="1.5"/>
<text x="103.27" y="1363.9" font-family='"Liberation Sans", Arial, sans-serif' font-size="20.3">-1000</text>
<line x1="208.6" y1="1332.4" x2="208.6" y2="1339.4" stroke="#000" stroke-width="1.5"/>
<text x="202.97" y="1363.9" font-family='"Liberation Sans", Arial, sans-serif' font-size="20.3">0</text>
<line x1="285.7" y1="1332.4" x2="285.7" y2="1339.4" stroke="#000" stroke-width="1.5"/>
<text x="262.76" y="1363.9" font-family='"Liberation Sans", Arial, sans-serif' font-size="20.3">1000</text>
<line x1="362.8" y1="1332.4" x2="362.8" y2="1339.4" stroke="#000" stroke-width="1.5"/>
<text x="340.11" y="1363.9" font-family='"Liberation Sans", Arial, sans-serif' font-size="20.3">2000</text>
<line x1="439.9" y1="1332.4" x2="439.9" y2="1339.4" stroke="#000" stroke-width="1.5"/>
<text x="417.32" y="1363.9" font-family='"Liberation Sans", Arial, sans-serif' font-size="20.3">3000</text>
<line x1="517" y1="1332.4" x2="517" y2="1339.4" stroke="#000" stroke-width="1.5"/>
<text x="494.57" y="1363.9" font-family='"Liberation Sans", Arial, sans-serif' font-size="20.3">4000</text>
<line x1="594.1" y1="1332.4" x2="594.1" y2="1339.4" stroke="#000" stroke-width="1.5"/>
<text x="571.52" y="1363.9" font-family='"Liberation Sans", Arial, sans-serif' font-size="20.3">5000</text>
<line x1="671.2" y1="1332.4" x2="671.2" y2="1339.4" stroke="#000" stroke-width="1.5"/>
<text x="648.51" y="1363.9" font-family='"Liberation Sans", Arial, sans-serif' font-size="20.3">6000</text>
<line x1="748.3" y1="1332.4" x2="748.3" y2="1339.4" stroke="#000" stroke-width="1.5"/>
<text x="725.61" y="1363.9" font-family='"Liberation Sans", Arial, sans-serif' font-size="20.3">7000</text>
<line x1="825.4" y1="1332.4" x2="825.4" y2="1339.4" stroke="#000" stroke-width="1.5"/>
<text x="802.77" y="1363.9" font-family='"Liberation Sans", Arial, sans-serif' font-size="20.3">8000</text>
<clipPath id="clipC0"><rect x="131.6" y="1651.3" width="694.6" height="83.1"/></clipPath>
<g clip-path="url(#clipC0)">
<path d="M198.2,1723.9 L199.05,1713.11 L199.9,1711.48 L201.91,1706.9 L203.92,1706.53 L205.77,1691.79 L205.92,1699.01 L207.93,1701.02 L209.55,1698.41 L209.94,1697.85 L211.94,1695.54 L213.41,1680.78 L213.95,1678.66 L215.96,1673.41 L217.19,1695.99 L217.96,1686.9 L219.12,1689.27 L219.97,1676.88 L221.13,1673.92 L221.98,1664.95 L222.82,1663.12 L223.98,1665.36 L224.68,1671.85 L225.99,1699.22 L226.53,1711.85 L228,1718.12 L228,1718.12 L226.53,1721.75 L225.99,1712.79 L224.68,1689.63 L223.98,1682.24 L222.82,1670.03 L221.98,1670.94 L221.13,1680.39 L219.97,1685.52 L219.12,1699.63 L217.96,1701.27 L217.19,1710.77 L215.96,1717.74 L213.95,1711.86 L213.41,1710.76 L211.94,1722.09 L209.94,1717.14 L209.55,1723.51 L207.93,1719.44 L205.92,1721.79 L205.77,1722.47 L203.92,1724.42 L201.91,1719.98 L199.9,1719.87 L199.05,1717.45 L198.2,1723.9Z" fill="#00a000" fill-opacity="0.5" stroke="#00a000" stroke-opacity="0.5" stroke-width="1" stroke-linejoin="round"/>
<path d="M149.74,1723.9 L151.74,1723.9 L153.75,1723.9 L155.76,1723.9 L157.76,1723.9 L159.77,1723.9 L161.78,1723.9 L163.78,1723.9 L165.79,1723.9 L167.8,1723.9 L169.8,1723.9 L171.81,1723.9 L173.82,1723.9 L175.82,1723.9 L177.83,1723.9 L179.84,1723.9 L181.84,1723.9 L183.85,1723.9 L185.86,1723.9 L187.86,1723.9 L189.87,1723.9 L191.88,1723.9 L193.88,1723.9 L195.89,1723.9 L197.9,1723.9 L198.2,1723.9 L199.05,1714.13 L199.9,1716.19 L201.91,1712.45 L203.92,1710.29 L205.77,1711.3 L205.92,1711.99 L207.93,1707.22 L209.55,1708.3 L209.94,1709.05 L211.94,1703.64 L213.41,1704.15 L213.95,1701.14 L215.96,1703.92 L217.19,1701.3 L217.96,1696.68 L219.12,1698.92 L219.97,1681.67 L221.13,1679.43 L221.98,1665.98 L222.82,1669.48 L223.98,1670.27 L224.68,1677.3 L225.99,1705.44 L226.53,1716.32 L228,1718.12 L228.84,1720.23 L230,1721.95 L231.93,1722.35 L232.01,1722.94 L234.01,1723.26 L236.02,1723.77 L236.48,1723.9" fill="none" stroke="#00a000" stroke-width="3" stroke-linejoin="round"/>
<path d="M149.74,1723.9 L151.74,1723.9 L153.75,1723.9 L155.76,1723.9 L157.76,1723.9 L159.77,1723.9 L161.78,1723.9 L163.78,1723.9 L165.79,1723.9 L167.8,1723.9 L169.8,1723.9 L171.81,1723.9 L173.82,1723.9 L175.82,1723.9 L177.83,1723.9 L179.84,1723.9 L181.84,1723.9 L183.85,1723.9 L185.86,1723.9 L187.86,1723.9 L189.87,1723.9 L191.88,1723.9 L193.88,1723.9 L195.89,1723.9 L197.9,1723.9 L198.2,1723.9 L199.05,1723.9 L199.9,1723.9 L201.91,1723.9 L203.92,1723.88 L205.77,1723.81 L205.92,1723.79 L207.93,1723.32 L209.55,1722.03 L209.94,1721.5 L211.94,1716.36 L213.41,1709.24 L213.95,1705.85 L215.96,1690.9 L217.19,1682.08 L217.96,1677.87 L219.12,1674.58 L219.97,1674.9 L221.13,1678.98 L221.98,1684.1 L222.82,1690.3 L223.98,1699.23 L224.68,1704.28 L225.99,1712.23 L226.53,1714.8 L228,1719.69 L228.84,1721.38 L230,1722.74 L231.93,1723.64 L232.01,1723.66 L234.01,1723.86 L236.02,1723.9 L236.48,1723.9" fill="none" stroke="#0000ff" stroke-opacity="0.6" stroke-width="3.5" stroke-linejoin="round"/>
</g>
<line x1="208.78" y1="1651.3" x2="208.78" y2="1734.4" stroke="#2e2828" stroke-width="2.0" stroke-dasharray="6.5,6.1" stroke-dashoffset="2.7"/>
<rect x="131.6" y="1651.3" width="694.6" height="83.1" fill="none" stroke="#000" stroke-width="1.6"/>
<line x1="124.6" y1="1658.1" x2="131.6" y2="1658.1" stroke="#000" stroke-width="1.5"/>
<text x="74.14" y="1665.4" font-family='"DejaVu Sans", sans-serif' font-size="19.7">0.05</text>
<line x1="124.6" y1="1723.9" x2="131.6" y2="1723.9" stroke="#000" stroke-width="1.5"/>
<text x="73.75" y="1731.2" font-family='"DejaVu Sans", sans-serif' font-size="19.7">0.00</text>
<clipPath id="clipC1"><rect x="131.6" y="1738.9" width="694.6" height="82.4"/></clipPath>
<g clip-path="url(#clipC1)">
<path d="M190.56,1806.43 L191.03,1805.13 L191.88,1803.79 L193.88,1797.9 L194.35,1789.12 L195.89,1801.13 L197.2,1806.28 L197.9,1806.49 L197.9,1806.49 L197.2,1807.09 L195.89,1803.69 L194.35,1795.78 L193.88,1802.67 L191.88,1804.91 L191.03,1805.96 L190.56,1806.43Z" fill="#00a000" fill-opacity="0.5" stroke="#00a000" stroke-opacity="0.5" stroke-width="1" stroke-linejoin="round"/>
<path d="M213.95,1806.52 L215.26,1804.8 L215.96,1801.8 L216.5,1799.06 L217.96,1798.91 L219.97,1800.42 L221.98,1792.95 L223.98,1792.05 L225.99,1789.96 L228,1790.87 L230,1794.03 L232.01,1793.14 L234.01,1795.36 L236.02,1794.08 L236.1,1792.16 L237.95,1771.78 L238.03,1775.81 L240.03,1767.43 L242.04,1783.21 L244.05,1771.16 L246.05,1775.88 L247.37,1787.33 L248.06,1758.17 L250.07,1755.8 L252.07,1766.39 L254.08,1761.02 L256.09,1765.14 L258.09,1782.91 L258.94,1758.8 L260.1,1781.45 L262.03,1788.84 L262.11,1780.2 L262.8,1783.39 L264.11,1804 L264.11,1804 L262.8,1806.9 L262.11,1798.5 L262.03,1799.39 L260.1,1800.27 L258.94,1807.29 L258.09,1796.98 L256.09,1803.08 L254.08,1800.91 L252.07,1811.69 L250.07,1799.71 L248.06,1792.88 L247.37,1800.86 L246.05,1804.03 L244.05,1798 L242.04,1806.22 L240.03,1806.78 L238.03,1795.05 L237.95,1807.97 L236.1,1803.09 L236.02,1802.76 L234.01,1802.67 L232.01,1803.63 L230,1803.23 L228,1802.88 L225.99,1805.86 L223.98,1801.15 L221.98,1803.88 L219.97,1803.49 L217.96,1804.89 L216.5,1804.84 L215.96,1806.53 L215.26,1806.68 L213.95,1806.52Z" fill="#00a000" fill-opacity="0.5" stroke="#00a000" stroke-opacity="0.5" stroke-width="1" stroke-linejoin="round"/>
<path d="M268.13,1805.31 L268.98,1804.85 L270.13,1788.58 L270.37,1786.6 L272.06,1805.16 L272.14,1806.15 L272.14,1806.15 L272.06,1806.16 L270.37,1794.78 L270.13,1804.84 L268.98,1806.18 L268.13,1805.31Z" fill="#00a000" fill-opacity="0.5" stroke="#00a000" stroke-opacity="0.5" stroke-width="1" stroke-linejoin="round"/>
<path d="M149.74,1806.9 L151.74,1806.89 L153.75,1806.87 L155.76,1806.82 L157.76,1806.87 L159.77,1806.78 L161.78,1806.74 L163.78,1806.79 L165.79,1806.79 L167.8,1806.71 L169.8,1806.64 L171.81,1806.55 L173.82,1806.61 L175.82,1806.53 L177.83,1806.69 L179.84,1806.71 L181.84,1806.78 L183.85,1806.72 L185.86,1806.62 L187.86,1806.53 L189.87,1806.7 L190.56,1806.43 L191.03,1805.41 L191.88,1804.04 L193.88,1800.48 L194.35,1789.92 L195.89,1801.71 L197.2,1806.48 L197.9,1806.49 L199.9,1805.89 L201.91,1806.41 L203.92,1806.03 L205.92,1805.98 L207.93,1806.76 L209.94,1806 L211.94,1806.33 L213.95,1806.52 L215.26,1806.4 L215.96,1802.45 L216.5,1799.96 L217.96,1799.85 L219.97,1802.32 L221.98,1798.01 L223.98,1797.53 L225.99,1796.82 L228,1798.61 L230,1796.69 L232.01,1796.26 L234.01,1799.25 L236.02,1798.87 L236.1,1799.51 L237.95,1786.39 L238.03,1784.46 L240.03,1799.55 L242.04,1789.76 L244.05,1783.05 L246.05,1801.28 L247.37,1795.95 L248.06,1772.24 L250.07,1792.52 L252.07,1787.3 L254.08,1779.8 L256.09,1786.47 L258.09,1789.39 L258.94,1786.17 L260.1,1788.76 L262.03,1795.15 L262.11,1791.7 L262.8,1790.9 L264.11,1804 L264.35,1804.97 L266.12,1805.35 L268.13,1805.31 L268.98,1805.42 L270.13,1797.55 L270.37,1792.81 L272.06,1805.54 L272.14,1806.15 L274.15,1805.35 L276.15,1805.42 L278.16,1805.51 L280.17,1805.91 L282.17,1806.62 L282.87,1805.04 L284.18,1793.98 L285.42,1801.06 L286.19,1763.67 L288.19,1759.36 L288.35,1741.82 L290.2,1770.28 L290.28,1755.43 L292.13,1806.9 L292.21,1806.9 L294.21,1806.9 L294.99,1806.9" fill="none" stroke="#00a000" stroke-width="3" stroke-linejoin="round"/>
<path d="M149.74,1806.9 L151.74,1806.9 L153.75,1806.9 L155.76,1806.9 L157.76,1806.9 L159.77,1806.9 L161.78,1806.9 L163.78,1806.9 L165.79,1806.9 L167.8,1806.9 L169.8,1806.9 L171.81,1806.9 L173.82,1806.9 L175.82,1806.89 L177.83,1806.89 L179.84,1806.89 L181.84,1806.88 L183.85,1806.88 L185.86,1806.87 L187.86,1806.86 L189.87,1806.84 L190.56,1806.83 L191.03,1806.83 L191.88,1806.82 L193.88,1806.79 L194.35,1806.78 L195.89,1806.75 L197.2,1806.73 L197.9,1806.71 L199.9,1806.65 L201.91,1806.58 L203.92,1806.49 L205.92,1806.38 L207.93,1806.24 L209.94,1806.07 L211.94,1805.87 L213.95,1805.64 L215.26,1805.46 L215.96,1805.36 L216.5,1805.28 L217.96,1805.04 L219.97,1804.67 L221.98,1804.25 L223.98,1803.77 L225.99,1803.24 L228,1802.65 L230,1802.01 L232.01,1801.32 L234.01,1800.59 L236.02,1799.82 L236.1,1799.79 L237.95,1799.05 L238.03,1799.02 L240.03,1798.2 L242.04,1797.38 L244.05,1796.57 L246.05,1795.78 L247.37,1795.28 L248.06,1795.03 L250.07,1794.33 L252.07,1793.71 L254.08,1793.16 L256.09,1792.72 L258.09,1792.38 L258.94,1792.27 L260.1,1792.15 L262.03,1792.05 L262.11,1792.05 L262.8,1792.04 L264.11,1792.07 L264.35,1792.08 L266.12,1792.21 L268.13,1792.47 L268.98,1792.62 L270.13,1792.84 L270.37,1792.89 L272.06,1793.3 L272.14,1793.32 L274.15,1793.89 L276.15,1794.54 L278.16,1795.26 L280.17,1796.02 L282.17,1796.82 L282.87,1797.1 L284.18,1797.63 L285.42,1798.14 L286.19,1798.46 L288.19,1799.27 L288.35,1799.33 L290.2,1800.06 L290.28,1800.09 L292.13,1800.79 L292.21,1800.82 L294.21,1801.54 L294.99,1801.81" fill="none" stroke="#0000ff" stroke-opacity="0.6" stroke-width="3.5" stroke-linejoin="round"/>
</g>
<line x1="208.78" y1="1738.9" x2="208.78" y2="1821.3" stroke="#2e2828" stroke-width="2.0" stroke-dasharray="6.5,6.1" stroke-dashoffset="2.7"/>
<rect x="131.6" y="1738.9" width="694.6" height="82.4" fill="none" stroke="#000" stroke-width="1.6"/>
<line x1="124.6" y1="1745.5" x2="131.6" y2="1745.5" stroke="#000" stroke-width="1.5"/>
<text x="74.14" y="1752.8" font-family='"DejaVu Sans", sans-serif' font-size="19.7">0.05</text>
<line x1="124.6" y1="1806.9" x2="131.6" y2="1806.9" stroke="#000" stroke-width="1.5"/>
<text x="73.75" y="1814.2" font-family='"DejaVu Sans", sans-serif' font-size="19.7">0.00</text>
<clipPath id="clipC2"><rect x="131.6" y="1825.5" width="694.6" height="82.4"/></clipPath>
<g clip-path="url(#clipC2)">
<path d="M149.74,1896.23 L150.12,1895.78 L151.74,1895.13 L153.75,1894.24 L155.76,1894.53 L157.76,1894.33 L159.77,1894.36 L161.78,1894.3 L163.78,1894.15 L165.56,1872.8 L165.79,1872.36 L167.1,1873.44 L167.8,1876.55 L169.8,1875.65 L171.81,1865.54 L173.82,1865.06 L174.43,1877.96 L175.82,1858.82 L177.83,1856.53 L179.84,1878.6 L181.84,1869.88 L183.85,1863.84 L185.62,1875.52 L185.86,1878.33 L187.86,1873.34 L189.87,1871.45 L191.88,1880.17 L193.57,1872.44 L193.88,1876.29 L195.89,1847.17 L196.82,1841.69 L197.9,1859.82 L199.52,1868.22 L199.9,1869.84 L201.91,1869.56 L203.92,1878.64 L204.15,1878.42 L205.92,1887.42 L207.93,1891.09 L208.85,1888.7 L209.94,1893.08 L211.94,1889.74 L213.95,1891.03 L215.96,1886.37 L216.5,1884.66 L217.96,1880.58 L219.97,1892.81 L221.98,1883.96 L223.98,1878.74 L224.21,1876.88 L225.99,1876.88 L228,1893.69 L230,1890.4 L232.01,1889.89 L234.01,1893.82 L234.4,1895.7 L236.02,1899.57 L236.02,1899.57 L234.4,1899.81 L234.01,1899.43 L232.01,1900.11 L230,1900 L228,1899.01 L225.99,1897.98 L224.21,1898.34 L223.98,1900 L221.98,1898.16 L219.97,1899.53 L217.96,1900 L216.5,1898.96 L215.96,1894.44 L213.95,1898.13 L211.94,1899.22 L209.94,1895.86 L208.85,1892.1 L207.93,1899.87 L205.92,1900.78 L204.15,1896.47 L203.92,1892 L201.91,1895.86 L199.9,1893.45 L199.52,1901.43 L197.9,1902.93 L196.82,1896.46 L195.89,1903.46 L193.88,1902.7 L193.57,1896.29 L191.88,1894.17 L189.87,1889.62 L187.86,1905 L185.86,1904.93 L185.62,1899.5 L183.85,1906.47 L181.84,1909.17 L179.84,1904.08 L177.83,1894.14 L175.82,1904.06 L174.43,1908.59 L173.82,1890.52 L171.81,1898.29 L169.8,1894.84 L167.8,1895.19 L167.1,1892.58 L165.79,1898.25 L165.56,1897.13 L163.78,1896.78 L161.78,1899.11 L159.77,1897.95 L157.76,1897.96 L155.76,1899.61 L153.75,1897.72 L151.74,1899.46 L150.12,1898.62 L149.74,1896.23Z" fill="#00a000" fill-opacity="0.5" stroke="#00a000" stroke-opacity="0.5" stroke-width="1" stroke-linejoin="round"/>
<path d="M280.32,1900 L280.55,1889.85 L282.1,1846.96 L282.17,1856.23 L284.03,1895.01 L284.18,1897.85 L284.18,1897.85 L284.03,1896.56 L282.17,1893.03 L282.1,1875.33 L280.55,1899.06 L280.32,1900Z" fill="#00a000" fill-opacity="0.5" stroke="#00a000" stroke-opacity="0.5" stroke-width="1" stroke-linejoin="round"/>
<path d="M296.22,1877.5 L296.91,1853.41 L298.23,1848.39 L298.38,1845.69 L300.23,1844.33 L300.7,1847.18 L302.24,1829.19 L303.01,1845.69 L304.25,1849.61 L305.87,1847.05 L306.25,1871.84 L306.25,1871.84 L305.87,1862.09 L304.25,1858.36 L303.01,1864.97 L302.24,1854.73 L300.7,1862.29 L300.23,1851.78 L298.38,1851.35 L298.23,1863.34 L296.91,1873.4 L296.22,1877.5Z" fill="#00a000" fill-opacity="0.5" stroke="#00a000" stroke-opacity="0.5" stroke-width="1" stroke-linejoin="round"/>
<path d="M149.74,1896.23 L150.12,1896.53 L151.74,1898.8 L153.75,1896.01 L155.76,1898.72 L157.76,1895.5 L159.77,1895.82 L161.78,1895.58 L163.78,1895.59 L165.56,1896.15 L165.79,1895.76 L167.1,1887.65 L167.8,1879.87 L169.8,1887.95 L171.81,1885.7 L173.82,1887.41 L174.43,1886.21 L175.82,1885.49 L177.83,1883.31 L179.84,1886.32 L181.84,1887.03 L183.85,1888.56 L185.62,1886.03 L185.86,1891.93 L187.86,1886.96 L189.87,1883.08 L191.88,1891.18 L193.57,1889.27 L193.88,1877.85 L195.89,1879.4 L196.82,1881.14 L197.9,1876.05 L199.52,1879.03 L199.9,1878.1 L201.91,1891.36 L203.92,1884.07 L204.15,1886.38 L205.92,1890.49 L207.93,1896.16 L208.85,1889.33 L209.94,1894.23 L211.94,1892.31 L213.95,1893.5 L215.96,1891.21 L216.5,1892.64 L217.96,1896.61 L219.97,1895.55 L221.98,1894.13 L223.98,1897.53 L224.21,1896.4 L225.99,1896.15 L228,1898.42 L230,1898.4 L232.01,1899.02 L234.01,1898.41 L234.4,1898.87 L236.02,1899.57 L236.56,1900 L238.03,1900 L240.03,1900 L242.04,1900 L244.05,1900 L246.05,1900 L248.06,1900 L250.07,1900 L252,1900 L252.07,1899.48 L253.54,1891.01 L254.08,1896 L255.08,1900 L256.09,1900 L258.09,1900 L260.1,1900 L262.11,1900 L264.11,1900 L266.12,1900 L268.13,1900 L270.13,1900 L272.14,1900 L274.15,1900 L276.15,1900 L278.16,1900 L280.17,1900 L280.32,1900 L280.55,1897.43 L282.1,1857.41 L282.17,1867.45 L284.03,1895.95 L284.18,1897.85 L286.19,1896.62 L288.19,1896.98 L290.2,1898.5 L292.21,1897.49 L294.21,1897.65 L295.22,1898.07 L296.22,1877.5 L296.91,1872.96 L298.23,1859.07 L298.38,1847.63 L300.23,1845.03 L300.7,1851.6 L302.24,1829.77 L303.01,1857.7 L304.25,1852.01 L305.87,1855.74 L306.25,1871.84 L307.18,1900 L308.26,1900 L310.27,1900 L312.27,1900 L313.43,1900 L313.59,1899.25 L314.28,1866.14 L315.28,1829.28 L316.29,1848.6 L316.98,1877.73 L318.29,1869.49 L318.6,1876.44 L319.91,1900 L320.3,1900 L322.31,1900 L324.31,1900 L325.01,1900" fill="none" stroke="#00a000" stroke-width="3" stroke-linejoin="round"/>
<path d="M149.74,1900 L150.12,1900 L151.74,1900 L153.75,1900 L155.76,1900 L157.76,1900 L159.77,1900 L161.78,1899.99 L163.78,1899.99 L165.56,1899.99 L165.79,1899.99 L167.1,1899.99 L167.8,1899.99 L169.8,1899.98 L171.81,1899.98 L173.82,1899.97 L174.43,1899.97 L175.82,1899.97 L177.83,1899.96 L179.84,1899.95 L181.84,1899.93 L183.85,1899.92 L185.62,1899.9 L185.86,1899.9 L187.86,1899.87 L189.87,1899.84 L191.88,1899.81 L193.57,1899.77 L193.88,1899.77 L195.89,1899.72 L196.82,1899.69 L197.9,1899.66 L199.52,1899.61 L199.9,1899.59 L201.91,1899.51 L203.92,1899.42 L204.15,1899.4 L205.92,1899.31 L207.93,1899.18 L208.85,1899.11 L209.94,1899.03 L211.94,1898.86 L213.95,1898.67 L215.96,1898.46 L216.5,1898.39 L217.96,1898.21 L219.97,1897.94 L221.98,1897.63 L223.98,1897.29 L224.21,1897.25 L225.99,1896.92 L228,1896.5 L230,1896.05 L232.01,1895.56 L234.01,1895.03 L234.4,1894.92 L236.02,1894.46 L236.56,1894.3 L238.03,1893.85 L240.03,1893.2 L242.04,1892.51 L244.05,1891.79 L246.05,1891.04 L248.06,1890.25 L250.07,1889.45 L252,1888.66 L252.07,1888.63 L253.54,1888.02 L254.08,1887.79 L255.08,1887.37 L256.09,1886.95 L258.09,1886.11 L260.1,1885.28 L262.11,1884.46 L264.11,1883.67 L266.12,1882.91 L268.13,1882.19 L270.13,1881.52 L272.14,1880.9 L274.15,1880.35 L276.15,1879.86 L278.16,1879.45 L280.17,1879.12 L280.32,1879.1 L280.55,1879.07 L282.1,1878.89 L282.17,1878.88 L284.03,1878.73 L284.18,1878.72 L286.19,1878.65 L288.19,1878.67 L290.2,1878.78 L292.21,1878.98 L294.21,1879.27 L295.22,1879.44 L296.22,1879.63 L296.91,1879.78 L298.23,1880.08 L298.38,1880.12 L300.23,1880.6 L300.7,1880.73 L302.24,1881.18 L303.01,1881.42 L304.25,1881.82 L305.87,1882.38 L306.25,1882.52 L307.18,1882.86 L308.26,1883.26 L310.27,1884.03 L312.27,1884.84 L313.43,1885.31 L313.59,1885.38 L314.28,1885.66 L315.28,1886.08 L316.29,1886.5 L316.98,1886.79 L318.29,1887.34 L318.6,1887.47 L319.91,1888.02 L320.3,1888.18 L322.31,1889.01 L324.31,1889.82 L325.01,1890.1" fill="none" stroke="#0000ff" stroke-opacity="0.6" stroke-width="3.5" stroke-linejoin="round"/>
</g>
<line x1="208.78" y1="1825.5" x2="208.78" y2="1907.9" stroke="#2e2828" stroke-width="2.0" stroke-dasharray="6.5,6.1" stroke-dashoffset="2.7"/>
<rect x="131.6" y="1825.5" width="694.6" height="82.4" fill="none" stroke="#000" stroke-width="1.6"/>
<line x1="124.6" y1="1832" x2="131.6" y2="1832" stroke="#000" stroke-width="1.5"/>
<text x="74.14" y="1839.3" font-family='"DejaVu Sans", sans-serif' font-size="19.7">0.05</text>
<line x1="124.6" y1="1900" x2="131.6" y2="1900" stroke="#000" stroke-width="1.5"/>
<text x="73.75" y="1907.3" font-family='"DejaVu Sans", sans-serif' font-size="19.7">0.00</text>
<clipPath id="clipC3"><rect x="131.6" y="1912.4" width="694.6" height="82"/></clipPath>
<g clip-path="url(#clipC3)">
<path d="M167.8,1977.25 L168.03,1965.74 L169.42,1950.69 L169.8,1951.6 L171.81,1943.61 L173.82,1943.61 L175.82,1951.5 L177.83,1943.41 L177.91,1945.36 L179.84,1968.21 L181.84,1951.22 L183.85,1947.74 L185.86,1954.03 L187.86,1960.77 L189.87,1964.45 L191.03,1969.73 L191.88,1967.71 L193.34,1968.65 L193.88,1970.49 L195.89,1969.97 L197.9,1970.37 L199.9,1969.95 L201.91,1967.74 L203.92,1966.5 L205.92,1968.02 L206.39,1967.08 L207.93,1963.96 L208.85,1965.38 L209.94,1964.02 L211.94,1968.35 L213.95,1964.14 L215.96,1963.62 L216.5,1961.55 L217.96,1954.72 L219.12,1955.79 L219.97,1955.94 L221.98,1958.07 L223.98,1956.84 L225.99,1956.81 L226.76,1962.16 L228,1964.65 L230,1970.4 L231.93,1972.42 L232.01,1975.17 L234.01,1975.56 L236.02,1971.48 L238.03,1974.77 L240.03,1974.48 L242.04,1974.05 L244.05,1972.29 L246.05,1971.11 L248.06,1972.99 L250.07,1971.54 L252.07,1972.02 L254.08,1973.65 L256.09,1970.54 L258.09,1971.1 L260.1,1972.89 L262.11,1972.82 L264.11,1973.74 L266.12,1976.17 L268.13,1973.25 L270.13,1971.61 L272.14,1974.41 L274.15,1974.23 L276.15,1971.73 L278.16,1971.95 L280.17,1975.01 L282.17,1975.13 L284.18,1972.61 L286.19,1975.42 L288.19,1973.74 L290.2,1975.34 L292.21,1973.92 L294.21,1974.47 L295.6,1973.85 L296.22,1977.21 L296.22,1977.21 L295.6,1977.87 L294.21,1978.56 L292.21,1977.35 L290.2,1977.47 L288.19,1977.92 L286.19,1978.46 L284.18,1977.81 L282.17,1978.48 L280.17,1978.6 L278.16,1978.19 L276.15,1978.48 L274.15,1977.98 L272.14,1977.58 L270.13,1978.15 L268.13,1977.89 L266.12,1978.21 L264.11,1977.89 L262.11,1978.09 L260.1,1978.16 L258.09,1977.98 L256.09,1977.08 L254.08,1978.38 L252.07,1978.45 L250.07,1978.6 L248.06,1977.87 L246.05,1977.2 L244.05,1976.58 L242.04,1978.02 L240.03,1978.34 L238.03,1978.58 L236.02,1977.01 L234.01,1978.3 L232.01,1976.89 L231.93,1977.52 L230,1977.97 L228,1977.13 L226.76,1972.25 L225.99,1971.96 L223.98,1971.49 L221.98,1979.11 L219.97,1977.97 L219.12,1977.7 L217.96,1976.69 L216.5,1977.16 L215.96,1976.75 L213.95,1978.74 L211.94,1978.74 L209.94,1979.73 L208.85,1975.45 L207.93,1973.02 L206.39,1977.23 L205.92,1978.18 L203.92,1976.39 L201.91,1978.13 L199.9,1978.34 L197.9,1978.68 L195.89,1977.25 L193.88,1977.74 L193.34,1978.21 L191.88,1974.6 L191.03,1973.6 L189.87,1979.47 L187.86,1981.36 L185.86,1967.48 L183.85,1980.72 L181.84,1984.01 L179.84,1988.99 L177.91,1988.85 L177.83,1982.65 L175.82,1971.05 L173.82,1988.37 L171.81,1971.24 L169.8,1981.34 L169.42,1974.86 L168.03,1980.83 L167.8,1977.25Z" fill="#00a000" fill-opacity="0.5" stroke="#00a000" stroke-opacity="0.5" stroke-width="1" stroke-linejoin="round"/>
<path d="M356.19,1977.45 L356.42,1972.89 L357.58,1950.12 L358.43,1966.86 L358.97,1977.73 L358.97,1977.73 L358.43,1974.72 L357.58,1970.31 L356.42,1976.26 L356.19,1977.45Z" fill="#00a000" fill-opacity="0.5" stroke="#00a000" stroke-opacity="0.5" stroke-width="1" stroke-linejoin="round"/>
<path d="M388.99,1976.42 L390.53,1928.8 L392.08,1976.52 L392.08,1976.52 L390.53,1957.31 L388.99,1976.42Z" fill="#00a000" fill-opacity="0.5" stroke="#00a000" stroke-opacity="0.5" stroke-width="1" stroke-linejoin="round"/>
<path d="M424.1,1975.83 L424.64,1961.99 L425.8,1931.95 L426.65,1953.95 L427.5,1975.99 L427.5,1975.99 L426.65,1966.42 L425.8,1956.9 L424.64,1969.92 L424.1,1975.83Z" fill="#00a000" fill-opacity="0.5" stroke="#00a000" stroke-opacity="0.5" stroke-width="1" stroke-linejoin="round"/>
<path d="M464.85,1970.89 L466.55,1936.9 L466.78,1941.54 L468.25,1970.97 L468.25,1970.97 L466.78,1952.83 L466.55,1949.96 L464.85,1970.89Z" fill="#00a000" fill-opacity="0.5" stroke="#00a000" stroke-opacity="0.5" stroke-width="1" stroke-linejoin="round"/>
<path d="M149.74,1976.6 L151.74,1977.54 L153.21,1976.93 L153.75,1976.2 L154.75,1974.58 L155.76,1975.61 L156.3,1977.62 L157.76,1976.22 L159.77,1977.52 L161.78,1976.94 L163.78,1976.26 L165.79,1976.4 L167.8,1977.25 L168.03,1975.71 L169.42,1962.52 L169.8,1969.1 L171.81,1964.03 L173.82,1968.36 L175.82,1961.87 L177.83,1970.85 L177.91,1961.53 L179.84,1973.04 L181.84,1958.38 L183.85,1962.6 L185.86,1957.05 L187.86,1967.62 L189.87,1974.7 L191.03,1970.99 L191.88,1968.3 L193.34,1969.38 L193.88,1972.04 L195.89,1970.63 L197.9,1974.81 L199.9,1974.15 L201.91,1973.77 L203.92,1970.9 L205.92,1974.22 L206.39,1973.69 L207.93,1964.91 L208.85,1971.17 L209.94,1968.7 L211.94,1973.96 L213.95,1971.7 L215.96,1970.5 L216.5,1970.18 L217.96,1973.71 L219.12,1975.76 L219.97,1963.92 L221.98,1959.03 L223.98,1969.27 L225.99,1965.1 L226.76,1966.13 L228,1976.16 L230,1977.2 L231.93,1976.28 L232.01,1975.82 L234.01,1977.49 L236.02,1976.5 L238.03,1976.88 L240.03,1977.03 L242.04,1977.3 L244.05,1975.25 L246.05,1976.22 L248.06,1976.42 L250.07,1976.63 L252.07,1975.91 L254.08,1976.65 L256.09,1976.1 L258.09,1976.88 L260.1,1975.95 L262.11,1976.5 L264.11,1975.78 L266.12,1977.55 L268.13,1976.92 L270.13,1977.29 L272.14,1974.96 L274.15,1976.78 L276.15,1976.33 L278.16,1977.71 L280.17,1977.07 L282.17,1977.71 L284.18,1976.39 L286.19,1977.1 L288.19,1975.03 L290.2,1977.04 L292.21,1975.47 L294.21,1976.43 L295.6,1975.88 L296.22,1977.21 L298.23,1977.22 L300.23,1977.91 L301.39,1978.36 L302.24,1978.19 L304.25,1978.44 L306.25,1978.28 L308.26,1978.29 L310.27,1978.26 L312.27,1978.41 L314.28,1978.2 L316.29,1978.38 L318.29,1978.35 L320.3,1978.39 L322.31,1978.33 L324.31,1978.24 L326.32,1978.03 L328.33,1978.53 L330.33,1978.19 L332.34,1978.2 L334.35,1978.14 L334.96,1978.27 L336.35,1969.91 L336.51,1968.84 L338.05,1978.29 L338.36,1978.28 L340.37,1978.31 L342.37,1978.26 L344.38,1978.13 L346.39,1978.4 L348.39,1978.2 L350.4,1978.53 L352.41,1978.27 L354.41,1978.37 L356.03,1978.2 L356.19,1977.45 L356.42,1976.26 L357.58,1970.31 L358.43,1974.72 L358.97,1977.73 L359.12,1978.3 L360.43,1978.46 L362.44,1978.24 L364.45,1978.4 L366.45,1978.34 L368.46,1978.39 L370.47,1978.34 L372.47,1978.33 L374.48,1978.31 L376.49,1978.47 L378.49,1978.23 L380.5,1978.46 L382.5,1978.38 L384.51,1978.54 L386.52,1978.35 L388.52,1978.3 L388.83,1978.28 L388.99,1976.42 L390.53,1957.31 L392.08,1976.52 L392.23,1978.41 L392.54,1978.4 L393.62,1978.37 L394.54,1972.77 L394.78,1971.29 L395.93,1978.34 L396.55,1978.37 L398.48,1978.4 L398.56,1977.91 L400.18,1966.49 L400.56,1969.2 L401.88,1978.28 L402.57,1978.39 L404.58,1978.33 L406.58,1978.5 L408.59,1978.28 L409.44,1978.5 L410.6,1969.5 L410.98,1966.55 L412.53,1978.45 L412.6,1978.43 L414.61,1978.45 L416.62,1978.41 L418.62,1978.4 L420.63,1978.35 L422.64,1978.34 L423.87,1978.31 L424.1,1975.83 L424.64,1969.92 L425.8,1956.9 L426.65,1966.42 L427.5,1975.99 L427.73,1978.38 L428.66,1978.44 L430.66,1978.48 L432.67,1978.47 L434.68,1978.44 L436.68,1978.49 L438.69,1978.43 L438.77,1978.46 L440.31,1972.52 L440.7,1973.97 L441.85,1978.43 L442.7,1978.36 L444.71,1978.43 L446.72,1978.51 L448.72,1978.46 L450.34,1978.37 L450.73,1976.29 L451.89,1970.19 L452.74,1974.69 L453.43,1978.49 L454.74,1978.48 L456.75,1978.54 L458.76,1978.55 L460.76,1978.49 L462.77,1978.47 L464.24,1978.46 L464.78,1971.86 L464.85,1970.89 L466.55,1949.96 L466.78,1952.83 L468.25,1970.97 L468.79,1977.58 L468.87,1978.48 L470.8,1978.46 L472.8,1978.53 L474.81,1978.45 L476.82,1978.57 L478.82,1978.45 L480.83,1978.53 L482.84,1978.5 L484.84,1978.54 L486.62,1978.55 L486.85,1977.27 L488.16,1970.19 L488.86,1973.98 L489.7,1978.49 L490.86,1978.53 L492.87,1978.52 L493.95,1978.54 L494.88,1970.3 L496.88,1952.44 L497.42,1947.67 L498.89,1960.66 L498.97,1961.4 L500.9,1958.72 L501.28,1954.8 L502.9,1971.41 L503.6,1978.55 L504.91,1978.51 L506.92,1978.5 L508.92,1978.55 L510.93,1978.53 L512.94,1978.54 L514.94,1978.53 L515.87,1978.53 L516.95,1938.45 L517.57,1915.59 L518.96,1967.14 L519.26,1978.54 L520.96,1978.56 L522.35,1978.56 L522.97,1955.64 L524.05,1915.57 L524.98,1949.94 L525.75,1978.54 L526.98,1978.56 L528.99,1978.56 L531,1978.57 L533,1978.56 L535.01,1978.58 L537.01,1978.58 L539.02,1978.57 L541.03,1978.59 L543.03,1978.58 L545.04,1978.59 L547.05,1978.59 L549.05,1978.59 L551.06,1978.6 L553.07,1978.6 L554.15,1978.6" fill="none" stroke="#00a000" stroke-width="3" stroke-linejoin="round"/>
<path d="M149.74,1978.52 L151.74,1978.51 L153.21,1978.51 L153.75,1978.5 L154.75,1978.5 L155.76,1978.5 L156.3,1978.5 L157.76,1978.49 L159.77,1978.48 L161.78,1978.48 L163.78,1978.47 L165.79,1978.46 L167.8,1978.45 L168.03,1978.45 L169.42,1978.45 L169.8,1978.44 L171.81,1978.43 L173.82,1978.42 L175.82,1978.41 L177.83,1978.4 L177.91,1978.4 L179.84,1978.39 L181.84,1978.38 L183.85,1978.37 L185.86,1978.35 L187.86,1978.34 L189.87,1978.32 L191.03,1978.31 L191.88,1978.31 L193.34,1978.3 L193.88,1978.29 L195.89,1978.27 L197.9,1978.26 L199.9,1978.24 L201.91,1978.22 L203.92,1978.2 L205.92,1978.18 L206.39,1978.17 L207.93,1978.15 L208.85,1978.14 L209.94,1978.13 L211.94,1978.11 L213.95,1978.08 L215.96,1978.06 L216.5,1978.05 L217.96,1978.03 L219.12,1978.01 L219.97,1978 L221.98,1977.97 L223.98,1977.94 L225.99,1977.91 L226.76,1977.89 L228,1977.87 L230,1977.84 L231.93,1977.8 L232.01,1977.8 L234.01,1977.77 L236.02,1977.73 L238.03,1977.69 L240.03,1977.65 L242.04,1977.6 L244.05,1977.56 L246.05,1977.51 L248.06,1977.47 L250.07,1977.42 L252.07,1977.37 L254.08,1977.31 L256.09,1977.26 L258.09,1977.2 L260.1,1977.15 L262.11,1977.09 L264.11,1977.03 L266.12,1976.97 L268.13,1976.9 L270.13,1976.84 L272.14,1976.77 L274.15,1976.7 L276.15,1976.63 L278.16,1976.55 L280.17,1976.48 L282.17,1976.4 L284.18,1976.32 L286.19,1976.24 L288.19,1976.16 L290.2,1976.08 L292.21,1975.99 L294.21,1975.9 L295.6,1975.84 L296.22,1975.82 L298.23,1975.73 L300.23,1975.63 L301.39,1975.58 L302.24,1975.54 L304.25,1975.44 L306.25,1975.35 L308.26,1975.25 L310.27,1975.15 L312.27,1975.04 L314.28,1974.94 L316.29,1974.83 L318.29,1974.73 L320.3,1974.62 L322.31,1974.51 L324.31,1974.4 L326.32,1974.29 L328.33,1974.18 L330.33,1974.07 L332.34,1973.95 L334.35,1973.84 L334.96,1973.8 L336.35,1973.72 L336.51,1973.71 L338.05,1973.62 L338.36,1973.6 L340.37,1973.49 L342.37,1973.37 L344.38,1973.25 L346.39,1973.13 L348.39,1973.01 L350.4,1972.89 L352.41,1972.78 L354.41,1972.66 L356.03,1972.56 L356.19,1972.55 L356.42,1972.54 L357.58,1972.47 L358.43,1972.42 L358.97,1972.39 L359.12,1972.38 L360.43,1972.3 L362.44,1972.18 L364.45,1972.07 L366.45,1971.95 L368.46,1971.84 L370.47,1971.72 L372.47,1971.61 L374.48,1971.5 L376.49,1971.38 L378.49,1971.27 L380.5,1971.17 L382.5,1971.06 L384.51,1970.96 L386.52,1970.85 L388.52,1970.75 L388.83,1970.74 L388.99,1970.73 L390.53,1970.65 L392.08,1970.58 L392.23,1970.57 L392.54,1970.55 L393.62,1970.5 L394.54,1970.46 L394.78,1970.45 L395.93,1970.4 L396.55,1970.37 L398.48,1970.28 L398.56,1970.28 L400.18,1970.21 L400.56,1970.19 L401.88,1970.14 L402.57,1970.11 L404.58,1970.03 L406.58,1969.95 L408.59,1969.87 L409.44,1969.84 L410.6,1969.8 L410.98,1969.78 L412.53,1969.73 L412.6,1969.73 L414.61,1969.66 L416.62,1969.6 L418.62,1969.54 L420.63,1969.48 L422.64,1969.43 L423.87,1969.4 L424.1,1969.4 L424.64,1969.38 L425.8,1969.36 L426.65,1969.34 L427.5,1969.32 L427.73,1969.31 L428.66,1969.3 L430.66,1969.26 L432.67,1969.22 L434.68,1969.19 L436.68,1969.17 L438.69,1969.15 L438.77,1969.15 L440.31,1969.13 L440.7,1969.13 L441.85,1969.12 L442.7,1969.11 L444.71,1969.1 L446.72,1969.1 L448.72,1969.1 L450.34,1969.1 L450.73,1969.1 L451.89,1969.1 L452.74,1969.1 L453.43,1969.11 L454.74,1969.11 L456.75,1969.13 L458.76,1969.15 L460.76,1969.17 L462.77,1969.19 L464.24,1969.22 L464.78,1969.22 L464.85,1969.23 L466.55,1969.25 L466.78,1969.26 L468.25,1969.29 L468.79,1969.3 L468.87,1969.3 L470.8,1969.34 L472.8,1969.38 L474.81,1969.43 L476.82,1969.48 L478.82,1969.54 L480.83,1969.6 L482.84,1969.66 L484.84,1969.73 L486.62,1969.79 L486.85,1969.8 L488.16,1969.85 L488.86,1969.87 L489.7,1969.9 L490.86,1969.95 L492.87,1970.03 L493.95,1970.07 L494.88,1970.11 L496.88,1970.19 L497.42,1970.21 L498.89,1970.28 L498.97,1970.28 L500.9,1970.37 L501.28,1970.39 L502.9,1970.46 L503.6,1970.49 L504.91,1970.55 L506.92,1970.65 L508.92,1970.75 L510.93,1970.85 L512.94,1970.96 L514.94,1971.06 L515.87,1971.11 L516.95,1971.17 L517.57,1971.2 L518.96,1971.27 L519.26,1971.29 L520.96,1971.38 L522.35,1971.46 L522.97,1971.5 L524.05,1971.56 L524.98,1971.61 L525.75,1971.65 L526.98,1971.72 L528.99,1971.84 L531,1971.95 L533,1972.07 L535.01,1972.18 L537.01,1972.3 L539.02,1972.42 L541.03,1972.54 L543.03,1972.66 L545.04,1972.78 L547.05,1972.89 L549.05,1973.01 L551.06,1973.13 L553.07,1973.25 L554.15,1973.31" fill="none" stroke="#0000ff" stroke-opacity="0.6" stroke-width="3.5" stroke-linejoin="round"/>
</g>
<line x1="208.78" y1="1912.4" x2="208.78" y2="1994.4" stroke="#2e2828" stroke-width="2.0" stroke-dasharray="6.5,6.1" stroke-dashoffset="2.7"/>
<rect x="131.6" y="1912.4" width="694.6" height="82" fill="none" stroke="#000" stroke-width="1.6"/>
<line x1="124.6" y1="1919.2" x2="131.6" y2="1919.2" stroke="#000" stroke-width="1.5"/>
<text x="74.14" y="1926.5" font-family='"DejaVu Sans", sans-serif' font-size="19.7">0.05</text>
<line x1="124.6" y1="1978.6" x2="131.6" y2="1978.6" stroke="#000" stroke-width="1.5"/>
<text x="73.75" y="1985.9" font-family='"DejaVu Sans", sans-serif' font-size="19.7">0.00</text>
<clipPath id="clipC4"><rect x="131.6" y="1999.6" width="694.6" height="82.9"/></clipPath>
<g clip-path="url(#clipC4)">
<path d="M149.74,2036.78 L150.59,2023.31 L150.74,2030.74 L151.74,2038.83 L152.13,2056.1 L152.75,2051.25 L153.75,2042.4 L154.75,2055.56 L155.76,2008.69 L156.76,2034.04 L157.76,2052.17 L158.77,2049.84 L159.77,2043.65 L160.77,2059.31 L161.78,2056.98 L162.78,2051.77 L163.78,2022.55 L164.79,2057.14 L165.79,2056.43 L166.79,2044.73 L167.8,2051.32 L168.8,2054.55 L169.8,2057.69 L170.81,2053.95 L171.81,2053.6 L172.81,2050.84 L173.82,2053.07 L174.82,2050.41 L175.82,2059.58 L176.83,2053.09 L177.83,2057.64 L178.83,2049.22 L179.84,2049.63 L180.84,2036.06 L181.84,2052.38 L182.85,2056.63 L183.85,2048.86 L184.85,2043.17 L185.86,2048.74 L186.86,2058.95 L187.86,2051.6 L188.87,2057.24 L189.87,2053.68 L190.87,2025.21 L191.88,2053.05 L192.88,2048 L193.88,2052.26 L194.89,2053.62 L195.89,2030.08 L196.89,2038.29 L197.9,2046 L198.9,2055.82 L199.9,2039.39 L200.91,2037.3 L201.91,2057.15 L202.91,2050.87 L203.92,2043.58 L204.92,2047.55 L205.92,2029.69 L206.93,2050.99 L207.93,2051.96 L208.93,2047.04 L209.94,2055.32 L210.94,2043.05 L211.94,2045.02 L212.95,2055.49 L213.95,2055.46 L214.95,2061.39 L215.96,2045.9 L216.96,2049.02 L217.96,2055.5 L218.43,2014.92 L218.81,2040.16 L218.97,2033.49 L219.97,2018.91 L220.35,1980.91 L220.97,2024.06 L221.9,2025.84 L221.98,2024.99 L222.28,2043.06 L222.98,2035.6 L223.98,2052.36 L224.99,2046.73 L225.99,2054.04 L226.99,2052.36 L228,2046.61 L229,2048.73 L230,2054.54 L231,2036.7 L232.01,2048.15 L233.01,2047.05 L234.01,2051.48 L235.02,2055.59 L236.02,2045.3 L237.02,2053.2 L238.03,2032.13 L239.03,2052.75 L240.03,2040.27 L241.04,2056.53 L242.04,2045.1 L242.5,2056.04 L242.89,2034.93 L243.04,2038.66 L244.05,2010.7 L244.43,2009.25 L245.05,2002.05 L245.98,2039.53 L246.05,2049.1 L246.36,2057.37 L247.06,2059.87 L248.06,2057.36 L249.06,2046.1 L250.07,2055.2 L251.07,2052.25 L252.07,2047.72 L253.08,2057.73 L254.08,2054.12 L255.08,2055.95 L256.09,2056.19 L257.09,2052.79 L258.09,2047.58 L259.1,2032.36 L260.1,2049.54 L261.1,2057.91 L262.11,2053 L263.11,2059.59 L264.11,2046.98 L265.12,2044.62 L266.12,2051.46 L267.12,2056.7 L268.13,2056.49 L268.98,2044.64 L269.13,2022.62 L270.13,2046.21 L270.52,2025.81 L271.14,2050.36 L272.06,2045.76 L272.14,2047 L273.14,2054.62 L274.15,2053.78 L275.15,2048.27 L276.15,2050.95 L277.16,2027.94 L278.16,2039.81 L279.16,2059.52 L280.17,2017.13 L281.17,2049.71 L282.17,2053.06 L283.18,2035.69 L284.18,2047.26 L284.8,2055.19 L285.18,2033.33 L286.19,2044.45 L286.34,2041.19 L287.19,2048.58 L287.88,2034.07 L288.19,2060.45 L289.2,2047.91 L290.2,2044.68 L291.2,2044.65 L292.21,2059.13 L293.21,2051.97 L294.21,2022.12 L295.22,2051.88 L296.22,2052.23 L297.22,2052.22 L298.23,2054.08 L299.23,2049.19 L300.23,2058.99 L301.24,2053.59 L302.24,2052.98 L303.24,2048.96 L303.86,2055.67 L304.09,2042.72 L304.25,2048.54 L305.25,2016.87 L305.79,2002.08 L306.25,2003.03 L307.26,2048.38 L307.49,2057.78 L307.72,2053.99 L308.26,2042.75 L309.26,2053.82 L310.27,2042.09 L311.27,2040.22 L312.27,2046.84 L313.28,2054.22 L314.28,2052.63 L315.28,2057.43 L316.29,2054.74 L317.29,2033.24 L318.29,2030.44 L319.3,2057.09 L320.3,2049.78 L321.3,2043.83 L322.31,2057.97 L323.31,2052.73 L324.31,2057.8 L325.32,2055.55 L326.32,2050.83 L327.25,2049.56 L327.32,2051.28 L328.33,2038.43 L329.18,2012.18 L329.33,2018.29 L330.33,2040.23 L331.1,2056.37 L331.34,2045.77 L332.34,2037.26 L333.34,2045.82 L334.35,2040.86 L335.35,2036.21 L336.35,2053.07 L337.36,2032.98 L338.36,2060.2 L339.36,2052.94 L340.37,2057.36 L341.37,2055.74 L342.37,2052.85 L343.38,2059.17 L344.38,2046.33 L345.38,2059.2 L346.39,2059.27 L347.39,2063.32 L348.39,2059.35 L349.4,2050.64 L350.4,2056.55 L351.4,2058.75 L352.41,2057.97 L353.41,2060.07 L354.41,2059.26 L355.42,2052.67 L356.42,2061.62 L357.42,2060.26 L358.43,2059.54 L359.43,2058.14 L360.43,2049.62 L361.44,2062.7 L362.44,2061.01 L363.44,2050.34 L364.45,2062.73 L365.45,2044.63 L366.45,2059.21 L367.46,2059.16 L368.46,2062.52 L369.46,2061.05 L370.47,2057.07 L371.47,2055.9 L372.47,2059.36 L373.48,2054.85 L374.48,2057.37 L375.48,2057.07 L376.49,2050.72 L377.49,2062.01 L378.49,2062.09 L379.5,2057.44 L380.5,2059.31 L380.73,2060.16 L381.5,2035.73 L382.27,2014.02 L382.5,2016.7 L383.51,2049.48 L383.82,2049.61 L384.51,2060.62 L385.51,2052.66 L386.52,2061.18 L387.52,2052.38 L388.52,2061.05 L389.53,2060.73 L390.53,2057.36 L391.53,2059.17 L392.54,2062.45 L393.54,2059.77 L394.54,2055.43 L395.55,2055.25 L396.55,2060.63 L397.55,2060.57 L398.56,2043.51 L399.56,2062.02 L400.56,2062.96 L401.57,2061.58 L402.57,2061.76 L403.19,2061.36 L403.34,2060.17 L403.57,2048.52 L404.58,2013.8 L404.89,1999.56 L405.58,2025.45 L406.43,2058.13 L406.58,2052.73 L407.59,2044.36 L408.59,2057.71 L409.59,2057.8 L410.6,2056.53 L411.6,2061.81 L412.6,2061.03 L413.61,2060.09 L414.61,2059.42 L415.61,2056.03 L416.62,2060.51 L417.62,2055.43 L418.62,2060.92 L419.63,2059.67 L420.63,2059.28 L421.63,2060.76 L422.64,2060.75 L423.64,2060.26 L424.64,2060.79 L425.65,2055.34 L426.65,2059.61 L427.65,2057.61 L428.66,2058.06 L429.66,2062.14 L430.66,2060.19 L431.67,2061.53 L432.67,2059.4 L433.67,2061.4 L434.68,2061.24 L435.68,2058.42 L436.68,2060.39 L437.69,2059.29 L438.69,2053.55 L439.69,2060.57 L440.7,2062.24 L441.7,2060.31 L442.01,2062.93 L442.39,2061.5 L442.7,2048 L443.71,2017.05 L443.94,2025.92 L444.71,2035.92 L445.48,2048.44 L445.71,2059.59 L445.87,2060.06 L446.72,2057.63 L447.72,2060.52 L448.72,2060.21 L449.73,2058.34 L450.65,2061.19 L450.73,2057.27 L451.73,2036.07 L452.2,2024.5 L452.74,2035.09 L453.74,2061.61 L454.74,2061.83 L455.75,2059.46 L456.29,2056.99 L456.75,2053.65 L457.21,2049.42 L457.75,2057.53 L458.14,2063.34 L458.76,2061.61 L459.76,2057.39 L460.76,2062.39 L461.77,2051.8 L462.77,2060.18 L463.77,2056.74 L464.78,2056.03 L465.78,2063.82 L466.78,2059.03 L467.32,2059.82 L467.79,2061.74 L468.79,2057.06 L469.79,2052.52 L470.8,2050.31 L471.8,2046.16 L472.8,2042.08 L473.81,2043.24 L474.27,2042 L474.81,2038.76 L475.81,2046.49 L476.82,2048.42 L477.82,2051.46 L478.82,2054.1 L479.83,2058.23 L480.83,2058.8 L481.22,2062.87 L481.83,2061.5 L482.84,2060.95 L483.84,2058.11 L484.84,2059.9 L485.85,2061.62 L486.85,2055.64 L487.85,2053.58 L488.86,2044.04 L488.93,2046.29 L489.86,2049.16 L490.86,2057.12 L491.87,2060.63 L492.02,2061.34 L492.87,2063.11 L493.87,2059.38 L494.88,2063.03 L495.88,2061.72 L496.88,2056.59 L497.89,2062.54 L498.89,2060.56 L499.89,2063.41 L500.9,2062.2 L501.9,2063.65 L502.9,2062.29 L502.9,2062.29 L501.9,2063.71 L500.9,2064.49 L499.89,2064.62 L498.89,2062.35 L497.89,2063.41 L496.88,2062.56 L495.88,2066.75 L494.88,2064.16 L493.87,2066.11 L492.87,2065.13 L492.02,2065.39 L491.87,2063.76 L490.86,2062.58 L489.86,2059.62 L488.93,2058.54 L488.86,2057.72 L487.85,2061.97 L486.85,2063.23 L485.85,2063.81 L484.84,2064.33 L483.84,2064.03 L482.84,2064.22 L481.83,2064.29 L481.22,2065.68 L480.83,2064.3 L479.83,2061.71 L478.82,2063.14 L477.82,2060.16 L476.82,2058.48 L475.81,2057.63 L474.81,2054.17 L474.27,2053.97 L473.81,2055.81 L472.8,2053.53 L471.8,2058.69 L470.8,2060.08 L469.79,2060.01 L468.79,2063.32 L467.79,2065.86 L467.32,2065.46 L466.78,2064.77 L465.78,2068.98 L464.78,2063.55 L463.77,2063.31 L462.77,2064.92 L461.77,2064.52 L460.76,2064.25 L459.76,2061.15 L458.76,2064.77 L458.14,2067.83 L457.75,2064.33 L457.21,2064.56 L456.75,2065.16 L456.29,2063.91 L455.75,2063.16 L454.74,2064.66 L453.74,2063.65 L452.74,2053.81 L452.2,2049.15 L451.73,2053.87 L450.73,2061.92 L450.65,2063.59 L449.73,2062.92 L448.72,2065.41 L447.72,2066.36 L446.72,2065.64 L445.87,2064.31 L445.71,2065.47 L445.48,2060.22 L444.71,2066.49 L443.94,2066.98 L443.71,2067.8 L442.7,2065.23 L442.39,2062.86 L442.01,2067.83 L441.7,2063.32 L440.7,2064.59 L439.69,2063.46 L438.69,2062.7 L437.69,2064.87 L436.68,2064.44 L435.68,2064.96 L434.68,2064.25 L433.67,2068.1 L432.67,2064.31 L431.67,2065.14 L430.66,2065.79 L429.66,2063.18 L428.66,2066.87 L427.65,2064.01 L426.65,2064.09 L425.65,2064.22 L424.64,2067.65 L423.64,2065.78 L422.64,2065 L421.63,2063.11 L420.63,2062.33 L419.63,2062.86 L418.62,2066.57 L417.62,2064.97 L416.62,2067 L415.61,2062.43 L414.61,2064 L413.61,2065.29 L412.6,2065.77 L411.6,2065.31 L410.6,2068.11 L409.59,2061.39 L408.59,2067.02 L407.59,2062.14 L406.58,2067.08 L406.43,2062.63 L405.58,2056.23 L404.89,2049.31 L404.58,2053.07 L403.57,2059.65 L403.34,2064.32 L403.19,2064.17 L402.57,2065.17 L401.57,2066.12 L400.56,2069.33 L399.56,2071.05 L398.56,2064.5 L397.55,2064.62 L396.55,2066.3 L395.55,2059.76 L394.54,2067.11 L393.54,2062.9 L392.54,2067.89 L391.53,2063.75 L390.53,2063.04 L389.53,2064.34 L388.52,2068.08 L387.52,2059.42 L386.52,2064.4 L385.51,2065.38 L384.51,2064.32 L383.82,2061.52 L383.51,2066.15 L382.5,2061.33 L382.27,2065.07 L381.5,2064.18 L380.73,2064.33 L380.5,2062.78 L379.5,2067.5 L378.49,2064.92 L377.49,2068.38 L376.49,2062.03 L375.48,2062.61 L374.48,2071.19 L373.48,2064.63 L372.47,2062 L371.47,2059.34 L370.47,2067.03 L369.46,2065.27 L368.46,2064.36 L367.46,2061.76 L366.45,2065.22 L365.45,2067.73 L364.45,2065.39 L363.44,2055.85 L362.44,2065.5 L361.44,2067.1 L360.43,2057.3 L359.43,2064.73 L358.43,2063.25 L357.42,2068.28 L356.42,2067.24 L355.42,2065.07 L354.41,2066.61 L353.41,2064.93 L352.41,2065.14 L351.4,2063.29 L350.4,2063.61 L349.4,2064.35 L348.39,2064.43 L347.39,2067.91 L346.39,2064.35 L345.38,2063.69 L344.38,2063.03 L343.38,2063.3 L342.37,2061.76 L341.37,2063.57 L340.37,2063.28 L339.36,2062.38 L338.36,2064.79 L337.36,2066.99 L336.35,2063.38 L335.35,2056.36 L334.35,2049.34 L333.34,2059.91 L332.34,2063.73 L331.34,2058.14 L331.1,2066.73 L330.33,2072.8 L329.33,2053.27 L329.18,2060.49 L328.33,2056.7 L327.32,2056.29 L327.25,2060.78 L326.32,2065.62 L325.32,2063.51 L324.31,2064.4 L323.31,2064.18 L322.31,2062.85 L321.3,2069.07 L320.3,2058.58 L319.3,2073.95 L318.29,2066.47 L317.29,2064.02 L316.29,2062.85 L315.28,2064.95 L314.28,2066.43 L313.28,2061.04 L312.27,2058.27 L311.27,2062.6 L310.27,2056.03 L309.26,2070.34 L308.26,2060.55 L307.72,2063.04 L307.49,2065.81 L307.26,2060.26 L306.25,2043.82 L305.79,2042.62 L305.25,2047.22 L304.25,2060.55 L304.09,2051.52 L303.86,2062.38 L303.24,2063.9 L302.24,2074.41 L301.24,2066.89 L300.23,2069.1 L299.23,2058.36 L298.23,2064.97 L297.22,2062.11 L296.22,2058.82 L295.22,2066.18 L294.21,2047.32 L293.21,2059.39 L292.21,2068.84 L291.2,2057.42 L290.2,2056.95 L289.2,2059.44 L288.19,2064.09 L287.88,2058.25 L287.19,2061.71 L286.34,2062.84 L286.19,2060.81 L285.18,2049.22 L284.8,2065.07 L284.18,2062.74 L283.18,2052.33 L282.17,2062.37 L281.17,2061.7 L280.17,2030.76 L279.16,2068.68 L278.16,2068.04 L277.16,2049.25 L276.15,2066.39 L275.15,2068.59 L274.15,2059.04 L273.14,2061.72 L272.14,2065.43 L272.06,2052.55 L271.14,2062.46 L270.52,2046.37 L270.13,2061.86 L269.13,2036.62 L268.98,2068.03 L268.13,2067.3 L267.12,2065.25 L266.12,2065.08 L265.12,2051.93 L264.11,2064.35 L263.11,2063.97 L262.11,2069.41 L261.1,2071.78 L260.1,2068.08 L259.1,2068.6 L258.09,2064.31 L257.09,2072.31 L256.09,2061.56 L255.08,2061.81 L254.08,2059.51 L253.08,2063.12 L252.07,2063.03 L251.07,2061.64 L250.07,2067.41 L249.06,2059.98 L248.06,2069.4 L247.06,2067.06 L246.36,2063.45 L246.05,2064.92 L245.98,2061.4 L245.05,2056.75 L244.43,2055.23 L244.05,2050.29 L243.04,2055.87 L242.89,2053.33 L242.5,2065.62 L242.04,2064.41 L241.04,2066.03 L240.03,2049.05 L239.03,2063.15 L238.03,2062.98 L237.02,2063.95 L236.02,2065.88 L235.02,2059.7 L234.01,2061.26 L233.01,2062.73 L232.01,2061.64 L231,2054.58 L230,2061.98 L229,2067.09 L228,2062.78 L226.99,2062.33 L225.99,2065.9 L224.99,2057.97 L223.98,2063.72 L222.98,2063.12 L222.28,2056.69 L221.98,2058.37 L221.9,2046.09 L220.97,2050.68 L220.35,2024.27 L219.97,2057.07 L218.97,2058.3 L218.81,2050.75 L218.43,2066.31 L217.96,2062.82 L216.96,2068.09 L215.96,2064.68 L214.95,2066.23 L213.95,2066.15 L212.95,2065.72 L211.94,2070.94 L210.94,2064.21 L209.94,2070.77 L208.93,2059.19 L207.93,2063.19 L206.93,2061 L205.92,2060.85 L204.92,2063.99 L203.92,2059.97 L202.91,2064.3 L201.91,2063.86 L200.91,2058.63 L199.9,2059.51 L198.9,2062.62 L197.9,2053.98 L196.89,2050.23 L195.89,2060.56 L194.89,2062.65 L193.88,2077.71 L192.88,2058.79 L191.88,2061.18 L190.87,2062.61 L189.87,2064.04 L188.87,2063.81 L187.86,2068.48 L186.86,2065.02 L185.86,2054.93 L184.85,2068.46 L183.85,2067.61 L182.85,2060.05 L181.84,2062.24 L180.84,2063.04 L179.84,2064.38 L178.83,2057.75 L177.83,2069.36 L176.83,2067.32 L175.82,2069.69 L174.82,2063.84 L173.82,2073.43 L172.81,2063.25 L171.81,2062.53 L170.81,2060.99 L169.8,2063.43 L168.8,2067.73 L167.8,2062.89 L166.79,2065.2 L165.79,2062.82 L164.79,2063.44 L163.78,2061.24 L162.78,2057.94 L161.78,2063.29 L160.77,2063.44 L159.77,2057.43 L158.77,2064.11 L157.76,2070.62 L156.76,2048.24 L155.76,2039.97 L154.75,2064.1 L153.75,2055.17 L152.75,2054.9 L152.13,2061.59 L151.74,2061.44 L150.74,2047.23 L150.59,2044.74 L149.74,2052.92Z" fill="#00a000" fill-opacity="0.5" stroke="#00a000" stroke-opacity="0.5" stroke-width="1" stroke-linejoin="round"/>
<path d="M521.35,2062.39 L521.97,2057.38 L522.12,2058.1 L522.97,2052.63 L523.97,2044.78 L524.43,2044.16 L524.98,2046 L525.98,2052.58 L526.75,2056.52 L526.98,2059.22 L527.52,2061.87 L527.52,2061.87 L526.98,2061.63 L526.75,2059.97 L525.98,2061.32 L524.98,2061.62 L524.43,2063.48 L523.97,2060.92 L522.97,2061.9 L522.12,2061.55 L521.97,2060.14 L521.35,2062.39Z" fill="#00a000" fill-opacity="0.5" stroke="#00a000" stroke-opacity="0.5" stroke-width="1" stroke-linejoin="round"/>
<path d="M557.7,2061.28 L558.08,2054.59 L559.09,2042.94 L559.24,2040.22 L560.09,2052.76 L560.79,2062.17 L560.79,2062.17 L560.09,2062.07 L559.24,2060.92 L559.09,2061.57 L558.08,2059.77 L557.7,2061.28Z" fill="#00a000" fill-opacity="0.5" stroke="#00a000" stroke-opacity="0.5" stroke-width="1" stroke-linejoin="round"/>
<path d="M149.74,2048.74 L150.59,2041.63 L150.74,2045.25 L151.74,2059.11 L152.13,2058.34 L152.75,2053.07 L153.75,2052.46 L154.75,2060.63 L155.76,2038.5 L156.76,2043.88 L157.76,2060.14 L158.77,2060.06 L159.77,2055.15 L160.77,2060.64 L161.78,2059.31 L162.78,2054.36 L163.78,2054.6 L164.79,2061.54 L165.79,2061.39 L166.79,2061.59 L167.8,2060.29 L168.8,2060.03 L169.8,2061.28 L170.81,2057.25 L171.81,2060.15 L172.81,2060.27 L173.82,2063.45 L174.82,2062.92 L175.82,2061.95 L176.83,2059.17 L177.83,2062.25 L178.83,2052.24 L179.84,2059.95 L180.84,2059.6 L181.84,2060.06 L182.85,2058.76 L183.85,2056.76 L184.85,2061.75 L185.86,2052.42 L186.86,2062.17 L187.86,2058.75 L188.87,2061.05 L189.87,2060.96 L190.87,2058.16 L191.88,2059.95 L192.88,2052.36 L193.88,2061.75 L194.89,2058.88 L195.89,2058.63 L196.89,2047.44 L197.9,2052.54 L198.9,2058.17 L199.9,2052.08 L200.91,2057.54 L201.91,2062.29 L202.91,2059.69 L203.92,2055.52 L204.92,2061.87 L205.92,2053.21 L206.93,2058.99 L207.93,2061.46 L208.93,2057.39 L209.94,2062.7 L210.94,2061.15 L211.94,2061.88 L212.95,2056.76 L213.95,2061.82 L214.95,2062.66 L215.96,2057.68 L216.96,2060.55 L217.96,2061.16 L218.43,2060.84 L218.81,2049.33 L218.97,2053.2 L219.97,2046.85 L220.35,2014.38 L220.97,2044.41 L221.9,2039.44 L221.98,2049.89 L222.28,2049.86 L222.98,2061.45 L223.98,2060.71 L224.99,2055.59 L225.99,2059.13 L226.99,2058.47 L228,2052.23 L229,2063.35 L230,2059.93 L231,2047.55 L232.01,2060.32 L233.01,2058.51 L234.01,2056.87 L235.02,2057.18 L236.02,2057.18 L237.02,2061.44 L238.03,2057.04 L239.03,2060.61 L240.03,2046.56 L241.04,2060.66 L242.04,2057.35 L242.5,2059.3 L242.89,2048.52 L243.04,2054.11 L244.05,2043.58 L244.43,2046.65 L245.05,2050.5 L245.98,2058.62 L246.05,2056.93 L246.36,2059.53 L247.06,2061.76 L248.06,2061.98 L249.06,2057.68 L250.07,2059.07 L251.07,2060.76 L252.07,2061.27 L253.08,2061.66 L254.08,2057.87 L255.08,2060.23 L256.09,2060.51 L257.09,2060.29 L258.09,2060.01 L259.1,2059.45 L260.1,2057.82 L261.1,2062.66 L262.11,2059.22 L263.11,2061.76 L264.11,2059.6 L265.12,2049.24 L266.12,2062.82 L267.12,2061.9 L268.13,2060.03 L268.98,2063.21 L269.13,2030.22 L270.13,2060.35 L270.52,2044.44 L271.14,2058.41 L272.06,2049.71 L272.14,2053.14 L273.14,2059.32 L274.15,2055.41 L275.15,2060.47 L276.15,2059.95 L277.16,2046.49 L278.16,2061.04 L279.16,2061.16 L280.17,2028.18 L281.17,2059.7 L282.17,2056.76 L283.18,2044.79 L284.18,2060.06 L284.8,2060.3 L285.18,2042.13 L286.19,2058.39 L286.34,2057.03 L287.19,2059.59 L287.88,2055.55 L288.19,2062.47 L289.2,2057.58 L290.2,2052.13 L291.2,2052.54 L292.21,2060.24 L293.21,2055.01 L294.21,2037.42 L295.22,2057.91 L296.22,2054.82 L297.22,2059.81 L298.23,2062.72 L299.23,2054.44 L300.23,2061.45 L301.24,2060.86 L302.24,2058.33 L303.24,2058.67 L303.86,2059.09 L304.09,2049.01 L304.25,2053.6 L305.25,2042.56 L305.79,2039.67 L306.25,2036.65 L307.26,2056.82 L307.49,2060.66 L307.72,2061.2 L308.26,2054.98 L309.26,2057.1 L310.27,2050.41 L311.27,2056.86 L312.27,2057.04 L313.28,2057.28 L314.28,2060.85 L315.28,2060.37 L316.29,2060.38 L317.29,2058.06 L318.29,2061.56 L319.3,2060.31 L320.3,2057.69 L321.3,2059.2 L322.31,2059.92 L323.31,2059.69 L324.31,2062.17 L325.32,2062.37 L326.32,2061.37 L327.25,2053.85 L327.32,2054.68 L328.33,2053.25 L329.18,2047.82 L329.33,2047.43 L330.33,2060.15 L331.1,2060.82 L331.34,2054.79 L332.34,2046.05 L333.34,2058.67 L334.35,2048.13 L335.35,2054.01 L336.35,2059.63 L337.36,2062.5 L338.36,2062.56 L339.36,2060.96 L340.37,2060.56 L341.37,2061.45 L342.37,2059.96 L343.38,2060.45 L344.38,2061.95 L345.38,2061.47 L346.39,2061.85 L347.39,2063.93 L348.39,2063.63 L349.4,2061.85 L350.4,2060.88 L351.4,2062.24 L352.41,2062.79 L353.41,2062.07 L354.41,2061.62 L355.42,2062.15 L356.42,2063.98 L357.42,2061.92 L358.43,2061.06 L359.43,2062.28 L360.43,2054.97 L361.44,2063.75 L362.44,2063.93 L363.44,2052.93 L364.45,2063.51 L365.45,2064.14 L366.45,2063.16 L367.46,2060.97 L368.46,2063.31 L369.46,2063.04 L370.47,2061.21 L371.47,2056.92 L372.47,2061.2 L373.48,2062.1 L374.48,2063.09 L375.48,2061.26 L376.49,2053.56 L377.49,2063.64 L378.49,2063.61 L379.5,2063.05 L380.5,2061.41 L380.73,2061.63 L381.5,2055.32 L382.27,2047.98 L382.5,2046.81 L383.51,2058.92 L383.82,2059.83 L384.51,2062.94 L385.51,2060.44 L386.52,2063.49 L387.52,2056.84 L388.52,2063.14 L389.53,2063.11 L390.53,2062.08 L391.53,2062.94 L392.54,2063.34 L393.54,2062.08 L394.54,2063.39 L395.55,2057.79 L396.55,2063.43 L397.55,2061.42 L398.56,2063.49 L399.56,2063.99 L400.56,2064.17 L401.57,2062.76 L402.57,2063.87 L403.19,2062.65 L403.34,2061.29 L403.57,2057.28 L404.58,2042.54 L404.89,2033.88 L405.58,2048.37 L406.43,2061.62 L406.58,2064.18 L407.59,2061.43 L408.59,2062.75 L409.59,2060.1 L410.6,2063.98 L411.6,2063.09 L412.6,2063.61 L413.61,2062.27 L414.61,2063.25 L415.61,2060.32 L416.62,2063.35 L417.62,2063.18 L418.62,2063.52 L419.63,2062.38 L420.63,2061.25 L421.63,2062.31 L422.64,2063.53 L423.64,2063.79 L424.64,2063.72 L425.65,2062.84 L426.65,2063.48 L427.65,2063.22 L428.66,2061.35 L429.66,2062.52 L430.66,2062.85 L431.67,2063.51 L432.67,2063.29 L433.67,2063.38 L434.68,2063.09 L435.68,2063.32 L436.68,2062.98 L437.69,2063.64 L438.69,2061.2 L439.69,2062.77 L440.7,2062.88 L441.7,2062.05 L442.01,2063.89 L442.39,2062.28 L442.7,2061.06 L443.71,2056.46 L443.94,2054.32 L444.71,2058.09 L445.48,2059.04 L445.71,2063.37 L445.87,2062.79 L446.72,2063.99 L447.72,2063.99 L448.72,2064 L449.73,2061.68 L450.65,2063.22 L450.73,2060.82 L451.73,2052.6 L452.2,2047.37 L452.74,2052.75 L453.74,2062.77 L454.74,2063.21 L455.75,2062.24 L456.29,2063.18 L456.75,2063.29 L457.21,2063.32 L457.75,2063.74 L458.14,2064.11 L458.76,2063.84 L459.76,2060.6 L460.76,2063.27 L461.77,2063.96 L462.77,2063.6 L463.77,2062.37 L464.78,2060.58 L465.78,2064.21 L466.78,2064.16 L467.32,2064.27 L467.79,2063.17 L468.79,2061.92 L469.79,2058.74 L470.8,2058.04 L471.8,2057.58 L472.8,2051.75 L473.81,2054.83 L474.27,2053.58 L474.81,2053.88 L475.81,2056.5 L476.82,2057.3 L477.82,2058.59 L478.82,2060.31 L479.83,2060.97 L480.83,2063.11 L481.22,2063.89 L481.83,2062.77 L482.84,2063.83 L483.84,2063.2 L484.84,2063.84 L485.85,2063.1 L486.85,2061.24 L487.85,2059.62 L488.86,2056.56 L488.93,2056.93 L489.86,2056.56 L490.86,2061.3 L491.87,2062.56 L492.02,2064.32 L492.87,2063.88 L493.87,2064.25 L494.88,2063.6 L495.88,2064.01 L496.88,2062.25 L497.89,2063.11 L498.89,2062.12 L499.89,2064.06 L500.9,2064.33 L501.9,2063.69 L502.9,2062.29 L503.91,2063.49 L504.91,2061.4 L505.91,2063.82 L506.92,2064 L507.92,2063.34 L508.92,2062.8 L509.93,2063.9 L510.93,2064 L511.93,2064.01 L512.94,2061.41 L513.94,2064.32 L514.94,2062.73 L515.95,2063.81 L516.95,2062.22 L517.95,2063.18 L518.96,2064.17 L519.8,2063.63 L519.96,2063.79 L520.96,2062.62 L521.35,2062.39 L521.97,2060.14 L522.12,2061.55 L522.97,2059.88 L523.97,2056.51 L524.43,2057.96 L524.98,2057.39 L525.98,2059.48 L526.75,2059.97 L526.98,2061.63 L527.52,2061.87 L527.99,2062.23 L528.99,2063.59 L529.07,2064.14 L529.99,2064.16 L531,2063.81 L532,2063.59 L533,2063.69 L534,2064.29 L535.01,2064.05 L536.01,2064.06 L537.01,2063.64 L538.02,2064.15 L539.02,2063.81 L540.02,2064.23 L541.03,2064.03 L542.03,2063.49 L543.03,2063.4 L544.04,2064.24 L545.04,2063.85 L546.04,2064.13 L547.05,2062.29 L548.05,2063.69 L549.05,2063.89 L550.06,2062.27 L551.06,2064.4 L552.06,2064.19 L553.07,2063.61 L554.07,2063.95 L555.07,2063.75 L556.08,2064.14 L557.08,2064.03 L557.31,2063.83 L557.7,2061.28 L558.08,2058.04 L559.09,2055.36 L559.24,2054.02 L560.09,2058.97 L560.79,2062.17 L561.09,2063.41 L561.17,2064.19 L562.1,2063.84 L563.1,2064 L564.1,2062.61 L565.11,2063.9 L566.11,2064.14 L567.11,2064.32 L568.12,2064.09 L569.12,2063.58 L570.12,2061.69 L571.13,2063.89 L572.13,2064.04 L573.13,2064 L574.14,2063.79 L574.68,2063.4 L575.14,2061.21 L575.84,2058.38 L576.14,2059.72 L576.99,2064.04 L577.15,2063.27 L578.15,2064.31 L579.15,2063.45 L580.16,2063.95 L581.16,2063.98 L582.16,2063.89 L583.17,2064.01 L583.86,2064.22 L584.17,2062.16 L585.02,2057.05 L585.17,2057.9 L586.18,2063.57 L587.18,2064.08 L588.18,2064.37 L589.19,2064.04 L590.19,2063.92 L591.19,2063.88 L592.2,2064.37 L593.2,2063.61 L594.2,2063 L595.21,2064 L596.21,2063.55 L597.21,2063.39 L598.22,2063.13 L599.22,2064.31 L600.22,2063.61 L601.23,2064.11 L602.23,2064.33 L603.23,2063.97 L604.24,2064.09 L605.24,2063.54 L605.63,2063.69 L606.24,2061.48 L606.55,2059.71 L607.25,2062.77 L607.48,2064.32 L608.25,2063.95 L609.25,2064.11 L610.26,2063.37 L611.26,2063.82 L611.41,2064.2 L612.26,2060.45 L612.34,2060.27 L613.27,2063.48 L614.27,2063.52 L615.27,2063.68 L616.28,2064.05 L617.28,2063.86 L618.28,2064.25 L619.29,2063.92 L620.29,2063.85 L621.29,2064.06 L622.3,2062.84 L623.3,2064.1 L624.3,2064.26 L625.31,2064.32 L626.31,2063.78 L626.46,2064.2 L627.31,2060.42 L627.39,2060.14 L628.32,2064.33 L629.32,2063.86 L630.32,2064.38 L631.33,2062.58 L632.33,2064.24 L633.33,2063.83 L634.34,2064.18 L635.34,2063.87 L636.34,2063.87 L637.35,2063.98 L638.35,2063 L639.35,2064.33 L640.36,2064.1 L641.36,2064.26 L642.36,2064.06 L643.37,2064.24 L644.37,2064.31 L645.37,2064.16 L646.38,2064.2 L647.38,2064.12 L648.38,2064.1 L649.39,2064.31 L650.39,2064.31 L651.39,2064.38 L652.4,2064.2 L653.4,2064.18 L654.4,2064.01 L654.87,2063.97 L655.41,2061.93 L656.41,2057.17 L657.41,2061.73 L657.95,2064.44 L658.42,2064.24 L659.42,2064.03 L660.42,2063.81 L661.43,2064.02 L662.43,2063.88 L663.43,2064.34 L664.44,2063.32 L665.44,2064.4 L666.44,2063.93 L667.45,2064.3" fill="none" stroke="#00a000" stroke-width="3" stroke-linejoin="round"/>
<path d="M149.74,2062.12 L150.59,2062.09 L150.74,2062.08 L151.74,2062.05 L152.13,2062.03 L152.75,2062.01 L153.75,2061.98 L154.75,2061.94 L155.76,2061.9 L156.76,2061.87 L157.76,2061.83 L158.77,2061.79 L159.77,2061.76 L160.77,2061.72 L161.78,2061.68 L162.78,2061.64 L163.78,2061.6 L164.79,2061.57 L165.79,2061.53 L166.79,2061.49 L167.8,2061.45 L168.8,2061.41 L169.8,2061.37 L170.81,2061.33 L171.81,2061.29 L172.81,2061.25 L173.82,2061.2 L174.82,2061.16 L175.82,2061.12 L176.83,2061.08 L177.83,2061.04 L178.83,2061 L179.84,2060.95 L180.84,2060.91 L181.84,2060.87 L182.85,2060.83 L183.85,2060.78 L184.85,2060.74 L185.86,2060.7 L186.86,2060.65 L187.86,2060.61 L188.87,2060.56 L189.87,2060.52 L190.87,2060.48 L191.88,2060.43 L192.88,2060.39 L193.88,2060.34 L194.89,2060.3 L195.89,2060.25 L196.89,2060.21 L197.9,2060.16 L198.9,2060.12 L199.9,2060.07 L200.91,2060.03 L201.91,2059.98 L202.91,2059.93 L203.92,2059.89 L204.92,2059.84 L205.92,2059.8 L206.93,2059.75 L207.93,2059.71 L208.93,2059.66 L209.94,2059.61 L210.94,2059.57 L211.94,2059.52 L212.95,2059.48 L213.95,2059.43 L214.95,2059.39 L215.96,2059.34 L216.96,2059.29 L217.96,2059.25 L218.43,2059.23 L218.81,2059.21 L218.97,2059.2 L219.97,2059.16 L220.35,2059.14 L220.97,2059.11 L221.9,2059.07 L221.98,2059.07 L222.28,2059.05 L222.98,2059.02 L223.98,2058.98 L224.99,2058.93 L225.99,2058.89 L226.99,2058.84 L228,2058.8 L229,2058.75 L230,2058.71 L231,2058.66 L232.01,2058.62 L233.01,2058.57 L234.01,2058.53 L235.02,2058.49 L236.02,2058.44 L237.02,2058.4 L238.03,2058.36 L239.03,2058.31 L240.03,2058.27 L241.04,2058.23 L242.04,2058.19 L242.5,2058.17 L242.89,2058.15 L243.04,2058.15 L244.05,2058.1 L244.43,2058.09 L245.05,2058.06 L245.98,2058.03 L246.05,2058.02 L246.36,2058.01 L247.06,2057.98 L248.06,2057.94 L249.06,2057.9 L250.07,2057.86 L251.07,2057.82 L252.07,2057.78 L253.08,2057.75 L254.08,2057.71 L255.08,2057.67 L256.09,2057.63 L257.09,2057.6 L258.09,2057.56 L259.1,2057.52 L260.1,2057.49 L261.1,2057.45 L262.11,2057.42 L263.11,2057.38 L264.11,2057.35 L265.12,2057.31 L266.12,2057.28 L267.12,2057.25 L268.13,2057.22 L268.98,2057.19 L269.13,2057.19 L270.13,2057.15 L270.52,2057.14 L271.14,2057.12 L272.06,2057.1 L272.14,2057.09 L273.14,2057.06 L274.15,2057.03 L275.15,2057.01 L276.15,2056.98 L277.16,2056.95 L278.16,2056.92 L279.16,2056.9 L280.17,2056.87 L281.17,2056.85 L282.17,2056.82 L283.18,2056.8 L284.18,2056.77 L284.8,2056.76 L285.18,2056.75 L286.19,2056.73 L286.34,2056.72 L287.19,2056.71 L287.88,2056.69 L288.19,2056.69 L289.2,2056.66 L290.2,2056.64 L291.2,2056.63 L292.21,2056.61 L293.21,2056.59 L294.21,2056.57 L295.22,2056.56 L296.22,2056.54 L297.22,2056.52 L298.23,2056.51 L299.23,2056.5 L300.23,2056.48 L301.24,2056.47 L302.24,2056.46 L303.24,2056.45 L303.86,2056.44 L304.09,2056.44 L304.25,2056.44 L305.25,2056.43 L305.79,2056.42 L306.25,2056.42 L307.26,2056.41 L307.49,2056.41 L307.72,2056.4 L308.26,2056.4 L309.26,2056.39 L310.27,2056.39 L311.27,2056.38 L312.27,2056.37 L313.28,2056.37 L314.28,2056.37 L315.28,2056.36 L316.29,2056.36 L317.29,2056.36 L318.29,2056.36 L319.3,2056.36 L320.3,2056.36 L321.3,2056.36 L322.31,2056.36 L323.31,2056.36 L324.31,2056.37 L325.32,2056.37 L326.32,2056.38 L327.25,2056.38 L327.32,2056.38 L328.33,2056.39 L329.18,2056.39 L329.33,2056.39 L330.33,2056.4 L331.1,2056.41 L331.34,2056.41 L332.34,2056.42 L333.34,2056.43 L334.35,2056.44 L335.35,2056.45 L336.35,2056.46 L337.36,2056.47 L338.36,2056.49 L339.36,2056.5 L340.37,2056.51 L341.37,2056.53 L342.37,2056.54 L343.38,2056.56 L344.38,2056.58 L345.38,2056.59 L346.39,2056.61 L347.39,2056.63 L348.39,2056.65 L349.4,2056.67 L350.4,2056.69 L351.4,2056.71 L352.41,2056.73 L353.41,2056.76 L354.41,2056.78 L355.42,2056.8 L356.42,2056.83 L357.42,2056.85 L358.43,2056.88 L359.43,2056.9 L360.43,2056.93 L361.44,2056.96 L362.44,2056.99 L363.44,2057.01 L364.45,2057.04 L365.45,2057.07 L366.45,2057.1 L367.46,2057.13 L368.46,2057.16 L369.46,2057.19 L370.47,2057.23 L371.47,2057.26 L372.47,2057.29 L373.48,2057.32 L374.48,2057.36 L375.48,2057.39 L376.49,2057.43 L377.49,2057.46 L378.49,2057.5 L379.5,2057.53 L380.5,2057.57 L380.73,2057.58 L381.5,2057.61 L382.27,2057.64 L382.5,2057.64 L383.51,2057.68 L383.82,2057.69 L384.51,2057.72 L385.51,2057.76 L386.52,2057.8 L387.52,2057.84 L388.52,2057.87 L389.53,2057.91 L390.53,2057.95 L391.53,2057.99 L392.54,2058.04 L393.54,2058.08 L394.54,2058.12 L395.55,2058.16 L396.55,2058.2 L397.55,2058.24 L398.56,2058.29 L399.56,2058.33 L400.56,2058.37 L401.57,2058.41 L402.57,2058.46 L403.19,2058.48 L403.34,2058.49 L403.57,2058.5 L404.58,2058.54 L404.89,2058.56 L405.58,2058.59 L406.43,2058.62 L406.58,2058.63 L407.59,2058.68 L408.59,2058.72 L409.59,2058.76 L410.6,2058.81 L411.6,2058.85 L412.6,2058.9 L413.61,2058.94 L414.61,2058.99 L415.61,2059.03 L416.62,2059.08 L417.62,2059.13 L418.62,2059.17 L419.63,2059.22 L420.63,2059.26 L421.63,2059.31 L422.64,2059.35 L423.64,2059.4 L424.64,2059.45 L425.65,2059.49 L426.65,2059.54 L427.65,2059.58 L428.66,2059.63 L429.66,2059.67 L430.66,2059.72 L431.67,2059.77 L432.67,2059.81 L433.67,2059.86 L434.68,2059.9 L435.68,2059.95 L436.68,2059.99 L437.69,2060.04 L438.69,2060.09 L439.69,2060.13 L440.7,2060.18 L441.7,2060.22 L442.01,2060.23 L442.39,2060.25 L442.7,2060.27 L443.71,2060.31 L443.94,2060.32 L444.71,2060.36 L445.48,2060.39 L445.71,2060.4 L445.87,2060.41 L446.72,2060.44 L447.72,2060.49 L448.72,2060.53 L449.73,2060.58 L450.65,2060.62 L450.73,2060.62 L451.73,2060.67 L452.2,2060.69 L452.74,2060.71 L453.74,2060.75 L454.74,2060.8 L455.75,2060.84 L456.29,2060.86 L456.75,2060.88 L457.21,2060.9 L457.75,2060.92 L458.14,2060.94 L458.76,2060.97 L459.76,2061.01 L460.76,2061.05 L461.77,2061.09 L462.77,2061.13 L463.77,2061.18 L464.78,2061.22 L465.78,2061.26 L466.78,2061.3 L467.32,2061.32 L467.79,2061.34 L468.79,2061.38 L469.79,2061.42 L470.8,2061.46 L471.8,2061.5 L472.8,2061.54 L473.81,2061.58 L474.27,2061.6 L474.81,2061.62 L475.81,2061.65 L476.82,2061.69 L477.82,2061.73 L478.82,2061.77 L479.83,2061.81 L480.83,2061.84 L481.22,2061.86 L481.83,2061.88 L482.84,2061.92 L483.84,2061.95 L484.84,2061.99 L485.85,2062.02 L486.85,2062.06 L487.85,2062.09 L488.86,2062.13 L488.93,2062.13 L489.86,2062.16 L490.86,2062.2 L491.87,2062.23 L492.02,2062.24 L492.87,2062.26 L493.87,2062.3 L494.88,2062.33 L495.88,2062.36 L496.88,2062.4 L497.89,2062.43 L498.89,2062.46 L499.89,2062.49 L500.9,2062.52 L501.9,2062.55 L502.9,2062.58 L503.91,2062.61 L504.91,2062.64 L505.91,2062.67 L506.92,2062.7 L507.92,2062.73 L508.92,2062.76 L509.93,2062.79 L510.93,2062.82 L511.93,2062.84 L512.94,2062.87 L513.94,2062.9 L514.94,2062.92 L515.95,2062.95 L516.95,2062.98 L517.95,2063 L518.96,2063.03 L519.8,2063.05 L519.96,2063.05 L520.96,2063.08 L521.35,2063.09 L521.97,2063.1 L522.12,2063.11 L522.97,2063.13 L523.97,2063.15 L524.43,2063.16 L524.98,2063.17 L525.98,2063.2 L526.75,2063.21 L526.98,2063.22 L527.52,2063.23 L527.99,2063.24 L528.99,2063.26 L529.07,2063.27 L529.99,2063.29 L531,2063.31 L532,2063.33 L533,2063.35 L534,2063.37 L535.01,2063.39 L536.01,2063.41 L537.01,2063.43 L538.02,2063.45 L539.02,2063.47 L540.02,2063.49 L541.03,2063.51 L542.03,2063.53 L543.03,2063.55 L544.04,2063.57 L545.04,2063.58 L546.04,2063.6 L547.05,2063.62 L548.05,2063.64 L549.05,2063.65 L550.06,2063.67 L551.06,2063.69 L552.06,2063.7 L553.07,2063.72 L554.07,2063.73 L555.07,2063.75 L556.08,2063.76 L557.08,2063.78 L557.31,2063.78 L557.7,2063.79 L558.08,2063.79 L559.09,2063.81 L559.24,2063.81 L560.09,2063.82 L560.79,2063.83 L561.09,2063.84 L561.17,2063.84 L562.1,2063.85 L563.1,2063.86 L564.1,2063.88 L565.11,2063.89 L566.11,2063.9 L567.11,2063.92 L568.12,2063.93 L569.12,2063.94 L570.12,2063.95 L571.13,2063.96 L572.13,2063.97 L573.13,2063.99 L574.14,2064 L574.68,2064 L575.14,2064.01 L575.84,2064.02 L576.14,2064.02 L576.99,2064.03 L577.15,2064.03 L578.15,2064.04 L579.15,2064.05 L580.16,2064.06 L581.16,2064.07 L582.16,2064.08 L583.17,2064.09 L583.86,2064.1 L584.17,2064.1 L585.02,2064.11 L585.17,2064.11 L586.18,2064.12 L587.18,2064.12 L588.18,2064.13 L589.19,2064.14 L590.19,2064.15 L591.19,2064.16 L592.2,2064.17 L593.2,2064.17 L594.2,2064.18 L595.21,2064.19 L596.21,2064.2 L597.21,2064.2 L598.22,2064.21 L599.22,2064.22 L600.22,2064.22 L601.23,2064.23 L602.23,2064.24 L603.23,2064.24 L604.24,2064.25 L605.24,2064.26 L605.63,2064.26 L606.24,2064.26 L606.55,2064.26 L607.25,2064.27 L607.48,2064.27 L608.25,2064.27 L609.25,2064.28 L610.26,2064.28 L611.26,2064.29 L611.41,2064.29 L612.26,2064.29 L612.34,2064.29 L613.27,2064.3 L614.27,2064.3 L615.27,2064.31 L616.28,2064.31 L617.28,2064.32 L618.28,2064.32 L619.29,2064.33 L620.29,2064.33 L621.29,2064.34 L622.3,2064.34 L623.3,2064.35 L624.3,2064.35 L625.31,2064.35 L626.31,2064.36 L626.46,2064.36 L627.31,2064.36 L627.39,2064.36 L628.32,2064.36 L629.32,2064.37 L630.32,2064.37 L631.33,2064.37 L632.33,2064.38 L633.33,2064.38 L634.34,2064.38 L635.34,2064.39 L636.34,2064.39 L637.35,2064.39 L638.35,2064.4 L639.35,2064.4 L640.36,2064.4 L641.36,2064.4 L642.36,2064.41 L643.37,2064.41 L644.37,2064.41 L645.37,2064.41 L646.38,2064.42 L647.38,2064.42 L648.38,2064.42 L649.39,2064.42 L650.39,2064.43 L651.39,2064.43 L652.4,2064.43 L653.4,2064.43 L654.4,2064.43 L654.87,2064.43 L655.41,2064.44 L656.41,2064.44 L657.41,2064.44 L657.95,2064.44 L658.42,2064.44 L659.42,2064.44 L660.42,2064.44 L661.43,2064.45 L662.43,2064.45 L663.43,2064.45 L664.44,2064.45 L665.44,2064.45 L666.44,2064.45 L667.45,2064.45" fill="none" stroke="#0000ff" stroke-opacity="0.6" stroke-width="3.5" stroke-linejoin="round"/>
</g>
<line x1="208.78" y1="1999.6" x2="208.78" y2="2082.5" stroke="#2e2828" stroke-width="2.0" stroke-dasharray="6.5,6.1" stroke-dashoffset="2.7"/>
<rect x="131.6" y="1999.6" width="694.6" height="82.9" fill="none" stroke="#000" stroke-width="1.6"/>
<line x1="124.6" y1="2030" x2="131.6" y2="2030" stroke="#000" stroke-width="1.5"/>
<text x="61.63" y="2037.3" font-family='"DejaVu Sans", sans-serif' font-size="19.7">0.025</text>
<line x1="124.6" y1="2064.5" x2="131.6" y2="2064.5" stroke="#000" stroke-width="1.5"/>
<text x="61.24" y="2071.8" font-family='"DejaVu Sans", sans-serif' font-size="19.7">0.000</text>
<line x1="131.6" y1="2082.5" x2="131.6" y2="2089.5" stroke="#000" stroke-width="1.5"/>
<text x="103.37" y="2115.6" font-family='"Liberation Sans", Arial, sans-serif' font-size="20.3">-1000</text>
<line x1="208.78" y1="2082.5" x2="208.78" y2="2089.5" stroke="#000" stroke-width="1.5"/>
<text x="203.14" y="2115.6" font-family='"Liberation Sans", Arial, sans-serif' font-size="20.3">0</text>
<line x1="285.96" y1="2082.5" x2="285.96" y2="2089.5" stroke="#000" stroke-width="1.5"/>
<text x="263.02" y="2115.6" font-family='"Liberation Sans", Arial, sans-serif' font-size="20.3">1000</text>
<line x1="363.13" y1="2082.5" x2="363.13" y2="2089.5" stroke="#000" stroke-width="1.5"/>
<text x="340.45" y="2115.6" font-family='"Liberation Sans", Arial, sans-serif' font-size="20.3">2000</text>
<line x1="440.31" y1="2082.5" x2="440.31" y2="2089.5" stroke="#000" stroke-width="1.5"/>
<text x="417.73" y="2115.6" font-family='"Liberation Sans", Arial, sans-serif' font-size="20.3">3000</text>
<line x1="517.49" y1="2082.5" x2="517.49" y2="2089.5" stroke="#000" stroke-width="1.5"/>
<text x="495.06" y="2115.6" font-family='"Liberation Sans", Arial, sans-serif' font-size="20.3">4000</text>
<line x1="594.67" y1="2082.5" x2="594.67" y2="2089.5" stroke="#000" stroke-width="1.5"/>
<text x="572.08" y="2115.6" font-family='"Liberation Sans", Arial, sans-serif' font-size="20.3">5000</text>
<line x1="671.84" y1="2082.5" x2="671.84" y2="2089.5" stroke="#000" stroke-width="1.5"/>
<text x="649.16" y="2115.6" font-family='"Liberation Sans", Arial, sans-serif' font-size="20.3">6000</text>
<line x1="749.02" y1="2082.5" x2="749.02" y2="2089.5" stroke="#000" stroke-width="1.5"/>
<text x="726.34" y="2115.6" font-family='"Liberation Sans", Arial, sans-serif' font-size="20.3">7000</text>
<line x1="826.2" y1="2082.5" x2="826.2" y2="2089.5" stroke="#000" stroke-width="1.5"/>
<text x="803.57" y="2115.6" font-family='"Liberation Sans", Arial, sans-serif' font-size="20.3">8000</text>
<rect x="1073" y="142.4" width="4.9" height="41.4" fill="#0000ff"/>
<rect x="1073" y="183.8" width="19" height="41.4" fill="#ff5733"/>
<line x1="1072" y1="142.4" x2="1072" y2="225.2" stroke="#000" stroke-width="1.9"/>
<rect x="987.8" y="142.4" width="695" height="82.8" fill="none" stroke="#000" stroke-width="1.6"/>
<line x1="1065.4" y1="141.6" x2="1065.4" y2="226" stroke="#fff" stroke-width="3.4"/>
<line x1="1065.4" y1="141.6" x2="1065.4" y2="226" stroke="#3a3636" stroke-width="2.8" stroke-dasharray="6.5,6.4" stroke-dashoffset="4.3"/>
<rect x="1116.8" y="229.4" width="5.9" height="41.25" fill="#0000ff"/>
<rect x="1116.8" y="270.65" width="21" height="41.25" fill="#ff5733"/>
<line x1="1116" y1="229.4" x2="1116" y2="311.9" stroke="#000" stroke-width="1.9"/>
<rect x="987.8" y="229.4" width="695" height="82.5" fill="none" stroke="#000" stroke-width="1.6"/>
<line x1="1065.4" y1="228.6" x2="1065.4" y2="312.7" stroke="#fff" stroke-width="3.4"/>
<line x1="1065.4" y1="228.6" x2="1065.4" y2="312.7" stroke="#3a3636" stroke-width="2.8" stroke-dasharray="6.5,6.4" stroke-dashoffset="4.3"/>
<rect x="1146" y="316.4" width="17.5" height="41.25" fill="#0000ff"/>
<rect x="1163.5" y="357.65" width="21.4" height="41.25" fill="#ff5733"/>
<line x1="1163.5" y1="316.4" x2="1163.5" y2="398.9" stroke="#000" stroke-width="1.9"/>
<rect x="987.8" y="316.4" width="695" height="82.5" fill="none" stroke="#000" stroke-width="1.6"/>
<line x1="1065.4" y1="315.6" x2="1065.4" y2="399.7" stroke="#fff" stroke-width="3.4"/>
<line x1="1065.4" y1="315.6" x2="1065.4" y2="399.7" stroke="#3a3636" stroke-width="2.8" stroke-dasharray="6.5,6.4" stroke-dashoffset="4.3"/>
<rect x="1268.1" y="403.5" width="38.6" height="41" fill="#0000ff"/>
<rect x="1256.9" y="444.5" width="49.8" height="41" fill="#ff5733"/>
<line x1="1306.7" y1="403.5" x2="1306.7" y2="485.5" stroke="#000" stroke-width="1.9"/>
<rect x="987.8" y="403.5" width="695" height="82" fill="none" stroke="#000" stroke-width="1.6"/>
<line x1="1065.4" y1="402.7" x2="1065.4" y2="486.3" stroke="#fff" stroke-width="3.4"/>
<line x1="1065.4" y1="402.7" x2="1065.4" y2="486.3" stroke="#3a3636" stroke-width="2.8" stroke-dasharray="6.5,6.4" stroke-dashoffset="4.3"/>
<rect x="1189" y="490.5" width="293.7" height="41.35" fill="#0000ff"/>
<rect x="1368" y="531.85" width="114.7" height="41.35" fill="#ff5733"/>
<line x1="1482.7" y1="490.5" x2="1482.7" y2="573.2" stroke="#000" stroke-width="1.9"/>
<rect x="987.8" y="490.5" width="695" height="82.7" fill="none" stroke="#000" stroke-width="1.6"/>
<line x1="1065.4" y1="489.7" x2="1065.4" y2="574" stroke="#fff" stroke-width="3.4"/>
<line x1="1065.4" y1="489.7" x2="1065.4" y2="574" stroke="#3a3636" stroke-width="2.8" stroke-dasharray="6.5,6.4" stroke-dashoffset="4.3"/>
<line x1="987.8" y1="573.2" x2="987.8" y2="580.2" stroke="#000" stroke-width="1.5"/>
<text x="959.57" y="604" font-family='"Liberation Sans", Arial, sans-serif' font-size="20.3">-1000</text>
<line x1="1065.02" y1="573.2" x2="1065.02" y2="580.2" stroke="#000" stroke-width="1.5"/>
<text x="1059.39" y="604" font-family='"Liberation Sans", Arial, sans-serif' font-size="20.3">0</text>
<line x1="1142.24" y1="573.2" x2="1142.24" y2="580.2" stroke="#000" stroke-width="1.5"/>
<text x="1119.31" y="604" font-family='"Liberation Sans", Arial, sans-serif' font-size="20.3">1000</text>
<line x1="1219.47" y1="573.2" x2="1219.47" y2="580.2" stroke="#000" stroke-width="1.5"/>
<text x="1196.78" y="604" font-family='"Liberation Sans", Arial, sans-serif' font-size="20.3">2000</text>
<line x1="1296.69" y1="573.2" x2="1296.69" y2="580.2" stroke="#000" stroke-width="1.5"/>
<text x="1274.11" y="604" font-family='"Liberation Sans", Arial, sans-serif' font-size="20.3">3000</text>
<line x1="1373.91" y1="573.2" x2="1373.91" y2="580.2" stroke="#000" stroke-width="1.5"/>
<text x="1351.48" y="604" font-family='"Liberation Sans", Arial, sans-serif' font-size="20.3">4000</text>
<line x1="1451.13" y1="573.2" x2="1451.13" y2="580.2" stroke="#000" stroke-width="1.5"/>
<text x="1428.55" y="604" font-family='"Liberation Sans", Arial, sans-serif' font-size="20.3">5000</text>
<line x1="1528.36" y1="573.2" x2="1528.36" y2="580.2" stroke="#000" stroke-width="1.5"/>
<text x="1505.67" y="604" font-family='"Liberation Sans", Arial, sans-serif' font-size="20.3">6000</text>
<line x1="1605.58" y1="573.2" x2="1605.58" y2="580.2" stroke="#000" stroke-width="1.5"/>
<text x="1582.89" y="604" font-family='"Liberation Sans", Arial, sans-serif' font-size="20.3">7000</text>
<line x1="1682.8" y1="573.2" x2="1682.8" y2="580.2" stroke="#000" stroke-width="1.5"/>
<text x="1660.17" y="604" font-family='"Liberation Sans", Arial, sans-serif' font-size="20.3">8000</text>
<text x="932" y="163" font-family='"Liberation Sans", Arial, sans-serif' font-size="17.2" textLength="46.54" lengthAdjust="spacingAndGlyphs" fill="#1515e8">Prod1</text>
<text x="932" y="256.1" font-family='"Liberation Sans", Arial, sans-serif' font-size="17.2" textLength="46.54" lengthAdjust="spacingAndGlyphs" fill="#1515e8">Prod1</text>
<text x="933.4" y="341.8" font-family='"Liberation Sans", Arial, sans-serif' font-size="17.2" textLength="46.54" lengthAdjust="spacingAndGlyphs" fill="#1515e8">Prod1</text>
<text x="932" y="423" font-family='"Liberation Sans", Arial, sans-serif' font-size="17.2" textLength="46.54" lengthAdjust="spacingAndGlyphs" fill="#1515e8">Prod1</text>
<text x="933.4" y="511.6" font-family='"Liberation Sans", Arial, sans-serif' font-size="17.2" textLength="46.54" lengthAdjust="spacingAndGlyphs" fill="#1515e8">Prod1</text>
<text x="945.38" y="206.2" font-family='"Liberation Sans", Arial, sans-serif' font-size="17.2" textLength="32.13" lengthAdjust="spacingAndGlyphs" fill="#f4603c">Tig1</text>
<text x="945.38" y="299" font-family='"Liberation Sans", Arial, sans-serif' font-size="17.2" textLength="32.13" lengthAdjust="spacingAndGlyphs" fill="#f4603c">Tig1</text>
<text x="946.78" y="385.1" font-family='"Liberation Sans", Arial, sans-serif' font-size="17.2" textLength="31.72" lengthAdjust="spacingAndGlyphs" fill="#f4603c">Tig1</text>
<text x="945.38" y="465.9" font-family='"Liberation Sans", Arial, sans-serif' font-size="17.2" textLength="32.13" lengthAdjust="spacingAndGlyphs" fill="#f4603c">Tig1</text>
<text x="946.78" y="555.5" font-family='"Liberation Sans", Arial, sans-serif' font-size="17.2" textLength="31.72" lengthAdjust="spacingAndGlyphs" fill="#f4603c">Tig1</text>
<line x1="986.6" y1="902.2" x2="1679.9" y2="902.2" stroke="#999" stroke-width="1.6"/>
<line x1="1679.9" y1="902.2" x2="1679.9" y2="1333.3" stroke="#444" stroke-width="1.6"/>
<line x1="986.6" y1="901.4000000000001" x2="986.6" y2="1334.1" stroke="#000" stroke-width="1.6"/>
<line x1="986.6" y1="1333.3" x2="1680.7" y2="1333.3" stroke="#000" stroke-width="1.6"/>
<line x1="979.6" y1="1329.1" x2="986.6" y2="1329.1" stroke="#000" stroke-width="1.5"/>
<text x="962.15" y="1337.8" font-family='"Liberation Sans", Arial, sans-serif' font-size="20.3">0</text>
<line x1="979.6" y1="1256.54" x2="986.6" y2="1256.54" stroke="#000" stroke-width="1.5"/>
<text x="939.51" y="1265.24" font-family='"Liberation Sans", Arial, sans-serif' font-size="20.3">250</text>
<line x1="979.6" y1="1183.98" x2="986.6" y2="1183.98" stroke="#000" stroke-width="1.5"/>
<text x="939.51" y="1192.68" font-family='"Liberation Sans", Arial, sans-serif' font-size="20.3">500</text>
<line x1="979.6" y1="1111.42" x2="986.6" y2="1111.42" stroke="#000" stroke-width="1.5"/>
<text x="939.51" y="1120.12" font-family='"Liberation Sans", Arial, sans-serif' font-size="20.3">750</text>
<line x1="979.6" y1="1038.86" x2="986.6" y2="1038.86" stroke="#000" stroke-width="1.5"/>
<text x="928.24" y="1047.56" font-family='"Liberation Sans", Arial, sans-serif' font-size="20.3">1000</text>
<line x1="979.6" y1="966.3" x2="986.6" y2="966.3" stroke="#000" stroke-width="1.5"/>
<text x="928.24" y="975" font-family='"Liberation Sans", Arial, sans-serif' font-size="20.3">1250</text>
<line x1="1017.8" y1="1333.3" x2="1017.8" y2="1340.3" stroke="#000" stroke-width="1.5"/>
<text x="1011.35" y="1362.7" font-family='"DejaVu Sans", sans-serif' font-size="19.7">1</text>
<line x1="1154.88" y1="1333.3" x2="1154.88" y2="1340.3" stroke="#000" stroke-width="1.5"/>
<text x="1148.53" y="1362.7" font-family='"DejaVu Sans", sans-serif' font-size="19.7">6</text>
<line x1="1319.39" y1="1333.3" x2="1319.39" y2="1340.3" stroke="#000" stroke-width="1.5"/>
<text x="1306.78" y="1362.7" font-family='"DejaVu Sans", sans-serif' font-size="19.7">12</text>
<line x1="1483.89" y1="1333.3" x2="1483.89" y2="1340.3" stroke="#000" stroke-width="1.5"/>
<text x="1470.94" y="1362.7" font-family='"DejaVu Sans", sans-serif' font-size="19.7">18</text>
<line x1="1648.39" y1="1333.3" x2="1648.39" y2="1340.3" stroke="#000" stroke-width="1.5"/>
<text x="1635.68" y="1362.7" font-family='"DejaVu Sans", sans-serif' font-size="19.7">24</text>
<text x="1279.6" y="1390.5" font-family='"DejaVu Sans", sans-serif' font-size="19.7">Time (dpe)</text>
<circle cx="1017.8" cy="1313.43" r="6.9" fill="#000"/>
<circle cx="1154.88" cy="1283.24" r="6.9" fill="#000"/>
<circle cx="1319.39" cy="1229.84" r="6.9" fill="#000"/>
<circle cx="1483.89" cy="1190.37" r="6.9" fill="#000"/>
<circle cx="1648.39" cy="1087.62" r="6.9" fill="#000"/>
<rect x="1011" y="1281.38" width="13.6" height="13.6" fill="#ff5733"/>
<rect x="1148.09" y="1232.62" width="13.6" height="13.6" fill="#ff5733"/>
<rect x="1312.59" y="1206.78" width="13.6" height="13.6" fill="#ff5733"/>
<rect x="1477.09" y="1131.32" width="13.6" height="13.6" fill="#ff5733"/>
<rect x="1641.59" y="978.37" width="13.6" height="13.6" fill="#ff5733"/>
<path d="M1017.8,1308.07 L1024.7,1322.27 L1010.9,1322.27Z" fill="#0000ff"/>
<path d="M1154.88,1238.12 L1161.79,1252.32 L1147.98,1252.32Z" fill="#0000ff"/>
<path d="M1319.39,1205.9 L1326.29,1220.1 L1312.49,1220.1Z" fill="#0000ff"/>
<path d="M1483.89,956.01 L1490.79,970.21 L1476.99,970.21Z" fill="#0000ff"/>
<path d="M1648.39,915.95 L1655.29,930.15 L1641.49,930.15Z" fill="#0000ff"/>
<line x1="1017.8" y1="903.0" x2="1017.8" y2="1332.5" stroke="#cfcfcf" stroke-width="1.3"/>
<line x1="1154.88" y1="903.0" x2="1154.88" y2="1332.5" stroke="#cfcfcf" stroke-width="1.3"/>
<line x1="1319.39" y1="903.0" x2="1319.39" y2="1332.5" stroke="#cfcfcf" stroke-width="1.3"/>
<line x1="1483.89" y1="903.0" x2="1483.89" y2="1332.5" stroke="#cfcfcf" stroke-width="1.3"/>
<line x1="1648.39" y1="903.0" x2="1648.39" y2="1332.5" stroke="#cfcfcf" stroke-width="1.3"/>
<line x1="987.4" y1="1329.1" x2="1679.1000000000001" y2="1329.1" stroke="#cfcfcf" stroke-width="1.3"/>
<line x1="987.4" y1="1256.54" x2="1679.1000000000001" y2="1256.54" stroke="#cfcfcf" stroke-width="1.3"/>
<line x1="987.4" y1="1183.98" x2="1679.1000000000001" y2="1183.98" stroke="#cfcfcf" stroke-width="1.3"/>
<line x1="987.4" y1="1111.42" x2="1679.1000000000001" y2="1111.42" stroke="#cfcfcf" stroke-width="1.3"/>
<line x1="987.4" y1="1038.86" x2="1679.1000000000001" y2="1038.86" stroke="#cfcfcf" stroke-width="1.3"/>
<line x1="987.4" y1="966.3" x2="1679.1000000000001" y2="966.3" stroke="#cfcfcf" stroke-width="1.3"/>
<rect x="995.5" y="910.8" width="142.6" height="96.4" rx="4" ry="4" fill="#fff" fill-opacity="0.8" stroke="#cccccc" stroke-width="1.3"/>
<circle cx="1023.7" cy="930.1" r="6.9" fill="#000"/>
<rect x="1016.9" y="953.3" width="13.6" height="13.6" fill="#ff5733"/>
<path d="M1023.7,983.1 L1030.6,997.3 L1016.8,997.3Z" fill="#0000ff"/>
<text x="1059.2" y="935.8" font-family='"DejaVu Sans", sans-serif' font-size="19.7" textLength="71.98" lengthAdjust="spacingAndGlyphs">Control</text>
<text x="1060.4" y="965.1" font-family='"DejaVu Sans", sans-serif' font-size="19.7">Tig1</text>
<text x="1058.33" y="994.8" font-family='"DejaVu Sans", sans-serif' font-size="19.7">Prod1</text>
<text x="-0.27" y="41.7" font-family='"Liberation Sans", Arial, sans-serif' font-size="60" textLength="35.47" lengthAdjust="spacingAndGlyphs">A</text>
<text x="0.26" y="790.7" font-family='"Liberation Sans", Arial, sans-serif' font-size="60" textLength="33.66" lengthAdjust="spacingAndGlyphs">B</text>
<text x="-0.47" y="1561.8" font-family='"Liberation Sans", Arial, sans-serif' font-size="60" textLength="34.28" lengthAdjust="spacingAndGlyphs">C</text>
<text x="937.85" y="41.7" font-family='"Liberation Sans", Arial, sans-serif' font-size="60" textLength="37.51" lengthAdjust="spacingAndGlyphs">D</text>
<text x="938.53" y="790.7" font-family='"Liberation Sans", Arial, sans-serif' font-size="60" textLength="27.29" lengthAdjust="spacingAndGlyphs">E</text>
<text x="357.97" y="107.1" font-family='"Liberation Sans", Arial, sans-serif' font-size="58.5">Control</text>
<text x="408.49" y="868.8" font-family='"Liberation Sans", Arial, sans-serif' font-size="58.5" textLength="107.42" lengthAdjust="spacingAndGlyphs">Tig1</text>
<text x="391.4" y="1627.7" font-family='"Liberation Sans", Arial, sans-serif' font-size="58.5" textLength="150.24" lengthAdjust="spacingAndGlyphs">Prod1</text>
<text x="360.04" y="674.8" font-family='"Liberation Sans", Arial, sans-serif' font-size="34.5">PD position (µm)</text>
<text x="360.04" y="1447.5" font-family='"Liberation Sans", Arial, sans-serif' font-size="34.5">PD position (µm)</text>
<text x="360.04" y="2199" font-family='"Liberation Sans", Arial, sans-serif' font-size="34.5">PD position (µm)</text>
<text x="26.3" y="469.53" font-family='"Liberation Sans", Arial, sans-serif' font-size="34.5" transform="rotate(-90 26.3 469.53)" textLength="203.23" lengthAdjust="spacingAndGlyphs">Density (a.u.)</text>
<text x="26.3" y="1219.53" font-family='"Liberation Sans", Arial, sans-serif' font-size="34.5" transform="rotate(-90 26.3 1219.53)" textLength="203.23" lengthAdjust="spacingAndGlyphs">Density (a.u.)</text>
<text x="26.3" y="1969.03" font-family='"Liberation Sans", Arial, sans-serif' font-size="34.5" transform="rotate(-90 26.3 1969.03)" textLength="203.23" lengthAdjust="spacingAndGlyphs">Density (a.u.)</text>
<text x="1244.56" y="660.4" font-family='"Liberation Sans", Arial, sans-serif' font-size="34.5" textLength="199.43" lengthAdjust="spacingAndGlyphs">Δ mean (µm)</text>
<text x="897.1" y="1178.46" font-family='"Liberation Sans", Arial, sans-serif' font-size="34.5" transform="rotate(-90 897.1 1178.46)" textLength="141.1" lengthAdjust="spacingAndGlyphs">STD (µm)</text>
<text x="1258.73" y="1469.6" font-family='"Liberation Sans", Arial, sans-serif' font-size="34.5" textLength="166.64" lengthAdjust="spacingAndGlyphs">Time (dpe)</text>
<text x="756.15" y="167.7" font-family='"Liberation Sans", Arial, sans-serif' font-size="23.5" textLength="58.44" lengthAdjust="spacingAndGlyphs">1 dpe</text>
<text x="759.13" y="252.7" font-family='"Liberation Sans", Arial, sans-serif' font-size="23.5" textLength="58.46" lengthAdjust="spacingAndGlyphs">6 dpe</text>
<text x="746.87" y="342.7" font-family='"Liberation Sans", Arial, sans-serif' font-size="23.5" textLength="70.74" lengthAdjust="spacingAndGlyphs">12 dpe</text>
<text x="746.87" y="427.3" font-family='"Liberation Sans", Arial, sans-serif' font-size="23.5" textLength="70.74" lengthAdjust="spacingAndGlyphs">18 dpe</text>
<text x="746.94" y="516.4" font-family='"Liberation Sans", Arial, sans-serif' font-size="23.5" textLength="70.66" lengthAdjust="spacingAndGlyphs">24 dpe</text>
<text x="760.68" y="926.7" font-family='"Liberation Sans", Arial, sans-serif' font-size="23.5" textLength="57.39" lengthAdjust="spacingAndGlyphs">1 dpe</text>
<text x="763.54" y="1011.8" font-family='"Liberation Sans", Arial, sans-serif' font-size="23.5" textLength="58.05" lengthAdjust="spacingAndGlyphs">6 dpe</text>
<text x="751.28" y="1102" font-family='"Liberation Sans", Arial, sans-serif' font-size="23.5" textLength="70.33" lengthAdjust="spacingAndGlyphs">12 dpe</text>
<text x="751.28" y="1187" font-family='"Liberation Sans", Arial, sans-serif' font-size="23.5" textLength="70.33" lengthAdjust="spacingAndGlyphs">18 dpe</text>
<text x="751.35" y="1275.5" font-family='"Liberation Sans", Arial, sans-serif' font-size="23.5" textLength="70.25" lengthAdjust="spacingAndGlyphs">24 dpe</text>
<text x="757.47" y="1712.6" font-family='"Liberation Sans", Arial, sans-serif' font-size="23.5" textLength="57.6" lengthAdjust="spacingAndGlyphs">1 dpe</text>
<text x="760.55" y="1798" font-family='"Liberation Sans", Arial, sans-serif' font-size="23.5" textLength="57.53" lengthAdjust="spacingAndGlyphs">6 dpe</text>
<text x="747.87" y="1887.9" font-family='"Liberation Sans", Arial, sans-serif' font-size="23.5" textLength="70.53" lengthAdjust="spacingAndGlyphs">12 dpe</text>
<text x="747.87" y="1972.7" font-family='"Liberation Sans", Arial, sans-serif' font-size="23.5" textLength="70.53" lengthAdjust="spacingAndGlyphs">18 dpe</text>
<text x="747.95" y="2061.3" font-family='"Liberation Sans", Arial, sans-serif' font-size="23.5" textLength="70.46" lengthAdjust="spacingAndGlyphs">24 dpe</text>
<text x="1611.97" y="167" font-family='"Liberation Sans", Arial, sans-serif' font-size="23.5" textLength="57.81" lengthAdjust="spacingAndGlyphs">1 dpe</text>
<text x="1614.84" y="252.1" font-family='"Liberation Sans", Arial, sans-serif' font-size="23.5" textLength="58.25" lengthAdjust="spacingAndGlyphs">6 dpe</text>
<text x="1602.37" y="342" font-family='"Liberation Sans", Arial, sans-serif' font-size="23.5" textLength="70.43" lengthAdjust="spacingAndGlyphs">12 dpe</text>
<text x="1602.37" y="427" font-family='"Liberation Sans", Arial, sans-serif' font-size="23.5" textLength="70.43" lengthAdjust="spacingAndGlyphs">18 dpe</text>
<text x="1602.75" y="515.9" font-family='"Liberation Sans", Arial, sans-serif' font-size="23.5" textLength="70.04" lengthAdjust="spacingAndGlyphs">24 dpe</text>
</svg></body></html>
